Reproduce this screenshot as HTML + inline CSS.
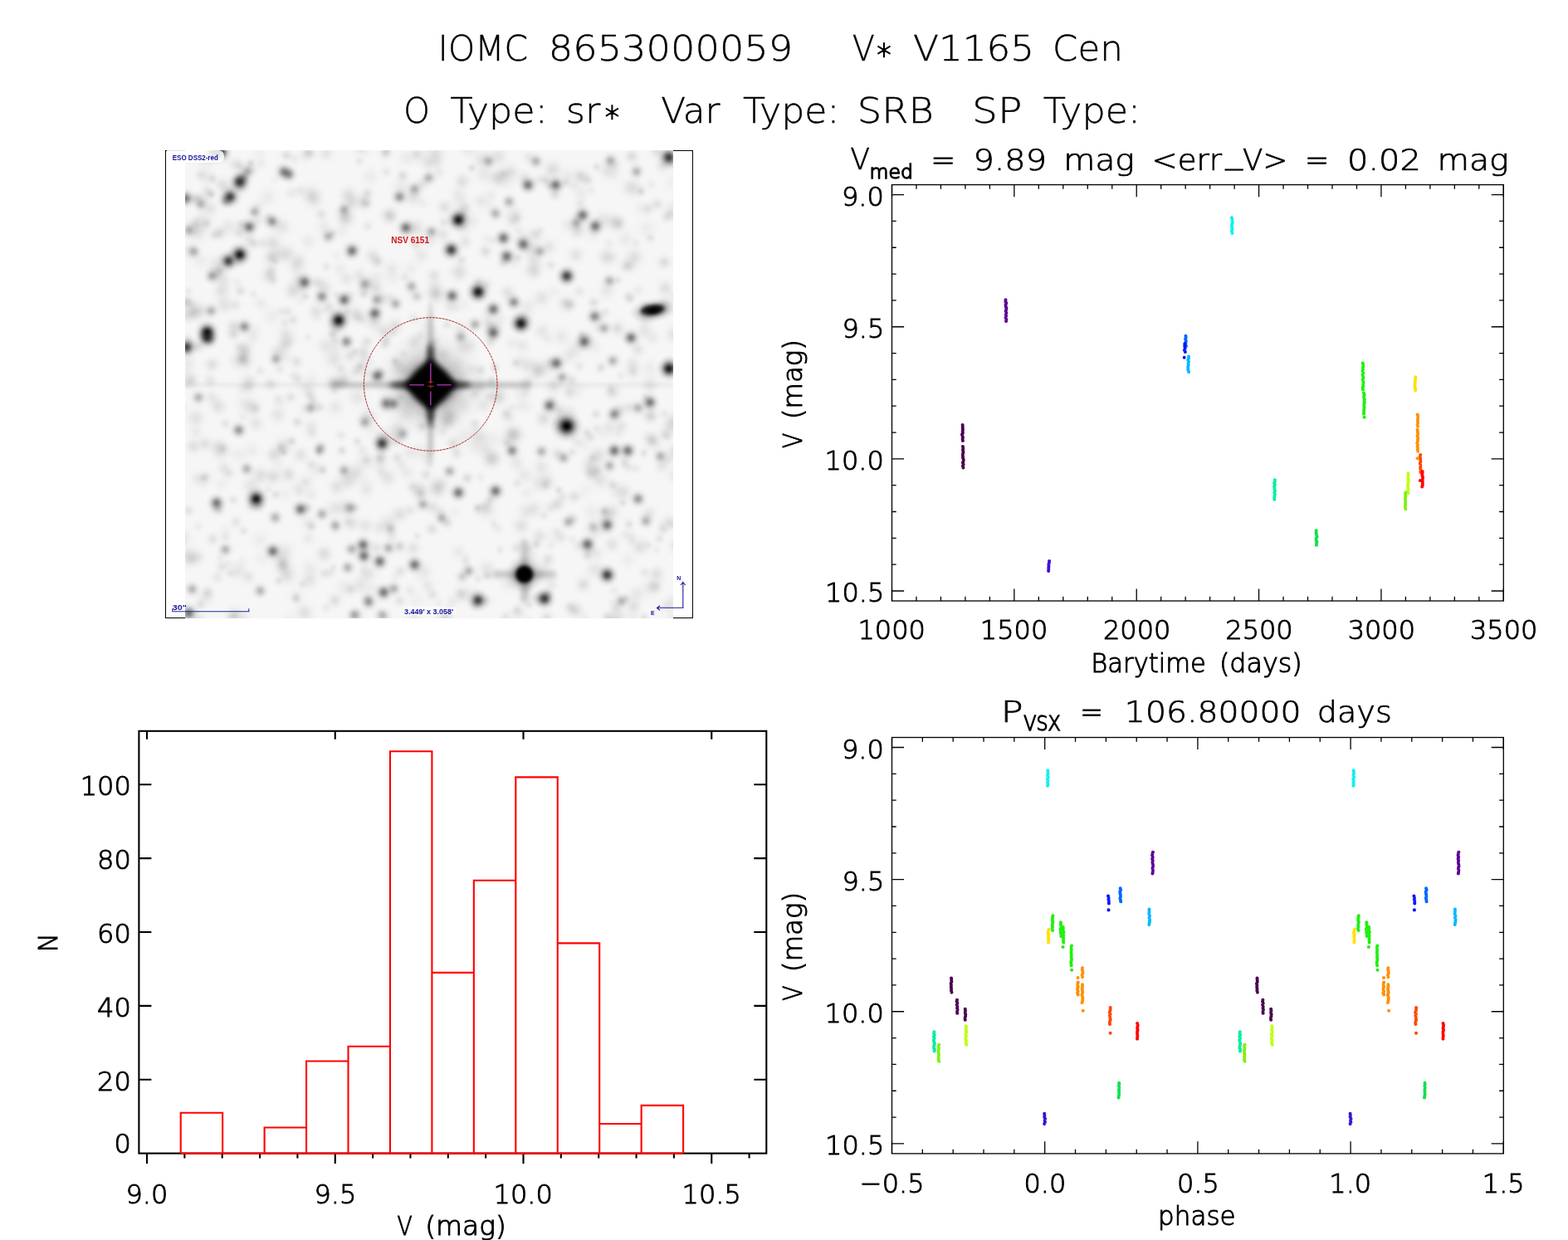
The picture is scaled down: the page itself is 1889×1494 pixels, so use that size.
<!DOCTYPE html><html><head><meta charset="utf-8"><title>IOMC 8653000059 V* V1165 Cen</title><style>html,body{margin:0;padding:0;background:#fff;width:1889px;height:1494px;overflow:hidden}svg{display:block}</style></head><body>
<svg width="1889" height="1494" viewBox="0 0 1889 1494">
<rect width="1889" height="1494" fill="#fff"/>
<rect x="199.5" y="181.5" width="635" height="563" fill="none" stroke="#000" stroke-width="1"/>
<defs><radialGradient id="sg"><stop offset="0.0" stop-opacity="1.000"/><stop offset="0.1" stop-opacity="0.956"/><stop offset="0.2" stop-opacity="0.835"/><stop offset="0.3" stop-opacity="0.667"/><stop offset="0.4" stop-opacity="0.487"/><stop offset="0.5" stop-opacity="0.325"/><stop offset="0.6" stop-opacity="0.198"/><stop offset="0.7" stop-opacity="0.110"/><stop offset="0.8" stop-opacity="0.056"/><stop offset="0.9" stop-opacity="0.026"/><stop offset="1.0" stop-opacity="0.000"/></radialGradient><radialGradient id="halo"><stop offset="0" stop-color="#000" stop-opacity="0.75"/><stop offset="0.4" stop-color="#000" stop-opacity="0.4"/><stop offset="0.7" stop-color="#000" stop-opacity="0.12"/><stop offset="1" stop-color="#000" stop-opacity="0"/></radialGradient><clipPath id="ic"><rect x="223.0" y="181.0" width="588.0" height="564.0"/></clipPath><filter id="b5" x="-50%" y="-50%" width="200%" height="200%"><feGaussianBlur stdDeviation="5"/></filter><filter id="b3" x="-50%" y="-50%" width="200%" height="200%"><feGaussianBlur stdDeviation="3"/></filter><filter id="b2" x="-50%" y="-200%" width="200%" height="500%"><feGaussianBlur stdDeviation="2"/></filter></defs>
<g clip-path="url(#ic)">
<rect x="223.0" y="181.0" width="588.0" height="564.0" fill="#f6f6f6"/>
<circle cx="488.52" cy="497.31" r="18.7" fill="url(#sg)" opacity="0.06"/><circle cx="521.69" cy="513.16" r="10.94" fill="url(#sg)" opacity="0.07"/><circle cx="594.67" cy="631.17" r="9.99" fill="url(#sg)" opacity="0.05"/><circle cx="272.22" cy="640.74" r="16.28" fill="url(#sg)" opacity="0.03"/><circle cx="805.35" cy="729.77" r="15.87" fill="url(#sg)" opacity="0.07"/><circle cx="312.18" cy="184.61" r="14.55" fill="url(#sg)" opacity="0.03"/><circle cx="331.74" cy="314.88" r="9.32" fill="url(#sg)" opacity="0.06"/><circle cx="481.44" cy="659.55" r="14.45" fill="url(#sg)" opacity="0.07"/><circle cx="516.86" cy="556.25" r="13.8" fill="url(#sg)" opacity="0.05"/><circle cx="814.6" cy="747.53" r="17.82" fill="url(#sg)" opacity="0.08"/><circle cx="406.54" cy="307.83" r="12.03" fill="url(#sg)" opacity="0.03"/><circle cx="676.24" cy="405.83" r="17.89" fill="url(#sg)" opacity="0.06"/><circle cx="790.91" cy="662.36" r="9.01" fill="url(#sg)" opacity="0.04"/><circle cx="762.34" cy="445.77" r="19.29" fill="url(#sg)" opacity="0.06"/><circle cx="261.68" cy="537.31" r="17.17" fill="url(#sg)" opacity="0.05"/><circle cx="270.11" cy="366.9" r="19.12" fill="url(#sg)" opacity="0.08"/><circle cx="288.56" cy="317.43" r="10.06" fill="url(#sg)" opacity="0.03"/><circle cx="694.62" cy="277.99" r="14.87" fill="url(#sg)" opacity="0.06"/><circle cx="332.03" cy="596.11" r="10.38" fill="url(#sg)" opacity="0.08"/><circle cx="287.67" cy="417.51" r="11.24" fill="url(#sg)" opacity="0.05"/><circle cx="798.62" cy="637.16" r="12.19" fill="url(#sg)" opacity="0.09"/><circle cx="344" cy="402.31" r="17.97" fill="url(#sg)" opacity="0.07"/><circle cx="278" cy="743.86" r="11.24" fill="url(#sg)" opacity="0.05"/><circle cx="680.07" cy="364.82" r="12.11" fill="url(#sg)" opacity="0.04"/><circle cx="271.89" cy="510.49" r="11.55" fill="url(#sg)" opacity="0.07"/><circle cx="440.28" cy="436.14" r="19.07" fill="url(#sg)" opacity="0.06"/><circle cx="561.59" cy="673.39" r="10.92" fill="url(#sg)" opacity="0.04"/><circle cx="761.24" cy="645.42" r="11.62" fill="url(#sg)" opacity="0.04"/><circle cx="660.18" cy="715.79" r="11.06" fill="url(#sg)" opacity="0.10"/><circle cx="745.55" cy="522.43" r="13.43" fill="url(#sg)" opacity="0.04"/><circle cx="241.14" cy="728.58" r="11.5" fill="url(#sg)" opacity="0.08"/><circle cx="371.67" cy="648.81" r="15.26" fill="url(#sg)" opacity="0.05"/><circle cx="322.91" cy="589.48" r="9.72" fill="url(#sg)" opacity="0.05"/><circle cx="552.5" cy="665.28" r="15.45" fill="url(#sg)" opacity="0.05"/><circle cx="766.58" cy="293.08" r="9.17" fill="url(#sg)" opacity="0.05"/><circle cx="484.53" cy="210.7" r="10.85" fill="url(#sg)" opacity="0.06"/><circle cx="560.16" cy="251.53" r="12.8" fill="url(#sg)" opacity="0.09"/><circle cx="804.34" cy="553.08" r="16.26" fill="url(#sg)" opacity="0.07"/><circle cx="301.93" cy="196.14" r="9.19" fill="url(#sg)" opacity="0.09"/><circle cx="637.18" cy="728.63" r="9.22" fill="url(#sg)" opacity="0.07"/><circle cx="506.38" cy="595.31" r="12.35" fill="url(#sg)" opacity="0.10"/><circle cx="263.01" cy="489.46" r="16.74" fill="url(#sg)" opacity="0.09"/><circle cx="658.78" cy="579.92" r="17.33" fill="url(#sg)" opacity="0.09"/><circle cx="428.4" cy="569.27" r="18.46" fill="url(#sg)" opacity="0.09"/><circle cx="467.46" cy="629.77" r="18.07" fill="url(#sg)" opacity="0.07"/><circle cx="591.73" cy="395.46" r="15.12" fill="url(#sg)" opacity="0.07"/><circle cx="265.96" cy="543.02" r="19.43" fill="url(#sg)" opacity="0.09"/><circle cx="653.47" cy="398.96" r="16.72" fill="url(#sg)" opacity="0.07"/><circle cx="481.43" cy="657.22" r="9.88" fill="url(#sg)" opacity="0.08"/><circle cx="235.81" cy="521.14" r="14.05" fill="url(#sg)" opacity="0.05"/><circle cx="635.6" cy="461.42" r="15.45" fill="url(#sg)" opacity="0.09"/><circle cx="370.99" cy="182.49" r="12.16" fill="url(#sg)" opacity="0.08"/><circle cx="339.14" cy="273.35" r="18.51" fill="url(#sg)" opacity="0.08"/><circle cx="482.28" cy="687.85" r="12.43" fill="url(#sg)" opacity="0.08"/><circle cx="336.71" cy="423.33" r="17.46" fill="url(#sg)" opacity="0.09"/><circle cx="744.4" cy="396.66" r="15.12" fill="url(#sg)" opacity="0.05"/><circle cx="299.43" cy="460.97" r="17.79" fill="url(#sg)" opacity="0.09"/><circle cx="643.31" cy="721.3" r="11.91" fill="url(#sg)" opacity="0.04"/><circle cx="487.49" cy="333.94" r="11.25" fill="url(#sg)" opacity="0.06"/><circle cx="592.19" cy="459.48" r="12.31" fill="url(#sg)" opacity="0.09"/><circle cx="805.26" cy="435.72" r="9.78" fill="url(#sg)" opacity="0.03"/><circle cx="739.95" cy="199.81" r="16.44" fill="url(#sg)" opacity="0.07"/><circle cx="402.8" cy="630.33" r="9.2" fill="url(#sg)" opacity="0.04"/><circle cx="489.99" cy="190.19" r="17.71" fill="url(#sg)" opacity="0.05"/><circle cx="302.24" cy="202.95" r="15.61" fill="url(#sg)" opacity="0.06"/><circle cx="594.72" cy="551.99" r="17.48" fill="url(#sg)" opacity="0.10"/><circle cx="627.33" cy="290.42" r="13.99" fill="url(#sg)" opacity="0.04"/><circle cx="224.44" cy="447.04" r="16.5" fill="url(#sg)" opacity="0.04"/><circle cx="380.87" cy="374.45" r="16.32" fill="url(#sg)" opacity="0.07"/><circle cx="585.44" cy="610.06" r="13.13" fill="url(#sg)" opacity="0.09"/><circle cx="759.93" cy="226.06" r="18.79" fill="url(#sg)" opacity="0.08"/><circle cx="295.69" cy="436.33" r="15.57" fill="url(#sg)" opacity="0.09"/><circle cx="443.33" cy="502.5" r="18.23" fill="url(#sg)" opacity="0.09"/><circle cx="782.67" cy="442.17" r="15.84" fill="url(#sg)" opacity="0.04"/><circle cx="649.72" cy="645.73" r="15.74" fill="url(#sg)" opacity="0.08"/><circle cx="345.55" cy="692.59" r="19.3" fill="url(#sg)" opacity="0.10"/><circle cx="539.1" cy="629.91" r="12.36" fill="url(#sg)" opacity="0.09"/><circle cx="729.76" cy="376.04" r="9.87" fill="url(#sg)" opacity="0.06"/><circle cx="547.08" cy="616.97" r="14.12" fill="url(#sg)" opacity="0.03"/><circle cx="701.87" cy="212.77" r="17.4" fill="url(#sg)" opacity="0.04"/><circle cx="418.33" cy="628.26" r="10.48" fill="url(#sg)" opacity="0.04"/><circle cx="526.88" cy="591.33" r="17.82" fill="url(#sg)" opacity="0.08"/><circle cx="783.56" cy="458.74" r="18.97" fill="url(#sg)" opacity="0.04"/><circle cx="350.41" cy="478.3" r="12.05" fill="url(#sg)" opacity="0.08"/><circle cx="600.04" cy="476.08" r="17.86" fill="url(#sg)" opacity="0.07"/><circle cx="404.4" cy="394.82" r="17.88" fill="url(#sg)" opacity="0.09"/><circle cx="342.53" cy="664.34" r="19.17" fill="url(#sg)" opacity="0.07"/><circle cx="560.65" cy="291.36" r="14.63" fill="url(#sg)" opacity="0.07"/><circle cx="579.93" cy="191.93" r="19.18" fill="url(#sg)" opacity="0.07"/><circle cx="457.55" cy="635.81" r="14.91" fill="url(#sg)" opacity="0.06"/><circle cx="631.21" cy="213.83" r="14.66" fill="url(#sg)" opacity="0.06"/><circle cx="790.21" cy="706.04" r="11.83" fill="url(#sg)" opacity="0.06"/><circle cx="293.93" cy="424.93" r="17.57" fill="url(#sg)" opacity="0.09"/><circle cx="502.97" cy="358.08" r="11.01" fill="url(#sg)" opacity="0.07"/><circle cx="771.31" cy="250.31" r="17.18" fill="url(#sg)" opacity="0.03"/><circle cx="334.08" cy="306.45" r="16.21" fill="url(#sg)" opacity="0.05"/><circle cx="430.5" cy="531.75" r="10.1" fill="url(#sg)" opacity="0.08"/><circle cx="291.42" cy="469.01" r="11.63" fill="url(#sg)" opacity="0.04"/><circle cx="535.15" cy="426.71" r="12.95" fill="url(#sg)" opacity="0.06"/><circle cx="534.55" cy="267.68" r="11.14" fill="url(#sg)" opacity="0.07"/><circle cx="599.8" cy="480" r="17.94" fill="url(#sg)" opacity="0.07"/><circle cx="730.34" cy="309.55" r="16.78" fill="url(#sg)" opacity="0.09"/><circle cx="757.8" cy="357.31" r="12.31" fill="url(#sg)" opacity="0.09"/><circle cx="348.45" cy="749.06" r="18.32" fill="url(#sg)" opacity="0.04"/><circle cx="361.13" cy="593.05" r="11.72" fill="url(#sg)" opacity="0.04"/><circle cx="715.64" cy="418.02" r="17.29" fill="url(#sg)" opacity="0.04"/><circle cx="458.86" cy="569.31" r="9.19" fill="url(#sg)" opacity="0.04"/><circle cx="626.07" cy="699.13" r="19.17" fill="url(#sg)" opacity="0.04"/><circle cx="520.4" cy="611.18" r="14.28" fill="url(#sg)" opacity="0.08"/><circle cx="331.03" cy="216.5" r="10.11" fill="url(#sg)" opacity="0.03"/><circle cx="547.9" cy="471.51" r="14.97" fill="url(#sg)" opacity="0.04"/><circle cx="328.35" cy="293.05" r="17.82" fill="url(#sg)" opacity="0.10"/><circle cx="772.28" cy="230.67" r="9.65" fill="url(#sg)" opacity="0.10"/><circle cx="494.32" cy="614.95" r="12.43" fill="url(#sg)" opacity="0.06"/><circle cx="526.14" cy="422.87" r="15.31" fill="url(#sg)" opacity="0.03"/><circle cx="637.22" cy="660.61" r="10.9" fill="url(#sg)" opacity="0.06"/><circle cx="660.12" cy="408.64" r="11.05" fill="url(#sg)" opacity="0.04"/><circle cx="524.51" cy="184.85" r="18.38" fill="url(#sg)" opacity="0.09"/><circle cx="639.39" cy="670.06" r="15.61" fill="url(#sg)" opacity="0.06"/><circle cx="576.56" cy="465.46" r="19.32" fill="url(#sg)" opacity="0.09"/><circle cx="372.44" cy="699.09" r="16.82" fill="url(#sg)" opacity="0.08"/><circle cx="705.16" cy="408.84" r="18.41" fill="url(#sg)" opacity="0.09"/><circle cx="633.49" cy="616.41" r="17.03" fill="url(#sg)" opacity="0.06"/><circle cx="650.14" cy="216.5" r="12.59" fill="url(#sg)" opacity="0.06"/><circle cx="224.34" cy="380.14" r="15.71" fill="url(#sg)" opacity="0.07"/><circle cx="356.8" cy="718.24" r="15.99" fill="url(#sg)" opacity="0.05"/><circle cx="612.54" cy="502.94" r="14.6" fill="url(#sg)" opacity="0.06"/><circle cx="815.93" cy="544.66" r="16.36" fill="url(#sg)" opacity="0.08"/><circle cx="804.09" cy="189.1" r="15.46" fill="url(#sg)" opacity="0.08"/><circle cx="371.47" cy="406.49" r="9.53" fill="url(#sg)" opacity="0.04"/><circle cx="442.65" cy="232.51" r="11.63" fill="url(#sg)" opacity="0.09"/><circle cx="546.93" cy="467.49" r="19.15" fill="url(#sg)" opacity="0.07"/><circle cx="813.07" cy="542.22" r="17.5" fill="url(#sg)" opacity="0.04"/><circle cx="575.33" cy="611.81" r="9.47" fill="url(#sg)" opacity="0.10"/><circle cx="313.64" cy="446.79" r="10.78" fill="url(#sg)" opacity="0.06"/><circle cx="583.48" cy="209.61" r="18.93" fill="url(#sg)" opacity="0.06"/><circle cx="533" cy="519.16" r="12.84" fill="url(#sg)" opacity="0.05"/><circle cx="609.76" cy="497.81" r="11.98" fill="url(#sg)" opacity="0.08"/><circle cx="395.03" cy="184.04" r="11.57" fill="url(#sg)" opacity="0.03"/><circle cx="311.64" cy="609.17" r="13.09" fill="url(#sg)" opacity="0.09"/><circle cx="665.52" cy="204.79" r="19.38" fill="url(#sg)" opacity="0.10"/><circle cx="261.96" cy="695.79" r="13.51" fill="url(#sg)" opacity="0.06"/><circle cx="799.95" cy="315.89" r="14.5" fill="url(#sg)" opacity="0.10"/><circle cx="650.2" cy="444.83" r="19.28" fill="url(#sg)" opacity="0.09"/><circle cx="578.97" cy="242.06" r="15.55" fill="url(#sg)" opacity="0.06"/><circle cx="339.79" cy="205.88" r="14.55" fill="url(#sg)" opacity="0.04"/><circle cx="482.83" cy="559.37" r="13.78" fill="url(#sg)" opacity="0.05"/><circle cx="566.18" cy="416.81" r="17.17" fill="url(#sg)" opacity="0.07"/><circle cx="814.59" cy="722.81" r="16.71" fill="url(#sg)" opacity="0.05"/><circle cx="286.09" cy="688.41" r="17.24" fill="url(#sg)" opacity="0.07"/><circle cx="432.79" cy="331.85" r="16.19" fill="url(#sg)" opacity="0.07"/><circle cx="571.82" cy="539.4" r="16.91" fill="url(#sg)" opacity="0.04"/><circle cx="366.88" cy="738.36" r="18.62" fill="url(#sg)" opacity="0.09"/><circle cx="241.63" cy="210.89" r="11.84" fill="url(#sg)" opacity="0.06"/><circle cx="590.76" cy="234.82" r="14.69" fill="url(#sg)" opacity="0.04"/><circle cx="269.69" cy="564.18" r="14.78" fill="url(#sg)" opacity="0.07"/><circle cx="441.16" cy="450.69" r="11.21" fill="url(#sg)" opacity="0.05"/><circle cx="663.41" cy="657.33" r="9.78" fill="url(#sg)" opacity="0.04"/><circle cx="701.89" cy="534.02" r="17.07" fill="url(#sg)" opacity="0.04"/><circle cx="471.77" cy="324.13" r="17.5" fill="url(#sg)" opacity="0.06"/><circle cx="608.89" cy="743.79" r="12.42" fill="url(#sg)" opacity="0.07"/><circle cx="664.17" cy="704.55" r="13.49" fill="url(#sg)" opacity="0.06"/><circle cx="276.02" cy="678.35" r="9.82" fill="url(#sg)" opacity="0.04"/><circle cx="555.4" cy="454.31" r="16.2" fill="url(#sg)" opacity="0.05"/><circle cx="681.75" cy="219.67" r="11.24" fill="url(#sg)" opacity="0.08"/><circle cx="266.86" cy="350.38" r="16.61" fill="url(#sg)" opacity="0.08"/><circle cx="387.18" cy="258.04" r="12.76" fill="url(#sg)" opacity="0.08"/><circle cx="437.1" cy="243.38" r="16.45" fill="url(#sg)" opacity="0.07"/><circle cx="767.3" cy="715.52" r="18.59" fill="url(#sg)" opacity="0.06"/><circle cx="698.22" cy="350.93" r="12.34" fill="url(#sg)" opacity="0.06"/><circle cx="776.93" cy="689.57" r="11.61" fill="url(#sg)" opacity="0.06"/><circle cx="436.61" cy="384.54" r="13.15" fill="url(#sg)" opacity="0.06"/><circle cx="334.59" cy="499.62" r="17.37" fill="url(#sg)" opacity="0.07"/><circle cx="718.15" cy="499.04" r="10.85" fill="url(#sg)" opacity="0.08"/><circle cx="744.78" cy="337.56" r="9.23" fill="url(#sg)" opacity="0.07"/><circle cx="543.4" cy="501.72" r="19.15" fill="url(#sg)" opacity="0.08"/><circle cx="698.98" cy="212.77" r="14.74" fill="url(#sg)" opacity="0.09"/><circle cx="268.26" cy="222.88" r="16.74" fill="url(#sg)" opacity="0.09"/><circle cx="268.65" cy="539.99" r="10.51" fill="url(#sg)" opacity="0.08"/><circle cx="606.1" cy="316.89" r="11.31" fill="url(#sg)" opacity="0.08"/><circle cx="529.89" cy="614.94" r="13.14" fill="url(#sg)" opacity="0.05"/><circle cx="797.03" cy="561.95" r="14.18" fill="url(#sg)" opacity="0.07"/><circle cx="649.12" cy="582.47" r="18.61" fill="url(#sg)" opacity="0.06"/><circle cx="712.09" cy="558.71" r="17.96" fill="url(#sg)" opacity="0.09"/><circle cx="716.63" cy="686.08" r="19.06" fill="url(#sg)" opacity="0.07"/><circle cx="531.27" cy="583.59" r="17.42" fill="url(#sg)" opacity="0.06"/><circle cx="469.43" cy="259.91" r="16.78" fill="url(#sg)" opacity="0.10"/><circle cx="442.56" cy="272.23" r="11.15" fill="url(#sg)" opacity="0.06"/><circle cx="392.63" cy="732.64" r="9.62" fill="url(#sg)" opacity="0.05"/><circle cx="286.66" cy="547.94" r="17.15" fill="url(#sg)" opacity="0.04"/><circle cx="255.28" cy="439.33" r="15.13" fill="url(#sg)" opacity="0.09"/><circle cx="239.75" cy="238.38" r="10.94" fill="url(#sg)" opacity="0.05"/><circle cx="358.77" cy="587.7" r="15.25" fill="url(#sg)" opacity="0.05"/><circle cx="328.62" cy="337.33" r="10.81" fill="url(#sg)" opacity="0.08"/><circle cx="404.41" cy="490.69" r="17.58" fill="url(#sg)" opacity="0.06"/><circle cx="373.76" cy="685.38" r="18.6" fill="url(#sg)" opacity="0.05"/><circle cx="545.31" cy="725.33" r="14.07" fill="url(#sg)" opacity="0.05"/><circle cx="247.72" cy="719.88" r="17.41" fill="url(#sg)" opacity="0.06"/><circle cx="533.5" cy="472.08" r="11.88" fill="url(#sg)" opacity="0.10"/><circle cx="611.22" cy="312.39" r="9.11" fill="url(#sg)" opacity="0.06"/><circle cx="440.19" cy="633.35" r="16.49" fill="url(#sg)" opacity="0.07"/><circle cx="312.06" cy="266.07" r="12.38" fill="url(#sg)" opacity="0.05"/><circle cx="737.81" cy="472.26" r="15.69" fill="url(#sg)" opacity="0.10"/><circle cx="377.37" cy="482.85" r="10.58" fill="url(#sg)" opacity="0.08"/><circle cx="218.82" cy="647.49" r="17.88" fill="url(#sg)" opacity="0.09"/><circle cx="267.29" cy="330.93" r="16.52" fill="url(#sg)" opacity="0.04"/><circle cx="505.1" cy="445.01" r="19.03" fill="url(#sg)" opacity="0.07"/><circle cx="730.69" cy="350.26" r="17.29" fill="url(#sg)" opacity="0.06"/><circle cx="766.22" cy="228.2" r="17.68" fill="url(#sg)" opacity="0.04"/><circle cx="542.94" cy="477.74" r="10.65" fill="url(#sg)" opacity="0.09"/><circle cx="404.22" cy="354.37" r="9.8" fill="url(#sg)" opacity="0.05"/><circle cx="497.4" cy="586.49" r="12.78" fill="url(#sg)" opacity="0.08"/><circle cx="281.24" cy="402.29" r="13.85" fill="url(#sg)" opacity="0.10"/><circle cx="714.19" cy="551.36" r="9.13" fill="url(#sg)" opacity="0.06"/><circle cx="642.58" cy="312.31" r="14.92" fill="url(#sg)" opacity="0.06"/><circle cx="224.26" cy="745.19" r="17.39" fill="url(#sg)" opacity="0.04"/><circle cx="586.41" cy="342.69" r="12.95" fill="url(#sg)" opacity="0.07"/><circle cx="396.33" cy="369.66" r="13.12" fill="url(#sg)" opacity="0.08"/><circle cx="371.36" cy="290.77" r="16.68" fill="url(#sg)" opacity="0.05"/><circle cx="783.13" cy="499.05" r="16.6" fill="url(#sg)" opacity="0.05"/><circle cx="712.48" cy="228.97" r="10.48" fill="url(#sg)" opacity="0.04"/><circle cx="623.26" cy="582.56" r="10.89" fill="url(#sg)" opacity="0.06"/><circle cx="718.48" cy="516.23" r="9.95" fill="url(#sg)" opacity="0.05"/><circle cx="311.94" cy="247.24" r="13.27" fill="url(#sg)" opacity="0.04"/><circle cx="768.53" cy="421.11" r="14.37" fill="url(#sg)" opacity="0.08"/><circle cx="676.58" cy="647.32" r="13.05" fill="url(#sg)" opacity="0.05"/><circle cx="464.46" cy="184.85" r="13.21" fill="url(#sg)" opacity="0.08"/><circle cx="805.21" cy="629.27" r="15.93" fill="url(#sg)" opacity="0.07"/><circle cx="229.09" cy="366" r="12.59" fill="url(#sg)" opacity="0.08"/><circle cx="281.55" cy="392.75" r="14.35" fill="url(#sg)" opacity="0.09"/><circle cx="711.46" cy="526.96" r="10.66" fill="url(#sg)" opacity="0.08"/><circle cx="757.99" cy="490.7" r="12.7" fill="url(#sg)" opacity="0.07"/><circle cx="302.77" cy="585.5" r="19.36" fill="url(#sg)" opacity="0.07"/><circle cx="645.8" cy="655.59" r="11.07" fill="url(#sg)" opacity="0.10"/><circle cx="593.01" cy="289.59" r="9.87" fill="url(#sg)" opacity="0.05"/><circle cx="562.74" cy="576.14" r="12.46" fill="url(#sg)" opacity="0.10"/><circle cx="434" cy="441.78" r="10.3" fill="url(#sg)" opacity="0.10"/><circle cx="299.09" cy="694.93" r="14.71" fill="url(#sg)" opacity="0.07"/><circle cx="553.09" cy="327.75" r="18.55" fill="url(#sg)" opacity="0.10"/><circle cx="706.87" cy="521.26" r="10.29" fill="url(#sg)" opacity="0.09"/><circle cx="390.57" cy="690.88" r="11.53" fill="url(#sg)" opacity="0.07"/><circle cx="714.79" cy="282.52" r="14.75" fill="url(#sg)" opacity="0.04"/><circle cx="237.15" cy="279.36" r="19.36" fill="url(#sg)" opacity="0.10"/><circle cx="611.71" cy="352.59" r="16.05" fill="url(#sg)" opacity="0.08"/><circle cx="446.22" cy="515.75" r="17.44" fill="url(#sg)" opacity="0.03"/><circle cx="337.32" cy="444.65" r="10.5" fill="url(#sg)" opacity="0.06"/><circle cx="558.57" cy="275.7" r="14.46" fill="url(#sg)" opacity="0.05"/><circle cx="557.68" cy="366.62" r="15.74" fill="url(#sg)" opacity="0.03"/><circle cx="619.25" cy="259.08" r="19.07" fill="url(#sg)" opacity="0.07"/><circle cx="499.01" cy="412.16" r="15.55" fill="url(#sg)" opacity="0.08"/><circle cx="671.3" cy="607.48" r="14.1" fill="url(#sg)" opacity="0.10"/><circle cx="719.27" cy="666.8" r="13.29" fill="url(#sg)" opacity="0.06"/><circle cx="556.45" cy="695.61" r="14.52" fill="url(#sg)" opacity="0.07"/><circle cx="476.47" cy="695.06" r="12.37" fill="url(#sg)" opacity="0.03"/><circle cx="651.9" cy="692.68" r="16.69" fill="url(#sg)" opacity="0.07"/><circle cx="667.63" cy="350.93" r="15.23" fill="url(#sg)" opacity="0.03"/><circle cx="292.42" cy="432.55" r="14.28" fill="url(#sg)" opacity="0.06"/><circle cx="249.08" cy="574.88" r="14.53" fill="url(#sg)" opacity="0.05"/><circle cx="401.17" cy="403.03" r="11.48" fill="url(#sg)" opacity="0.03"/><circle cx="762.95" cy="730.76" r="15.99" fill="url(#sg)" opacity="0.09"/><circle cx="470" cy="638.22" r="11.33" fill="url(#sg)" opacity="0.08"/><circle cx="556.95" cy="694.56" r="10.03" fill="url(#sg)" opacity="0.09"/><circle cx="292.03" cy="484.58" r="18.99" fill="url(#sg)" opacity="0.03"/><circle cx="363.87" cy="347.78" r="12.41" fill="url(#sg)" opacity="0.03"/><circle cx="753.28" cy="644.07" r="13.17" fill="url(#sg)" opacity="0.05"/><circle cx="568.13" cy="202.34" r="9.33" fill="url(#sg)" opacity="0.09"/><circle cx="402.09" cy="462.09" r="18.81" fill="url(#sg)" opacity="0.10"/><circle cx="500.64" cy="294.54" r="12.1" fill="url(#sg)" opacity="0.09"/><circle cx="754.28" cy="288.22" r="17.8" fill="url(#sg)" opacity="0.05"/><circle cx="500.55" cy="274.66" r="18.24" fill="url(#sg)" opacity="0.10"/><circle cx="338.8" cy="538.99" r="11.01" fill="url(#sg)" opacity="0.09"/><circle cx="247.9" cy="236.9" r="16.62" fill="url(#sg)" opacity="0.05"/><circle cx="756.38" cy="675.14" r="16.49" fill="url(#sg)" opacity="0.04"/><circle cx="634.18" cy="714.3" r="13.67" fill="url(#sg)" opacity="0.04"/><circle cx="351.5" cy="352.31" r="16.46" fill="url(#sg)" opacity="0.04"/><circle cx="326.25" cy="311.15" r="15.98" fill="url(#sg)" opacity="0.09"/><circle cx="440.76" cy="555.99" r="18.29" fill="url(#sg)" opacity="0.07"/><circle cx="354.94" cy="348.74" r="18.73" fill="url(#sg)" opacity="0.08"/><circle cx="383.55" cy="543.32" r="9.94" fill="url(#sg)" opacity="0.10"/><circle cx="481.33" cy="479.24" r="14.57" fill="url(#sg)" opacity="0.03"/><circle cx="576.62" cy="339.33" r="11.63" fill="url(#sg)" opacity="0.09"/><circle cx="270.12" cy="339.68" r="16.93" fill="url(#sg)" opacity="0.05"/><circle cx="384.9" cy="490.61" r="10.96" fill="url(#sg)" opacity="0.09"/><circle cx="808.67" cy="195.29" r="13.85" fill="url(#sg)" opacity="0.08"/><circle cx="448.06" cy="709.4" r="14.25" fill="url(#sg)" opacity="0.04"/><circle cx="550.49" cy="546.21" r="12.78" fill="url(#sg)" opacity="0.08"/><circle cx="686.23" cy="472.61" r="14.31" fill="url(#sg)" opacity="0.09"/><circle cx="627.19" cy="474.78" r="18.99" fill="url(#sg)" opacity="0.04"/><circle cx="684.23" cy="270.81" r="15.38" fill="url(#sg)" opacity="0.05"/><circle cx="481.38" cy="619.72" r="17.26" fill="url(#sg)" opacity="0.09"/><circle cx="359.09" cy="456.75" r="11.32" fill="url(#sg)" opacity="0.07"/><circle cx="516.38" cy="196.28" r="15.27" fill="url(#sg)" opacity="0.08"/><circle cx="560.44" cy="677.03" r="10.89" fill="url(#sg)" opacity="0.04"/><circle cx="228.64" cy="460.76" r="13.56" fill="url(#sg)" opacity="0.06"/><circle cx="375.24" cy="634.35" r="9.76" fill="url(#sg)" opacity="0.09"/><circle cx="558.2" cy="487.82" r="17.31" fill="url(#sg)" opacity="0.05"/><circle cx="305.45" cy="354.52" r="9.44" fill="url(#sg)" opacity="0.05"/><circle cx="589.48" cy="477.61" r="11.78" fill="url(#sg)" opacity="0.07"/><circle cx="270.91" cy="647" r="10.8" fill="url(#sg)" opacity="0.05"/><circle cx="313.57" cy="572.44" r="17.72" fill="url(#sg)" opacity="0.09"/><circle cx="254.56" cy="411.7" r="12.83" fill="url(#sg)" opacity="0.05"/><circle cx="798.38" cy="200.18" r="14.14" fill="url(#sg)" opacity="0.08"/><circle cx="807.74" cy="258.99" r="13.78" fill="url(#sg)" opacity="0.08"/><circle cx="241.46" cy="314.12" r="18.35" fill="url(#sg)" opacity="0.04"/><circle cx="452.97" cy="347.09" r="13.46" fill="url(#sg)" opacity="0.04"/><circle cx="238.49" cy="747.77" r="17.01" fill="url(#sg)" opacity="0.08"/><circle cx="355.46" cy="321.34" r="14.79" fill="url(#sg)" opacity="0.05"/><circle cx="494.01" cy="711.23" r="12.82" fill="url(#sg)" opacity="0.05"/><circle cx="804.79" cy="526.65" r="9.42" fill="url(#sg)" opacity="0.06"/><circle cx="606.58" cy="209.59" r="12.6" fill="url(#sg)" opacity="0.08"/><circle cx="734.93" cy="515.04" r="18.31" fill="url(#sg)" opacity="0.06"/><circle cx="452.97" cy="659.91" r="13" fill="url(#sg)" opacity="0.08"/><circle cx="346.8" cy="375.41" r="10.93" fill="url(#sg)" opacity="0.07"/><circle cx="315.99" cy="292.89" r="11.25" fill="url(#sg)" opacity="0.06"/><circle cx="402.51" cy="432.64" r="19.43" fill="url(#sg)" opacity="0.08"/><circle cx="733.91" cy="293.43" r="13.02" fill="url(#sg)" opacity="0.04"/><circle cx="631.43" cy="384.26" r="11.88" fill="url(#sg)" opacity="0.03"/><circle cx="326.87" cy="326.58" r="13.13" fill="url(#sg)" opacity="0.09"/><circle cx="645.69" cy="330.19" r="12.79" fill="url(#sg)" opacity="0.04"/><circle cx="778.11" cy="382.49" r="17.04" fill="url(#sg)" opacity="0.08"/><circle cx="760.43" cy="187.71" r="12.38" fill="url(#sg)" opacity="0.06"/><circle cx="267.73" cy="682.49" r="12.42" fill="url(#sg)" opacity="0.08"/><circle cx="528.54" cy="207.52" r="13.14" fill="url(#sg)" opacity="0.05"/><circle cx="242.41" cy="262.6" r="15.25" fill="url(#sg)" opacity="0.03"/><circle cx="404.74" cy="419.41" r="14.71" fill="url(#sg)" opacity="0.04"/><circle cx="640.55" cy="325.46" r="16.62" fill="url(#sg)" opacity="0.08"/><circle cx="306.02" cy="293.56" r="11.94" fill="url(#sg)" opacity="0.08"/><circle cx="460.38" cy="397.85" r="18.09" fill="url(#sg)" opacity="0.05"/><circle cx="392.66" cy="374.01" r="11.27" fill="url(#sg)" opacity="0.03"/><circle cx="232.67" cy="537.85" r="14.94" fill="url(#sg)" opacity="0.09"/><circle cx="801.41" cy="347.11" r="16.04" fill="url(#sg)" opacity="0.09"/><circle cx="347.29" cy="571.61" r="16" fill="url(#sg)" opacity="0.10"/><circle cx="737.29" cy="310.66" r="15.64" fill="url(#sg)" opacity="0.04"/><circle cx="473.77" cy="401.26" r="9.63" fill="url(#sg)" opacity="0.06"/><circle cx="414.25" cy="461.34" r="11.94" fill="url(#sg)" opacity="0.04"/><circle cx="458.66" cy="448.78" r="10.75" fill="url(#sg)" opacity="0.08"/><circle cx="361.41" cy="229.41" r="12.59" fill="url(#sg)" opacity="0.06"/><circle cx="308.17" cy="510.43" r="16.36" fill="url(#sg)" opacity="0.07"/><circle cx="636.71" cy="189.23" r="13.11" fill="url(#sg)" opacity="0.06"/><circle cx="255.64" cy="408.1" r="9.57" fill="url(#sg)" opacity="0.06"/><circle cx="568.36" cy="445.17" r="12.42" fill="url(#sg)" opacity="0.05"/><circle cx="232.07" cy="375.23" r="18.36" fill="url(#sg)" opacity="0.07"/><circle cx="374.62" cy="559.47" r="10.95" fill="url(#sg)" opacity="0.06"/><circle cx="585.92" cy="723.97" r="12.81" fill="url(#sg)" opacity="0.07"/><circle cx="781.54" cy="618.83" r="15.59" fill="url(#sg)" opacity="0.07"/><circle cx="463.75" cy="414.54" r="11.9" fill="url(#sg)" opacity="0.09"/><circle cx="744.08" cy="395.2" r="18.55" fill="url(#sg)" opacity="0.03"/><circle cx="299.24" cy="467.06" r="12.24" fill="url(#sg)" opacity="0.06"/><circle cx="802.23" cy="262.02" r="11.02" fill="url(#sg)" opacity="0.05"/><circle cx="624.74" cy="310.63" r="9.01" fill="url(#sg)" opacity="0.07"/><circle cx="453.56" cy="313.38" r="14.18" fill="url(#sg)" opacity="0.08"/><circle cx="545.78" cy="534.4" r="14.89" fill="url(#sg)" opacity="0.09"/><circle cx="797.36" cy="367.44" r="12.64" fill="url(#sg)" opacity="0.09"/><circle cx="405.39" cy="586.95" r="16.3" fill="url(#sg)" opacity="0.08"/><circle cx="794.42" cy="649.2" r="10.67" fill="url(#sg)" opacity="0.07"/><circle cx="511.41" cy="499.63" r="12.88" fill="url(#sg)" opacity="0.05"/><circle cx="665.88" cy="482.51" r="11.49" fill="url(#sg)" opacity="0.05"/><circle cx="412.34" cy="278.05" r="14.39" fill="url(#sg)" opacity="0.04"/><circle cx="255.82" cy="215.42" r="10.07" fill="url(#sg)" opacity="0.08"/><circle cx="285.44" cy="435.21" r="17.11" fill="url(#sg)" opacity="0.06"/><circle cx="315.22" cy="673.25" r="18.13" fill="url(#sg)" opacity="0.03"/><circle cx="369.83" cy="467.28" r="17.36" fill="url(#sg)" opacity="0.06"/><circle cx="646.14" cy="320.54" r="16.52" fill="url(#sg)" opacity="0.05"/><circle cx="417.64" cy="611.82" r="17.85" fill="url(#sg)" opacity="0.09"/><circle cx="557.35" cy="417.42" r="16.42" fill="url(#sg)" opacity="0.07"/><circle cx="714.94" cy="635.91" r="10.31" fill="url(#sg)" opacity="0.06"/><circle cx="618.28" cy="308.62" r="10.94" fill="url(#sg)" opacity="0.03"/><circle cx="568.14" cy="716.14" r="19.19" fill="url(#sg)" opacity="0.04"/><circle cx="629.18" cy="416.68" r="15.63" fill="url(#sg)" opacity="0.06"/><circle cx="776.16" cy="743.58" r="9.51" fill="url(#sg)" opacity="0.08"/><circle cx="288.8" cy="200.33" r="12" fill="url(#sg)" opacity="0.08"/><circle cx="812.19" cy="244.96" r="12.47" fill="url(#sg)" opacity="0.03"/><circle cx="542.45" cy="453.27" r="12.92" fill="url(#sg)" opacity="0.05"/><circle cx="696.69" cy="657.41" r="11.98" fill="url(#sg)" opacity="0.06"/><circle cx="587.42" cy="615.32" r="19.3" fill="url(#sg)" opacity="0.06"/><circle cx="633.04" cy="489.37" r="17.4" fill="url(#sg)" opacity="0.04"/><circle cx="322.7" cy="237.49" r="18.8" fill="url(#sg)" opacity="0.05"/><circle cx="509.98" cy="245.09" r="12.4" fill="url(#sg)" opacity="0.03"/><circle cx="556.42" cy="258.45" r="15.57" fill="url(#sg)" opacity="0.05"/><circle cx="354.08" cy="452.78" r="12.84" fill="url(#sg)" opacity="0.05"/><circle cx="248.64" cy="212.95" r="18.37" fill="url(#sg)" opacity="0.05"/><circle cx="264.89" cy="280.75" r="14.08" fill="url(#sg)" opacity="0.10"/><circle cx="338.92" cy="673.8" r="14.08" fill="url(#sg)" opacity="0.06"/><circle cx="700.59" cy="403.27" r="9.61" fill="url(#sg)" opacity="0.07"/><circle cx="610.82" cy="533.62" r="11.91" fill="url(#sg)" opacity="0.10"/><circle cx="735.03" cy="746.72" r="13.65" fill="url(#sg)" opacity="0.09"/><circle cx="651.53" cy="276.94" r="9.28" fill="url(#sg)" opacity="0.04"/><circle cx="289.03" cy="218.85" r="12.77" fill="url(#sg)" opacity="0.08"/><circle cx="403.38" cy="471.18" r="9.11" fill="url(#sg)" opacity="0.04"/><circle cx="791.64" cy="182.33" r="14.54" fill="url(#sg)" opacity="0.09"/><circle cx="691.79" cy="598.12" r="13.19" fill="url(#sg)" opacity="0.09"/><circle cx="712.94" cy="616.66" r="19.35" fill="url(#sg)" opacity="0.04"/><circle cx="786.33" cy="406.9" r="16.41" fill="url(#sg)" opacity="0.05"/><circle cx="761.96" cy="189.49" r="15.06" fill="url(#sg)" opacity="0.05"/><circle cx="450.26" cy="387.99" r="15.9" fill="url(#sg)" opacity="0.09"/><circle cx="436.08" cy="542.23" r="12.72" fill="url(#sg)" opacity="0.05"/><circle cx="759.28" cy="360.61" r="9.99" fill="url(#sg)" opacity="0.05"/><circle cx="661.5" cy="297.31" r="16.8" fill="url(#sg)" opacity="0.07"/><circle cx="624.77" cy="277.77" r="10.11" fill="url(#sg)" opacity="0.04"/><circle cx="427.5" cy="423.25" r="9.1" fill="url(#sg)" opacity="0.07"/><circle cx="459.2" cy="360.54" r="14.64" fill="url(#sg)" opacity="0.10"/><circle cx="340.4" cy="681.4" r="12.37" fill="url(#sg)" opacity="0.08"/><circle cx="282.8" cy="742.83" r="13.52" fill="url(#sg)" opacity="0.10"/><circle cx="349.34" cy="410.32" r="16.41" fill="url(#sg)" opacity="0.04"/><circle cx="381.47" cy="564.72" r="18.95" fill="url(#sg)" opacity="0.05"/><circle cx="327.7" cy="381.02" r="19.39" fill="url(#sg)" opacity="0.04"/><circle cx="597.57" cy="393.04" r="15.76" fill="url(#sg)" opacity="0.04"/><circle cx="586.53" cy="685.5" r="17.99" fill="url(#sg)" opacity="0.07"/><circle cx="519.9" cy="501.88" r="10.2" fill="url(#sg)" opacity="0.09"/><circle cx="630.52" cy="436.15" r="15.99" fill="url(#sg)" opacity="0.06"/><circle cx="448.02" cy="308.04" r="15.31" fill="url(#sg)" opacity="0.07"/><circle cx="526.11" cy="194.49" r="15.59" fill="url(#sg)" opacity="0.06"/><circle cx="572.83" cy="517.28" r="18.78" fill="url(#sg)" opacity="0.04"/><circle cx="498.27" cy="745.91" r="16.75" fill="url(#sg)" opacity="0.05"/><circle cx="658.58" cy="743.93" r="13.22" fill="url(#sg)" opacity="0.09"/><circle cx="293.76" cy="744.3" r="14.16" fill="url(#sg)" opacity="0.05"/><circle cx="720.45" cy="548.66" r="18.85" fill="url(#sg)" opacity="0.09"/><circle cx="695.01" cy="469.66" r="19.43" fill="url(#sg)" opacity="0.03"/><circle cx="738.32" cy="584.48" r="11.63" fill="url(#sg)" opacity="0.09"/><circle cx="489.53" cy="483.85" r="18.09" fill="url(#sg)" opacity="0.04"/><circle cx="385.21" cy="545.49" r="9.77" fill="url(#sg)" opacity="0.07"/><circle cx="688.7" cy="457.69" r="11.54" fill="url(#sg)" opacity="0.09"/><circle cx="729.32" cy="618.44" r="14.77" fill="url(#sg)" opacity="0.09"/><circle cx="694.46" cy="263.12" r="12.84" fill="url(#sg)" opacity="0.04"/><circle cx="240.01" cy="374.48" r="18.08" fill="url(#sg)" opacity="0.09"/><circle cx="288.21" cy="280.3" r="13.08" fill="url(#sg)" opacity="0.09"/><circle cx="587" cy="693.63" r="9.75" fill="url(#sg)" opacity="0.10"/><circle cx="341.63" cy="537.17" r="18.2" fill="url(#sg)" opacity="0.08"/><circle cx="335.84" cy="559.66" r="13.52" fill="url(#sg)" opacity="0.03"/><circle cx="421.07" cy="357" r="15.61" fill="url(#sg)" opacity="0.05"/><circle cx="578.64" cy="574.85" r="10.9" fill="url(#sg)" opacity="0.04"/><circle cx="632.87" cy="443.75" r="10.36" fill="url(#sg)" opacity="0.04"/><circle cx="780.74" cy="526.15" r="12.75" fill="url(#sg)" opacity="0.04"/><circle cx="812.91" cy="573.01" r="16.73" fill="url(#sg)" opacity="0.06"/><circle cx="403.54" cy="410.34" r="10.54" fill="url(#sg)" opacity="0.07"/><circle cx="471.98" cy="646.77" r="13.29" fill="url(#sg)" opacity="0.06"/><circle cx="520.88" cy="716.51" r="12.64" fill="url(#sg)" opacity="0.08"/><circle cx="358.57" cy="508.5" r="11.99" fill="url(#sg)" opacity="0.09"/><circle cx="389.32" cy="666.47" r="16.11" fill="url(#sg)" opacity="0.06"/><circle cx="776.34" cy="398.5" r="16.8" fill="url(#sg)" opacity="0.07"/><circle cx="486.15" cy="212.85" r="13.4" fill="url(#sg)" opacity="0.05"/><circle cx="481.66" cy="723.89" r="12.08" fill="url(#sg)" opacity="0.08"/><circle cx="619.89" cy="316.47" r="13.32" fill="url(#sg)" opacity="0.04"/><circle cx="753.43" cy="320.45" r="13.42" fill="url(#sg)" opacity="0.05"/><circle cx="708.67" cy="664.06" r="15.2" fill="url(#sg)" opacity="0.07"/><circle cx="277.46" cy="690.6" r="9.93" fill="url(#sg)" opacity="0.06"/><circle cx="441.94" cy="591.04" r="16.03" fill="url(#sg)" opacity="0.05"/><circle cx="754.95" cy="721.11" r="9.24" fill="url(#sg)" opacity="0.07"/><circle cx="498.58" cy="383.64" r="13.88" fill="url(#sg)" opacity="0.05"/><circle cx="619.18" cy="523.58" r="19.19" fill="url(#sg)" opacity="0.10"/><circle cx="811.58" cy="402.81" r="17.7" fill="url(#sg)" opacity="0.08"/><circle cx="637.22" cy="748.64" r="9.7" fill="url(#sg)" opacity="0.06"/><circle cx="457.97" cy="552.58" r="11.29" fill="url(#sg)" opacity="0.10"/><circle cx="343.24" cy="388.33" r="10.5" fill="url(#sg)" opacity="0.06"/><circle cx="661.6" cy="223.95" r="10.75" fill="url(#sg)" opacity="0.08"/><circle cx="590.55" cy="601.93" r="11.66" fill="url(#sg)" opacity="0.09"/><circle cx="655.06" cy="621.43" r="10.26" fill="url(#sg)" opacity="0.06"/><circle cx="227.45" cy="669.46" r="18.92" fill="url(#sg)" opacity="0.09"/><circle cx="232.46" cy="377.53" r="14.63" fill="url(#sg)" opacity="0.07"/><circle cx="284.51" cy="629.01" r="12.17" fill="url(#sg)" opacity="0.07"/><circle cx="292.51" cy="501.96" r="10.36" fill="url(#sg)" opacity="0.04"/><circle cx="524.3" cy="344.74" r="17.16" fill="url(#sg)" opacity="0.05"/><circle cx="465.53" cy="207.17" r="11.29" fill="url(#sg)" opacity="0.06"/><circle cx="551.76" cy="439.68" r="17.93" fill="url(#sg)" opacity="0.04"/><circle cx="726.36" cy="264.88" r="19.19" fill="url(#sg)" opacity="0.07"/><circle cx="461.05" cy="527.41" r="18.07" fill="url(#sg)" opacity="0.10"/><circle cx="465.2" cy="182.15" r="10.61" fill="url(#sg)" opacity="0.09"/><circle cx="657.19" cy="585.04" r="10.64" fill="url(#sg)" opacity="0.07"/><circle cx="235.07" cy="239.29" r="12.16" fill="url(#sg)" opacity="0.10"/><circle cx="602.54" cy="662.56" r="9.48" fill="url(#sg)" opacity="0.06"/><circle cx="264.85" cy="325.71" r="10.17" fill="url(#sg)" opacity="0.09"/><circle cx="414.61" cy="456.68" r="15.87" fill="url(#sg)" opacity="0.09"/><circle cx="783.98" cy="501.98" r="14.26" fill="url(#sg)" opacity="0.09"/><circle cx="453.88" cy="347.83" r="16.76" fill="url(#sg)" opacity="0.05"/><circle cx="437.98" cy="422.39" r="14.01" fill="url(#sg)" opacity="0.06"/><circle cx="475.44" cy="434.77" r="9.52" fill="url(#sg)" opacity="0.09"/><circle cx="254.92" cy="479" r="14.75" fill="url(#sg)" opacity="0.06"/><circle cx="351.16" cy="232.93" r="12.91" fill="url(#sg)" opacity="0.05"/><circle cx="507.44" cy="308.2" r="16.87" fill="url(#sg)" opacity="0.06"/><circle cx="223.36" cy="409.39" r="19.15" fill="url(#sg)" opacity="0.03"/><circle cx="572.83" cy="727.5" r="12.84" fill="url(#sg)" opacity="0.07"/><circle cx="438.6" cy="348.87" r="15.4" fill="url(#sg)" opacity="0.07"/><circle cx="406.45" cy="461.64" r="14.42" fill="url(#sg)" opacity="0.08"/><circle cx="249.72" cy="229.29" r="11.65" fill="url(#sg)" opacity="0.05"/><circle cx="693.8" cy="420.25" r="18.03" fill="url(#sg)" opacity="0.06"/><circle cx="388.89" cy="566.26" r="9.9" fill="url(#sg)" opacity="0.10"/><circle cx="715.26" cy="364.38" r="12.33" fill="url(#sg)" opacity="0.09"/><circle cx="689.4" cy="544.66" r="9.6" fill="url(#sg)" opacity="0.08"/><circle cx="246.67" cy="534.58" r="14.8" fill="url(#sg)" opacity="0.09"/><circle cx="599.94" cy="188.83" r="18.81" fill="url(#sg)" opacity="0.08"/><circle cx="564.74" cy="179.2" r="16.74" fill="url(#sg)" opacity="0.06"/><circle cx="624.43" cy="740.64" r="18.63" fill="url(#sg)" opacity="0.04"/><circle cx="685.27" cy="428.86" r="16.89" fill="url(#sg)" opacity="0.06"/><circle cx="485.71" cy="426.77" r="10.24" fill="url(#sg)" opacity="0.05"/><circle cx="657.34" cy="217.01" r="10.22" fill="url(#sg)" opacity="0.09"/><circle cx="616.42" cy="490.62" r="10.19" fill="url(#sg)" opacity="0.04"/><circle cx="403.41" cy="723.52" r="14.88" fill="url(#sg)" opacity="0.09"/><circle cx="344.27" cy="414.11" r="14.63" fill="url(#sg)" opacity="0.09"/><circle cx="291.77" cy="677.51" r="13.96" fill="url(#sg)" opacity="0.03"/><circle cx="476.3" cy="392.7" r="16.08" fill="url(#sg)" opacity="0.09"/><circle cx="513.19" cy="571.81" r="13.07" fill="url(#sg)" opacity="0.08"/><circle cx="280.92" cy="602.1" r="10.75" fill="url(#sg)" opacity="0.07"/><circle cx="338.87" cy="374.76" r="10.72" fill="url(#sg)" opacity="0.05"/><circle cx="571.66" cy="474.46" r="13.08" fill="url(#sg)" opacity="0.07"/><circle cx="721.69" cy="381.64" r="15.13" fill="url(#sg)" opacity="0.06"/><circle cx="804.4" cy="364.28" r="16.32" fill="url(#sg)" opacity="0.05"/><circle cx="374.24" cy="595.25" r="15.04" fill="url(#sg)" opacity="0.05"/><circle cx="256.38" cy="649.46" r="12.96" fill="url(#sg)" opacity="0.08"/><circle cx="476.77" cy="530.52" r="14.88" fill="url(#sg)" opacity="0.10"/><circle cx="761.96" cy="437.62" r="14.11" fill="url(#sg)" opacity="0.05"/><circle cx="668.37" cy="234.72" r="12.22" fill="url(#sg)" opacity="0.09"/><circle cx="238.97" cy="576.92" r="14.96" fill="url(#sg)" opacity="0.07"/><circle cx="417.16" cy="262.99" r="18.98" fill="url(#sg)" opacity="0.08"/><circle cx="699.84" cy="232.07" r="17.23" fill="url(#sg)" opacity="0.05"/><circle cx="337.16" cy="483.07" r="15.4" fill="url(#sg)" opacity="0.04"/><circle cx="675.4" cy="510.32" r="18.44" fill="url(#sg)" opacity="0.09"/><circle cx="630.19" cy="384.95" r="18.99" fill="url(#sg)" opacity="0.08"/><circle cx="391.95" cy="668.27" r="16.63" fill="url(#sg)" opacity="0.05"/><circle cx="367.02" cy="187.67" r="14.64" fill="url(#sg)" opacity="0.05"/><circle cx="393.24" cy="321.15" r="10.38" fill="url(#sg)" opacity="0.06"/><circle cx="381.03" cy="339.62" r="11.91" fill="url(#sg)" opacity="0.07"/><circle cx="740.54" cy="267.9" r="18.03" fill="url(#sg)" opacity="0.09"/><circle cx="582.42" cy="488.13" r="16.71" fill="url(#sg)" opacity="0.07"/><circle cx="612.65" cy="703.66" r="17.14" fill="url(#sg)" opacity="0.05"/><circle cx="250.49" cy="713.64" r="12.81" fill="url(#sg)" opacity="0.09"/><circle cx="357.59" cy="435.93" r="12.89" fill="url(#sg)" opacity="0.08"/><circle cx="782.29" cy="466.24" r="14.94" fill="url(#sg)" opacity="0.05"/><circle cx="356.85" cy="721.23" r="10.16" fill="url(#sg)" opacity="0.10"/><circle cx="610.97" cy="217.21" r="18.47" fill="url(#sg)" opacity="0.04"/><circle cx="556.13" cy="244.72" r="19.38" fill="url(#sg)" opacity="0.05"/><circle cx="739.53" cy="211.26" r="16" fill="url(#sg)" opacity="0.03"/><circle cx="235.74" cy="503.71" r="19.32" fill="url(#sg)" opacity="0.08"/><circle cx="729.48" cy="626.49" r="14.47" fill="url(#sg)" opacity="0.04"/><circle cx="533.14" cy="281.94" r="14.53" fill="url(#sg)" opacity="0.05"/><circle cx="516.4" cy="289.37" r="16.4" fill="url(#sg)" opacity="0.06"/><circle cx="508.57" cy="221.17" r="14.11" fill="url(#sg)" opacity="0.07"/><circle cx="799.58" cy="498.27" r="10.42" fill="url(#sg)" opacity="0.05"/><circle cx="418.71" cy="579" r="18.86" fill="url(#sg)" opacity="0.10"/><circle cx="786.07" cy="707.15" r="18.02" fill="url(#sg)" opacity="0.10"/><circle cx="230.07" cy="457.08" r="15.2" fill="url(#sg)" opacity="0.08"/><circle cx="584.42" cy="527.94" r="18.8" fill="url(#sg)" opacity="0.04"/><circle cx="528.51" cy="726.74" r="9.33" fill="url(#sg)" opacity="0.04"/><circle cx="737.69" cy="725.41" r="9.25" fill="url(#sg)" opacity="0.03"/><circle cx="714.19" cy="571.18" r="14.46" fill="url(#sg)" opacity="0.07"/><circle cx="670.91" cy="639.68" r="9.01" fill="url(#sg)" opacity="0.03"/><circle cx="692.91" cy="735.88" r="17.75" fill="url(#sg)" opacity="0.06"/><circle cx="418.65" cy="375.03" r="9.16" fill="url(#sg)" opacity="0.08"/><circle cx="374.83" cy="512.16" r="14.52" fill="url(#sg)" opacity="0.05"/><circle cx="621.59" cy="437.11" r="11.46" fill="url(#sg)" opacity="0.09"/><circle cx="323.07" cy="262.08" r="11.66" fill="url(#sg)" opacity="0.06"/><circle cx="686.63" cy="367.07" r="11.5" fill="url(#sg)" opacity="0.08"/><circle cx="373.63" cy="476.06" r="11.68" fill="url(#sg)" opacity="0.09"/><circle cx="328.34" cy="309.29" r="12.17" fill="url(#sg)" opacity="0.05"/><circle cx="652.41" cy="562.95" r="17.3" fill="url(#sg)" opacity="0.07"/><circle cx="264.99" cy="614.23" r="11.57" fill="url(#sg)" opacity="0.05"/><circle cx="465.79" cy="744.15" r="12.89" fill="url(#sg)" opacity="0.05"/><circle cx="762.78" cy="744.52" r="13.07" fill="url(#sg)" opacity="0.04"/><circle cx="690.19" cy="625.04" r="12.55" fill="url(#sg)" opacity="0.09"/><circle cx="444.93" cy="340.78" r="15.23" fill="url(#sg)" opacity="0.08"/><circle cx="502.56" cy="645.73" r="9.15" fill="url(#sg)" opacity="0.06"/><circle cx="445.48" cy="213.37" r="18.6" fill="url(#sg)" opacity="0.04"/><circle cx="340.94" cy="680.05" r="19.09" fill="url(#sg)" opacity="0.10"/><circle cx="422.46" cy="710.24" r="10.49" fill="url(#sg)" opacity="0.08"/><circle cx="783.47" cy="286.59" r="10.42" fill="url(#sg)" opacity="0.08"/><circle cx="745.75" cy="592.99" r="18.97" fill="url(#sg)" opacity="0.06"/><circle cx="440.64" cy="244.96" r="11.87" fill="url(#sg)" opacity="0.10"/><circle cx="260.85" cy="282.1" r="12.65" fill="url(#sg)" opacity="0.03"/><circle cx="401.56" cy="280.95" r="10.29" fill="url(#sg)" opacity="0.07"/><circle cx="541.11" cy="501.86" r="17" fill="url(#sg)" opacity="0.07"/><circle cx="784.38" cy="222.77" r="11.34" fill="url(#sg)" opacity="0.04"/><circle cx="403.03" cy="612.63" r="18.7" fill="url(#sg)" opacity="0.07"/><circle cx="313.88" cy="365.66" r="14.97" fill="url(#sg)" opacity="0.05"/><circle cx="692.09" cy="734.26" r="13.83" fill="url(#sg)" opacity="0.07"/><circle cx="723.91" cy="442.94" r="11" fill="url(#sg)" opacity="0.10"/><circle cx="802.79" cy="190.02" r="17.01" fill="url(#sg)" opacity="0.06"/><circle cx="249.03" cy="269.47" r="10.82" fill="url(#sg)" opacity="0.08"/><circle cx="344.53" cy="187.26" r="11.31" fill="url(#sg)" opacity="0.09"/><circle cx="516.51" cy="550.71" r="13.88" fill="url(#sg)" opacity="0.04"/><circle cx="227.08" cy="350.67" r="9.44" fill="url(#sg)" opacity="0.05"/><circle cx="588.02" cy="388.02" r="13.97" fill="url(#sg)" opacity="0.07"/><circle cx="407.63" cy="380.67" r="18.28" fill="url(#sg)" opacity="0.07"/><circle cx="467.34" cy="486.03" r="13.83" fill="url(#sg)" opacity="0.05"/><circle cx="764.4" cy="309.94" r="18.83" fill="url(#sg)" opacity="0.09"/><circle cx="745.43" cy="269.34" r="14.34" fill="url(#sg)" opacity="0.10"/><circle cx="390.61" cy="274.13" r="16.6" fill="url(#sg)" opacity="0.05"/><circle cx="567.01" cy="266.47" r="18.95" fill="url(#sg)" opacity="0.05"/><circle cx="275.97" cy="570.51" r="12.64" fill="url(#sg)" opacity="0.07"/><circle cx="515.34" cy="705.55" r="14.4" fill="url(#sg)" opacity="0.06"/><circle cx="218.98" cy="460.99" r="11.83" fill="url(#sg)" opacity="0.07"/><circle cx="595.87" cy="441.33" r="9.94" fill="url(#sg)" opacity="0.06"/><circle cx="506.11" cy="544.1" r="19.19" fill="url(#sg)" opacity="0.05"/><circle cx="482.76" cy="224.57" r="17.4" fill="url(#sg)" opacity="0.05"/><circle cx="713.78" cy="634.02" r="11.67" fill="url(#sg)" opacity="0.09"/><circle cx="519.36" cy="420.64" r="14.83" fill="url(#sg)" opacity="0.10"/><circle cx="510.95" cy="452.79" r="12.05" fill="url(#sg)" opacity="0.09"/><circle cx="518.81" cy="372.59" r="11.06" fill="url(#sg)" opacity="0.05"/><circle cx="716.82" cy="637.2" r="19.28" fill="url(#sg)" opacity="0.09"/><circle cx="627.7" cy="633.72" r="16.47" fill="url(#sg)" opacity="0.09"/><circle cx="697.16" cy="277.15" r="17.55" fill="url(#sg)" opacity="0.05"/><circle cx="363.96" cy="703.82" r="9.24" fill="url(#sg)" opacity="0.07"/><circle cx="423.2" cy="630.47" r="15.41" fill="url(#sg)" opacity="0.09"/><circle cx="775.64" cy="545.82" r="9.68" fill="url(#sg)" opacity="0.08"/><circle cx="283.41" cy="739.77" r="18.15" fill="url(#sg)" opacity="0.05"/><circle cx="329.18" cy="574.49" r="16.96" fill="url(#sg)" opacity="0.10"/><circle cx="590.49" cy="247.91" r="16.63" fill="url(#sg)" opacity="0.03"/><circle cx="736.9" cy="617.2" r="17.25" fill="url(#sg)" opacity="0.09"/><circle cx="558.35" cy="717.53" r="15.71" fill="url(#sg)" opacity="0.06"/><circle cx="447.92" cy="378.84" r="9.24" fill="url(#sg)" opacity="0.04"/><circle cx="693.8" cy="307.28" r="15.86" fill="url(#sg)" opacity="0.08"/><circle cx="633.28" cy="472.08" r="12.32" fill="url(#sg)" opacity="0.05"/><circle cx="330.03" cy="547.86" r="16.21" fill="url(#sg)" opacity="0.10"/><circle cx="415.69" cy="708.16" r="18.57" fill="url(#sg)" opacity="0.05"/><circle cx="787.32" cy="531.52" r="19.11" fill="url(#sg)" opacity="0.08"/><circle cx="417.3" cy="336.32" r="14.49" fill="url(#sg)" opacity="0.06"/><circle cx="239.17" cy="671.08" r="14.62" fill="url(#sg)" opacity="0.06"/><circle cx="663.27" cy="319.37" r="11.09" fill="url(#sg)" opacity="0.07"/><circle cx="362.31" cy="363.99" r="9.73" fill="url(#sg)" opacity="0.03"/><circle cx="430.48" cy="478.45" r="18.96" fill="url(#sg)" opacity="0.07"/><circle cx="465.81" cy="409.49" r="11.47" fill="url(#sg)" opacity="0.06"/><circle cx="791.52" cy="246" r="13.55" fill="url(#sg)" opacity="0.08"/><circle cx="673.93" cy="494.62" r="15.73" fill="url(#sg)" opacity="0.10"/><circle cx="757.73" cy="320.17" r="14.68" fill="url(#sg)" opacity="0.10"/><circle cx="533.58" cy="284.7" r="17.04" fill="url(#sg)" opacity="0.03"/><circle cx="307.89" cy="492.44" r="11.86" fill="url(#sg)" opacity="0.08"/><circle cx="652.62" cy="359.27" r="17.05" fill="url(#sg)" opacity="0.08"/><circle cx="640.17" cy="438.11" r="13.54" fill="url(#sg)" opacity="0.04"/><circle cx="501.96" cy="723.99" r="18.33" fill="url(#sg)" opacity="0.03"/><circle cx="260.48" cy="330.65" r="16.29" fill="url(#sg)" opacity="0.06"/><circle cx="294.45" cy="420.3" r="15.02" fill="url(#sg)" opacity="0.08"/><circle cx="459.01" cy="548.9" r="16.15" fill="url(#sg)" opacity="0.07"/><circle cx="245.75" cy="583.83" r="10.35" fill="url(#sg)" opacity="0.03"/><circle cx="501.25" cy="185.66" r="9.77" fill="url(#sg)" opacity="0.06"/><circle cx="498.2" cy="236.62" r="19.01" fill="url(#sg)" opacity="0.09"/><circle cx="509.02" cy="513.39" r="12.31" fill="url(#sg)" opacity="0.10"/><circle cx="289.71" cy="350.59" r="11.32" fill="url(#sg)" opacity="0.09"/><circle cx="522.27" cy="411.59" r="13.19" fill="url(#sg)" opacity="0.09"/><circle cx="371.94" cy="630.2" r="16.43" fill="url(#sg)" opacity="0.06"/><circle cx="436.74" cy="426.75" r="13.76" fill="url(#sg)" opacity="0.05"/><circle cx="591.06" cy="412" r="12.19" fill="url(#sg)" opacity="0.08"/><circle cx="490.17" cy="447.82" r="18.24" fill="url(#sg)" opacity="0.06"/><circle cx="442.85" cy="691.45" r="19.25" fill="url(#sg)" opacity="0.08"/><circle cx="458.06" cy="561.25" r="16.78" fill="url(#sg)" opacity="0.05"/><circle cx="650.95" cy="721.17" r="15.89" fill="url(#sg)" opacity="0.08"/><circle cx="478.19" cy="551.06" r="11.37" fill="url(#sg)" opacity="0.08"/><circle cx="540.41" cy="738.5" r="12.59" fill="url(#sg)" opacity="0.08"/><circle cx="228.01" cy="414.86" r="17.05" fill="url(#sg)" opacity="0.05"/><circle cx="584.89" cy="302.8" r="13.18" fill="url(#sg)" opacity="0.10"/><circle cx="335.59" cy="699.92" r="9.63" fill="url(#sg)" opacity="0.07"/><circle cx="709.13" cy="656.63" r="13.11" fill="url(#sg)" opacity="0.07"/><circle cx="643.85" cy="613.22" r="16.84" fill="url(#sg)" opacity="0.07"/><circle cx="368.44" cy="580.79" r="14.89" fill="url(#sg)" opacity="0.07"/><circle cx="808.27" cy="254.34" r="17.2" fill="url(#sg)" opacity="0.05"/><circle cx="652.49" cy="721.5" r="11.88" fill="url(#sg)" opacity="0.07"/><circle cx="533.92" cy="460.24" r="10.75" fill="url(#sg)" opacity="0.07"/><circle cx="752.29" cy="556.72" r="12.04" fill="url(#sg)" opacity="0.09"/><circle cx="469.17" cy="259.35" r="15.36" fill="url(#sg)" opacity="0.06"/><circle cx="534.83" cy="744.93" r="14.98" fill="url(#sg)" opacity="0.10"/><circle cx="428.87" cy="611.62" r="9.79" fill="url(#sg)" opacity="0.05"/><circle cx="631.77" cy="572.18" r="17.7" fill="url(#sg)" opacity="0.06"/><circle cx="381.63" cy="381.73" r="14.64" fill="url(#sg)" opacity="0.03"/><circle cx="441.97" cy="553.26" r="10.56" fill="url(#sg)" opacity="0.05"/><circle cx="739.83" cy="711.86" r="11.62" fill="url(#sg)" opacity="0.04"/><circle cx="288.39" cy="225.2" r="17.34" fill="url(#sg)" opacity="0.08"/><circle cx="376.11" cy="456.75" r="16.3" fill="url(#sg)" opacity="0.03"/><circle cx="707.7" cy="669.37" r="11.22" fill="url(#sg)" opacity="0.08"/><circle cx="636.18" cy="369.47" r="18.22" fill="url(#sg)" opacity="0.05"/><circle cx="501.4" cy="356.07" r="13.64" fill="url(#sg)" opacity="0.09"/><circle cx="558.84" cy="525.73" r="19.36" fill="url(#sg)" opacity="0.05"/><circle cx="351.19" cy="531.7" r="10.58" fill="url(#sg)" opacity="0.10"/><circle cx="422.06" cy="428.59" r="13.53" fill="url(#sg)" opacity="0.09"/><circle cx="765.37" cy="564.6" r="10.8" fill="url(#sg)" opacity="0.05"/><circle cx="640.42" cy="300.03" r="18.27" fill="url(#sg)" opacity="0.09"/><circle cx="353.45" cy="385.09" r="11.4" fill="url(#sg)" opacity="0.08"/><circle cx="246.17" cy="575.33" r="9.66" fill="url(#sg)" opacity="0.09"/><circle cx="542.86" cy="510.74" r="10" fill="url(#sg)" opacity="0.03"/><circle cx="429.14" cy="741.23" r="15.3" fill="url(#sg)" opacity="0.09"/><circle cx="255.46" cy="234.46" r="9.22" fill="url(#sg)" opacity="0.08"/><circle cx="323.48" cy="332.51" r="16" fill="url(#sg)" opacity="0.08"/><circle cx="410.8" cy="444.32" r="12.03" fill="url(#sg)" opacity="0.07"/><circle cx="430.81" cy="382.64" r="11.61" fill="url(#sg)" opacity="0.05"/><circle cx="374.04" cy="185.32" r="12.26" fill="url(#sg)" opacity="0.07"/><circle cx="378.66" cy="240.85" r="17.88" fill="url(#sg)" opacity="0.06"/><circle cx="524.04" cy="355.02" r="18.31" fill="url(#sg)" opacity="0.08"/><circle cx="590.34" cy="554.51" r="16.27" fill="url(#sg)" opacity="0.07"/><circle cx="465.07" cy="399.86" r="14.29" fill="url(#sg)" opacity="0.06"/><circle cx="534.29" cy="481.97" r="17.28" fill="url(#sg)" opacity="0.09"/><circle cx="351.93" cy="188.75" r="12.16" fill="url(#sg)" opacity="0.03"/><circle cx="694.23" cy="532.09" r="12" fill="url(#sg)" opacity="0.04"/><circle cx="737.43" cy="655.93" r="16.18" fill="url(#sg)" opacity="0.08"/><circle cx="663.24" cy="436.96" r="13.17" fill="url(#sg)" opacity="0.07"/><circle cx="744.5" cy="745.05" r="18.63" fill="url(#sg)" opacity="0.09"/><circle cx="262.48" cy="317.74" r="19.2" fill="url(#sg)" opacity="0.07"/><circle cx="525.86" cy="353.84" r="18.05" fill="url(#sg)" opacity="0.07"/><circle cx="810.23" cy="219.37" r="19.43" fill="url(#sg)" opacity="0.03"/><circle cx="306.66" cy="399.58" r="15.71" fill="url(#sg)" opacity="0.04"/><circle cx="554.32" cy="715.19" r="13.57" fill="url(#sg)" opacity="0.08"/><circle cx="571.95" cy="510.29" r="10.82" fill="url(#sg)" opacity="0.06"/><circle cx="756.41" cy="562.98" r="11.28" fill="url(#sg)" opacity="0.06"/><circle cx="543.06" cy="369.3" r="15.07" fill="url(#sg)" opacity="0.07"/><circle cx="228.67" cy="302.29" r="15.9" fill="url(#sg)" opacity="0.05"/><circle cx="261.52" cy="613.32" r="12.51" fill="url(#sg)" opacity="0.10"/><circle cx="552.14" cy="234.15" r="15.69" fill="url(#sg)" opacity="0.05"/><circle cx="705.03" cy="591.66" r="16.96" fill="url(#sg)" opacity="0.03"/><circle cx="238.46" cy="633.98" r="10.48" fill="url(#sg)" opacity="0.04"/><circle cx="235.89" cy="269.86" r="13.97" fill="url(#sg)" opacity="0.10"/><circle cx="410.14" cy="324.85" r="17.69" fill="url(#sg)" opacity="0.04"/><circle cx="597.8" cy="529.11" r="18.82" fill="url(#sg)" opacity="0.03"/><circle cx="554.78" cy="395.76" r="17.65" fill="url(#sg)" opacity="0.05"/><circle cx="645.56" cy="282.34" r="14.2" fill="url(#sg)" opacity="0.10"/><circle cx="361.48" cy="336.08" r="18.63" fill="url(#sg)" opacity="0.08"/><circle cx="257.41" cy="283.04" r="11.49" fill="url(#sg)" opacity="0.05"/><circle cx="723.07" cy="578.1" r="19.29" fill="url(#sg)" opacity="0.08"/><circle cx="593.46" cy="395.91" r="16.53" fill="url(#sg)" opacity="0.06"/><circle cx="253.21" cy="458.42" r="13.03" fill="url(#sg)" opacity="0.07"/><circle cx="247.15" cy="192.03" r="19.32" fill="url(#sg)" opacity="0.06"/><circle cx="415.35" cy="261.14" r="15.22" fill="url(#sg)" opacity="0.09"/><circle cx="325.86" cy="463.13" r="14.25" fill="url(#sg)" opacity="0.08"/><circle cx="555.92" cy="313.11" r="10.99" fill="url(#sg)" opacity="0.08"/><circle cx="264.72" cy="672.34" r="9.35" fill="url(#sg)" opacity="0.04"/><circle cx="497.74" cy="660.46" r="15.51" fill="url(#sg)" opacity="0.08"/><circle cx="673.09" cy="590.65" r="9.54" fill="url(#sg)" opacity="0.09"/><circle cx="306.34" cy="269.17" r="9.39" fill="url(#sg)" opacity="0.03"/><circle cx="742.41" cy="394.68" r="9.91" fill="url(#sg)" opacity="0.03"/><circle cx="724.14" cy="521.31" r="18.62" fill="url(#sg)" opacity="0.03"/><circle cx="285.31" cy="340.55" r="11.01" fill="url(#sg)" opacity="0.04"/><circle cx="337.93" cy="543.57" r="10.77" fill="url(#sg)" opacity="0.04"/><circle cx="538.25" cy="391.54" r="10.57" fill="url(#sg)" opacity="0.07"/><circle cx="521.76" cy="398.72" r="13.98" fill="url(#sg)" opacity="0.03"/><circle cx="585.81" cy="287" r="12.53" fill="url(#sg)" opacity="0.03"/><circle cx="748.85" cy="513.3" r="13.12" fill="url(#sg)" opacity="0.07"/><circle cx="780.04" cy="251.81" r="13.03" fill="url(#sg)" opacity="0.08"/><circle cx="440.52" cy="581.69" r="18.54" fill="url(#sg)" opacity="0.03"/><circle cx="388.13" cy="344.08" r="16.88" fill="url(#sg)" opacity="0.08"/><circle cx="636.28" cy="706.81" r="10.95" fill="url(#sg)" opacity="0.06"/><circle cx="728.04" cy="615.41" r="10.18" fill="url(#sg)" opacity="0.10"/><circle cx="660.81" cy="673.04" r="12.8" fill="url(#sg)" opacity="0.07"/><circle cx="791.33" cy="691.41" r="15.06" fill="url(#sg)" opacity="0.09"/><circle cx="815.39" cy="657.72" r="15.89" fill="url(#sg)" opacity="0.10"/><circle cx="303.95" cy="407.72" r="14.92" fill="url(#sg)" opacity="0.04"/><circle cx="684.89" cy="211.67" r="15.6" fill="url(#sg)" opacity="0.05"/><circle cx="411.05" cy="524.32" r="11.01" fill="url(#sg)" opacity="0.06"/><circle cx="730.61" cy="742.46" r="11.76" fill="url(#sg)" opacity="0.06"/><circle cx="632.87" cy="284.92" r="17.92" fill="url(#sg)" opacity="0.04"/><circle cx="550.92" cy="370.83" r="9.01" fill="url(#sg)" opacity="0.03"/><circle cx="219.17" cy="364.4" r="11.89" fill="url(#sg)" opacity="0.10"/><circle cx="599.32" cy="213.45" r="16.52" fill="url(#sg)" opacity="0.05"/><circle cx="505.96" cy="590.78" r="18" fill="url(#sg)" opacity="0.10"/><circle cx="469.72" cy="358.37" r="13.17" fill="url(#sg)" opacity="0.05"/><circle cx="661.51" cy="441.75" r="16.2" fill="url(#sg)" opacity="0.04"/><circle cx="686.12" cy="730.92" r="11.13" fill="url(#sg)" opacity="0.07"/><circle cx="314.93" cy="196.28" r="13.35" fill="url(#sg)" opacity="0.04"/><circle cx="654.96" cy="504.52" r="16.08" fill="url(#sg)" opacity="0.10"/><circle cx="252.84" cy="232.46" r="9.38" fill="url(#sg)" opacity="0.06"/><circle cx="711.04" cy="568.49" r="14.75" fill="url(#sg)" opacity="0.09"/><circle cx="440.55" cy="240.84" r="15.74" fill="url(#sg)" opacity="0.03"/><circle cx="355.16" cy="193.1" r="10.7" fill="url(#sg)" opacity="0.03"/><circle cx="535.86" cy="249.53" r="15.34" fill="url(#sg)" opacity="0.09"/><circle cx="423.95" cy="245.07" r="16.05" fill="url(#sg)" opacity="0.08"/><circle cx="746.63" cy="494.06" r="15.11" fill="url(#sg)" opacity="0.09"/><circle cx="622.97" cy="735.58" r="12.01" fill="url(#sg)" opacity="0.08"/><circle cx="596.44" cy="444.87" r="9.11" fill="url(#sg)" opacity="0.06"/><circle cx="375.5" cy="521.27" r="14.35" fill="url(#sg)" opacity="0.07"/><circle cx="253.14" cy="251.51" r="15.37" fill="url(#sg)" opacity="0.08"/><circle cx="810.34" cy="631.03" r="12.05" fill="url(#sg)" opacity="0.06"/><circle cx="520.43" cy="637.49" r="13.14" fill="url(#sg)" opacity="0.09"/><circle cx="507.41" cy="404.44" r="14.04" fill="url(#sg)" opacity="0.06"/><circle cx="815.78" cy="202.61" r="13.2" fill="url(#sg)" opacity="0.04"/><circle cx="623.39" cy="262.48" r="10.57" fill="url(#sg)" opacity="0.06"/><circle cx="578.04" cy="614.31" r="13.67" fill="url(#sg)" opacity="0.05"/><circle cx="437.98" cy="685.91" r="11.24" fill="url(#sg)" opacity="0.03"/><circle cx="747.71" cy="453.21" r="10.39" fill="url(#sg)" opacity="0.04"/><circle cx="750.46" cy="606" r="9.68" fill="url(#sg)" opacity="0.08"/><circle cx="345.88" cy="431.95" r="15.35" fill="url(#sg)" opacity="0.03"/><circle cx="777.43" cy="368.4" r="10.51" fill="url(#sg)" opacity="0.08"/><circle cx="283.26" cy="197.34" r="15.85" fill="url(#sg)" opacity="0.06"/><circle cx="756.55" cy="629.85" r="11.17" fill="url(#sg)" opacity="0.03"/><circle cx="578.83" cy="446.01" r="12.16" fill="url(#sg)" opacity="0.09"/><circle cx="342.66" cy="545.23" r="9.77" fill="url(#sg)" opacity="0.09"/><circle cx="785.35" cy="530.76" r="12.36" fill="url(#sg)" opacity="0.08"/><circle cx="758.28" cy="632.28" r="9.43" fill="url(#sg)" opacity="0.07"/><circle cx="301.68" cy="489.61" r="18.98" fill="url(#sg)" opacity="0.09"/><circle cx="366.79" cy="492.8" r="12.33" fill="url(#sg)" opacity="0.04"/><circle cx="662.75" cy="611.86" r="12.54" fill="url(#sg)" opacity="0.06"/><circle cx="634.49" cy="593.63" r="13.87" fill="url(#sg)" opacity="0.04"/><circle cx="275.19" cy="273.33" r="17.68" fill="url(#sg)" opacity="0.06"/><circle cx="603.39" cy="385.25" r="12.87" fill="url(#sg)" opacity="0.04"/><circle cx="800.82" cy="523.57" r="10.35" fill="url(#sg)" opacity="0.08"/><circle cx="575.55" cy="528.02" r="17.08" fill="url(#sg)" opacity="0.07"/><circle cx="742.13" cy="732.6" r="13.27" fill="url(#sg)" opacity="0.08"/><circle cx="441.87" cy="411.67" r="12.84" fill="url(#sg)" opacity="0.08"/><circle cx="428.8" cy="378.04" r="17.89" fill="url(#sg)" opacity="0.09"/><circle cx="622.38" cy="660.24" r="13.05" fill="url(#sg)" opacity="0.07"/><circle cx="368.24" cy="357.02" r="10.06" fill="url(#sg)" opacity="0.09"/><circle cx="768.93" cy="349.76" r="12.97" fill="url(#sg)" opacity="0.04"/><circle cx="303.04" cy="542.32" r="18.37" fill="url(#sg)" opacity="0.04"/><circle cx="370.26" cy="611.72" r="11.37" fill="url(#sg)" opacity="0.09"/><circle cx="428.98" cy="447.74" r="11.12" fill="url(#sg)" opacity="0.05"/><circle cx="471.87" cy="335.69" r="16.66" fill="url(#sg)" opacity="0.03"/><circle cx="600" cy="636.67" r="12.42" fill="url(#sg)" opacity="0.04"/><circle cx="289.7" cy="220.44" r="17.32" fill="url(#sg)" opacity="0.07"/><circle cx="227.05" cy="436.19" r="15.29" fill="url(#sg)" opacity="0.05"/><circle cx="238.83" cy="417.65" r="12.71" fill="url(#sg)" opacity="0.10"/><circle cx="433.12" cy="705.53" r="18.11" fill="url(#sg)" opacity="0.07"/><circle cx="293.33" cy="639.68" r="9.95" fill="url(#sg)" opacity="0.07"/><circle cx="276.17" cy="229.15" r="13.31" fill="url(#sg)" opacity="0.04"/><circle cx="811.19" cy="507.74" r="18.42" fill="url(#sg)" opacity="0.10"/><circle cx="671.24" cy="546.66" r="13.97" fill="url(#sg)" opacity="0.08"/><circle cx="618.28" cy="266.69" r="14.57" fill="url(#sg)" opacity="0.06"/><circle cx="526.25" cy="585.34" r="16.23" fill="url(#sg)" opacity="0.07"/><circle cx="689.71" cy="649.67" r="9.97" fill="url(#sg)" opacity="0.04"/><circle cx="246.21" cy="268.09" r="19.07" fill="url(#sg)" opacity="0.05"/><circle cx="480.52" cy="443.11" r="14.93" fill="url(#sg)" opacity="0.05"/><circle cx="683.65" cy="366.38" r="17.88" fill="url(#sg)" opacity="0.09"/><circle cx="218.68" cy="490.38" r="9.98" fill="url(#sg)" opacity="0.09"/><circle cx="259.48" cy="329.39" r="17.07" fill="url(#sg)" opacity="0.07"/><circle cx="616.84" cy="413.09" r="14.47" fill="url(#sg)" opacity="0.04"/><circle cx="494.5" cy="323.67" r="16.09" fill="url(#sg)" opacity="0.04"/><circle cx="300.25" cy="289.39" r="14.6" fill="url(#sg)" opacity="0.07"/><circle cx="219.78" cy="742.62" r="17.77" fill="url(#sg)" opacity="0.06"/><circle cx="312.98" cy="650.05" r="19.26" fill="url(#sg)" opacity="0.04"/><circle cx="670.1" cy="645.52" r="18.84" fill="url(#sg)" opacity="0.04"/><circle cx="290.05" cy="270.44" r="11.43" fill="url(#sg)" opacity="0.09"/><circle cx="762.13" cy="447.95" r="10.34" fill="url(#sg)" opacity="0.05"/><circle cx="362.21" cy="548.16" r="16.56" fill="url(#sg)" opacity="0.08"/><circle cx="479.35" cy="438.24" r="13.91" fill="url(#sg)" opacity="0.06"/><circle cx="490.15" cy="569.34" r="16.47" fill="url(#sg)" opacity="0.05"/><circle cx="556.98" cy="259.25" r="9.47" fill="url(#sg)" opacity="0.06"/><circle cx="432.84" cy="194.66" r="9.83" fill="url(#sg)" opacity="0.06"/><circle cx="781.49" cy="656.73" r="9.32" fill="url(#sg)" opacity="0.05"/><circle cx="438.48" cy="354.59" r="10.44" fill="url(#sg)" opacity="0.07"/><circle cx="719.77" cy="395.09" r="10.85" fill="url(#sg)" opacity="0.04"/><circle cx="227.07" cy="615.3" r="11.42" fill="url(#sg)" opacity="0.08"/><circle cx="690.88" cy="223.88" r="10.98" fill="url(#sg)" opacity="0.05"/><circle cx="677.8" cy="598.94" r="12.18" fill="url(#sg)" opacity="0.06"/><circle cx="430.35" cy="446.76" r="17.33" fill="url(#sg)" opacity="0.05"/><circle cx="702.67" cy="704.08" r="15.31" fill="url(#sg)" opacity="0.10"/><circle cx="778.93" cy="274.23" r="19.41" fill="url(#sg)" opacity="0.04"/><circle cx="699.18" cy="245.59" r="12.18" fill="url(#sg)" opacity="0.06"/><circle cx="719.84" cy="566.74" r="11.14" fill="url(#sg)" opacity="0.09"/><circle cx="735.52" cy="468.67" r="9.53" fill="url(#sg)" opacity="0.05"/><circle cx="392.88" cy="416.39" r="18.9" fill="url(#sg)" opacity="0.07"/><circle cx="708.13" cy="216.92" r="11.58" fill="url(#sg)" opacity="0.08"/><circle cx="421.59" cy="306.56" r="9.66" fill="url(#sg)" opacity="0.03"/><circle cx="464.58" cy="489.57" r="13.2" fill="url(#sg)" opacity="0.07"/><circle cx="391.97" cy="185.66" r="16.08" fill="url(#sg)" opacity="0.05"/><circle cx="511.88" cy="392.8" r="11.83" fill="url(#sg)" opacity="0.03"/><circle cx="395.35" cy="347.05" r="10.21" fill="url(#sg)" opacity="0.03"/><circle cx="505.44" cy="187.22" r="18.23" fill="url(#sg)" opacity="0.06"/><circle cx="483.36" cy="477.73" r="9.25" fill="url(#sg)" opacity="0.04"/><circle cx="687.63" cy="495.41" r="14.18" fill="url(#sg)" opacity="0.05"/><circle cx="667.23" cy="464.8" r="17.32" fill="url(#sg)" opacity="0.09"/><circle cx="752.54" cy="592.65" r="16.08" fill="url(#sg)" opacity="0.06"/><circle cx="536.97" cy="508.37" r="14.52" fill="url(#sg)" opacity="0.09"/><circle cx="731.14" cy="205.9" r="16.9" fill="url(#sg)" opacity="0.07"/><circle cx="575.82" cy="697.33" r="9.52" fill="url(#sg)" opacity="0.06"/><circle cx="442.47" cy="720.38" r="10.73" fill="url(#sg)" opacity="0.07"/><circle cx="304.31" cy="608.73" r="14.14" fill="url(#sg)" opacity="0.08"/><circle cx="401.61" cy="683.05" r="9.07" fill="url(#sg)" opacity="0.05"/><circle cx="656.57" cy="680.48" r="17.16" fill="url(#sg)" opacity="0.05"/><circle cx="266.41" cy="583.16" r="16.68" fill="url(#sg)" opacity="0.03"/><circle cx="777.02" cy="478.98" r="9.35" fill="url(#sg)" opacity="0.06"/><circle cx="420.23" cy="235.89" r="18.3" fill="url(#sg)" opacity="0.10"/><circle cx="292.21" cy="431.79" r="11.87" fill="url(#sg)" opacity="0.08"/><circle cx="283.66" cy="367.44" r="13.31" fill="url(#sg)" opacity="0.06"/><circle cx="478.24" cy="518.12" r="18.87" fill="url(#sg)" opacity="0.10"/><circle cx="760.61" cy="651.81" r="11.4" fill="url(#sg)" opacity="0.05"/><circle cx="492.93" cy="545.26" r="15.37" fill="url(#sg)" opacity="0.05"/><circle cx="811.08" cy="355.29" r="9.2" fill="url(#sg)" opacity="0.04"/><circle cx="343.24" cy="595.51" r="17.83" fill="url(#sg)" opacity="0.03"/><circle cx="359.72" cy="315.12" r="17.26" fill="url(#sg)" opacity="0.09"/><circle cx="375.47" cy="234.77" r="19.15" fill="url(#sg)" opacity="0.10"/><circle cx="646.54" cy="447.3" r="16.84" fill="url(#sg)" opacity="0.08"/><circle cx="522.58" cy="331.72" r="14.51" fill="url(#sg)" opacity="0.08"/><circle cx="411.93" cy="542.96" r="10.54" fill="url(#sg)" opacity="0.10"/><circle cx="344.42" cy="305.9" r="19.08" fill="url(#sg)" opacity="0.10"/><circle cx="771.3" cy="658.83" r="17.91" fill="url(#sg)" opacity="0.09"/><circle cx="556.88" cy="218.64" r="16.68" fill="url(#sg)" opacity="0.09"/><circle cx="719.01" cy="200.97" r="9.64" fill="url(#sg)" opacity="0.08"/><circle cx="509.78" cy="688.96" r="19.4" fill="url(#sg)" opacity="0.06"/><circle cx="621.96" cy="557.76" r="16.28" fill="url(#sg)" opacity="0.06"/><circle cx="600.43" cy="214.93" r="18.45" fill="url(#sg)" opacity="0.08"/><circle cx="697.95" cy="441.33" r="11.15" fill="url(#sg)" opacity="0.06"/><circle cx="624.99" cy="490.65" r="10.14" fill="url(#sg)" opacity="0.03"/><circle cx="455.87" cy="316.55" r="11.38" fill="url(#sg)" opacity="0.05"/><circle cx="466.6" cy="575.04" r="18.59" fill="url(#sg)" opacity="0.08"/><circle cx="230.38" cy="674" r="15.39" fill="url(#sg)" opacity="0.08"/><circle cx="584.97" cy="379.35" r="12.56" fill="url(#sg)" opacity="0.03"/><circle cx="615.09" cy="207.01" r="16.15" fill="url(#sg)" opacity="0.09"/><circle cx="617.4" cy="523.97" r="17.48" fill="url(#sg)" opacity="0.10"/><circle cx="703.93" cy="744.28" r="13.83" fill="url(#sg)" opacity="0.03"/><circle cx="585.37" cy="542.48" r="18.06" fill="url(#sg)" opacity="0.07"/><circle cx="435.28" cy="178.7" r="17.72" fill="url(#sg)" opacity="0.07"/><circle cx="807.22" cy="516.62" r="17.95" fill="url(#sg)" opacity="0.08"/><circle cx="810.53" cy="441.36" r="18.42" fill="url(#sg)" opacity="0.06"/><circle cx="224.72" cy="363.02" r="12.69" fill="url(#sg)" opacity="0.10"/><circle cx="454.14" cy="333.69" r="16.25" fill="url(#sg)" opacity="0.04"/><circle cx="400.69" cy="402.74" r="10.31" fill="url(#sg)" opacity="0.07"/><circle cx="470.93" cy="636.38" r="12.56" fill="url(#sg)" opacity="0.10"/><circle cx="334.99" cy="480.69" r="11.38" fill="url(#sg)" opacity="0.03"/><circle cx="398.36" cy="690.03" r="12.06" fill="url(#sg)" opacity="0.06"/>
<circle cx="288.7" cy="219.1" r="15" fill="url(#sg)" opacity="0.7"/><circle cx="277.2" cy="237.2" r="15" fill="url(#sg)" opacity="0.7"/><circle cx="293" cy="214" r="12.6" fill="url(#sg)" opacity="0.25"/><circle cx="272" cy="242" r="12.6" fill="url(#sg)" opacity="0.25"/><circle cx="342" cy="207" r="13.2" fill="url(#sg)" opacity="0.38"/><circle cx="348" cy="210" r="13.2" fill="url(#sg)" opacity="0.38"/><circle cx="298.2" cy="206.7" r="12.6" fill="url(#sg)" opacity="0.25"/><circle cx="300.1" cy="273.5" r="13.8" fill="url(#sg)" opacity="0.48"/><circle cx="327.8" cy="266.8" r="13.2" fill="url(#sg)" opacity="0.36"/><circle cx="306.8" cy="255.3" r="12.6" fill="url(#sg)" opacity="0.25"/><circle cx="241.9" cy="245.8" r="12.6" fill="url(#sg)" opacity="0.25"/><circle cx="227.6" cy="277.3" r="12.6" fill="url(#sg)" opacity="0.25"/><circle cx="288.7" cy="306.8" r="16.2" fill="url(#sg)" opacity="0.88"/><circle cx="275.3" cy="314.5" r="15" fill="url(#sg)" opacity="0.7"/><circle cx="233.4" cy="303" r="12.6" fill="url(#sg)" opacity="0.25"/><circle cx="255.3" cy="332.6" r="12.6" fill="url(#sg)" opacity="0.25"/><circle cx="366.9" cy="340.2" r="13.8" fill="url(#sg)" opacity="0.48"/><circle cx="424.1" cy="302.1" r="13.8" fill="url(#sg)" opacity="0.48"/><circle cx="414.5" cy="252.5" r="12.6" fill="url(#sg)" opacity="0.25"/><circle cx="481.3" cy="237.2" r="13.2" fill="url(#sg)" opacity="0.36"/><circle cx="499.4" cy="227.7" r="12.6" fill="url(#sg)" opacity="0.25"/><circle cx="488.9" cy="274.4" r="13.8" fill="url(#sg)" opacity="0.48"/><circle cx="516.6" cy="214.3" r="12.6" fill="url(#sg)" opacity="0.25"/><circle cx="407.9" cy="386" r="16.2" fill="url(#sg)" opacity="0.88"/><circle cx="414.5" cy="361.2" r="13.8" fill="url(#sg)" opacity="0.48"/><circle cx="387.8" cy="357.4" r="13.2" fill="url(#sg)" opacity="0.36"/><circle cx="451.7" cy="377.4" r="13.8" fill="url(#sg)" opacity="0.48"/><circle cx="453.6" cy="361.2" r="12.6" fill="url(#sg)" opacity="0.25"/><circle cx="476.5" cy="366" r="12.6" fill="url(#sg)" opacity="0.25"/><circle cx="249.6" cy="400.2" r="16.2" fill="url(#sg)" opacity="0.88"/><circle cx="249.6" cy="407.2" r="15" fill="url(#sg)" opacity="0.7"/><circle cx="254.3" cy="374.5" r="12.6" fill="url(#sg)" opacity="0.25"/><circle cx="294.4" cy="393.6" r="13.2" fill="url(#sg)" opacity="0.36"/><circle cx="417.4" cy="411.7" r="13.2" fill="url(#sg)" opacity="0.36"/><circle cx="332.5" cy="432.7" r="12.6" fill="url(#sg)" opacity="0.25"/><circle cx="454.6" cy="452.7" r="13.8" fill="url(#sg)" opacity="0.48"/><circle cx="439.3" cy="342.1" r="12.6" fill="url(#sg)" opacity="0.25"/><circle cx="495.6" cy="345" r="12.6" fill="url(#sg)" opacity="0.25"/><circle cx="395.5" cy="284.9" r="12.6" fill="url(#sg)" opacity="0.25"/><circle cx="224.8" cy="418.4" r="15" fill="url(#sg)" opacity="0.7"/><circle cx="223.8" cy="239.1" r="13.8" fill="url(#sg)" opacity="0.48"/><circle cx="258" cy="183" r="16.2" fill="url(#sg)" opacity="0.88"/><circle cx="266" cy="183" r="15" fill="url(#sg)" opacity="0.7"/><circle cx="552.2" cy="264.9" r="16.2" fill="url(#sg)" opacity="0.88"/><circle cx="543.6" cy="301.1" r="15" fill="url(#sg)" opacity="0.7"/><circle cx="606.5" cy="286.8" r="13.8" fill="url(#sg)" opacity="0.48"/><circle cx="630.4" cy="294.4" r="13.8" fill="url(#sg)" opacity="0.48"/><circle cx="610.4" cy="308.7" r="13.8" fill="url(#sg)" opacity="0.48"/><circle cx="650.4" cy="303" r="12.6" fill="url(#sg)" opacity="0.25"/><circle cx="636.1" cy="222.9" r="13.8" fill="url(#sg)" opacity="0.48"/><circle cx="669.5" cy="222.9" r="13.8" fill="url(#sg)" opacity="0.48"/><circle cx="806" cy="189.5" r="15" fill="url(#sg)" opacity="0.7"/><circle cx="766.8" cy="206.7" r="12.6" fill="url(#sg)" opacity="0.25"/><circle cx="735.3" cy="193.4" r="12.6" fill="url(#sg)" opacity="0.25"/><circle cx="645.7" cy="194.3" r="12.6" fill="url(#sg)" opacity="0.25"/><circle cx="588.4" cy="194.3" r="12.6" fill="url(#sg)" opacity="0.25"/><circle cx="701.9" cy="259.2" r="13.8" fill="url(#sg)" opacity="0.48"/><circle cx="717.2" cy="272.5" r="13.8" fill="url(#sg)" opacity="0.48"/><circle cx="694.3" cy="268.7" r="12.6" fill="url(#sg)" opacity="0.25"/><circle cx="597" cy="257.2" r="12.6" fill="url(#sg)" opacity="0.25"/><circle cx="613.2" cy="242.9" r="12.6" fill="url(#sg)" opacity="0.25"/><circle cx="682.8" cy="332.6" r="15" fill="url(#sg)" opacity="0.7"/><circle cx="734.3" cy="338.3" r="12.6" fill="url(#sg)" opacity="0.25"/><circle cx="576" cy="351.7" r="16.2" fill="url(#sg)" opacity="0.88"/><circle cx="544.6" cy="356.4" r="13.8" fill="url(#sg)" opacity="0.48"/><circle cx="594.2" cy="372.6" r="13.8" fill="url(#sg)" opacity="0.48"/><circle cx="619" cy="364.1" r="13.2" fill="url(#sg)" opacity="0.38"/><circle cx="627.5" cy="389.8" r="16.2" fill="url(#sg)" opacity="0.88"/><circle cx="594.2" cy="401.2" r="13.8" fill="url(#sg)" opacity="0.48"/><circle cx="572.2" cy="390.8" r="12.6" fill="url(#sg)" opacity="0.25"/><circle cx="716.2" cy="381.2" r="13.2" fill="url(#sg)" opacity="0.38"/><circle cx="727.7" cy="395.5" r="12.6" fill="url(#sg)" opacity="0.25"/><circle cx="703.8" cy="411.7" r="13.8" fill="url(#sg)" opacity="0.48"/><circle cx="760.1" cy="407" r="13.8" fill="url(#sg)" opacity="0.48"/><circle cx="806" cy="444.2" r="16.2" fill="url(#sg)" opacity="0.88"/><circle cx="670.4" cy="437.5" r="13.8" fill="url(#sg)" opacity="0.48"/><circle cx="677.1" cy="454.6" r="12.6" fill="url(#sg)" opacity="0.25"/><circle cx="738.2" cy="434.6" r="12.6" fill="url(#sg)" opacity="0.25"/><circle cx="555" cy="406" r="12.6" fill="url(#sg)" opacity="0.25"/><circle cx="519.8" cy="279.2" r="12.6" fill="url(#sg)" opacity="0.25"/><circle cx="308.7" cy="601.1" r="16.2" fill="url(#sg)" opacity="0.88"/><circle cx="261" cy="605.9" r="13.8" fill="url(#sg)" opacity="0.48"/><circle cx="362.1" cy="613.5" r="13.8" fill="url(#sg)" opacity="0.48"/><circle cx="387.8" cy="619.3" r="12.6" fill="url(#sg)" opacity="0.25"/><circle cx="460.3" cy="534.4" r="15" fill="url(#sg)" opacity="0.7"/><circle cx="465" cy="485.7" r="13.2" fill="url(#sg)" opacity="0.36"/><circle cx="474" cy="486.5" r="13.2" fill="url(#sg)" opacity="0.36"/><circle cx="485.1" cy="522.9" r="12.6" fill="url(#sg)" opacity="0.25"/><circle cx="439.3" cy="508.6" r="12.6" fill="url(#sg)" opacity="0.25"/><circle cx="287.7" cy="518.2" r="13.2" fill="url(#sg)" opacity="0.36"/><circle cx="297.2" cy="564.9" r="12.6" fill="url(#sg)" opacity="0.25"/><circle cx="414.5" cy="566.8" r="12.6" fill="url(#sg)" opacity="0.25"/><circle cx="328.7" cy="664.1" r="13.8" fill="url(#sg)" opacity="0.48"/><circle cx="437.4" cy="656.5" r="13.8" fill="url(#sg)" opacity="0.48"/><circle cx="438.4" cy="669.8" r="13.8" fill="url(#sg)" opacity="0.48"/><circle cx="457.5" cy="676.5" r="13.8" fill="url(#sg)" opacity="0.48"/><circle cx="468" cy="660.3" r="12.6" fill="url(#sg)" opacity="0.25"/><circle cx="499.4" cy="680.3" r="13.8" fill="url(#sg)" opacity="0.48"/><circle cx="462.2" cy="713.7" r="13.8" fill="url(#sg)" opacity="0.48"/><circle cx="444.1" cy="725.1" r="13.2" fill="url(#sg)" opacity="0.36"/><circle cx="313.5" cy="711.8" r="12.6" fill="url(#sg)" opacity="0.25"/><circle cx="271.5" cy="662.2" r="12.6" fill="url(#sg)" opacity="0.25"/><circle cx="231.4" cy="709.9" r="12.6" fill="url(#sg)" opacity="0.25"/><circle cx="227.6" cy="738.5" r="13.8" fill="url(#sg)" opacity="0.48"/><circle cx="385.9" cy="540.1" r="12.6" fill="url(#sg)" opacity="0.25"/><circle cx="374.5" cy="491.5" r="12.6" fill="url(#sg)" opacity="0.25"/><circle cx="239" cy="479" r="12.6" fill="url(#sg)" opacity="0.25"/><circle cx="404.1" cy="633.6" r="12.6" fill="url(#sg)" opacity="0.25"/><circle cx="682.8" cy="513.4" r="20.4" fill="url(#sg)" opacity="1.0"/><circle cx="576" cy="723.2" r="15" fill="url(#sg)" opacity="0.7"/><circle cx="656.1" cy="721.3" r="15" fill="url(#sg)" opacity="0.7"/><circle cx="731.5" cy="692.7" r="15" fill="url(#sg)" opacity="0.7"/><circle cx="731.5" cy="632.6" r="13.8" fill="url(#sg)" opacity="0.48"/><circle cx="707.6" cy="655.5" r="13.8" fill="url(#sg)" opacity="0.48"/><circle cx="684.7" cy="628.8" r="12.6" fill="url(#sg)" opacity="0.25"/><circle cx="552.2" cy="593.5" r="13.8" fill="url(#sg)" opacity="0.48"/><circle cx="597" cy="591.6" r="13.8" fill="url(#sg)" opacity="0.48"/><circle cx="532.2" cy="624" r="12.6" fill="url(#sg)" opacity="0.25"/><circle cx="661.9" cy="488.6" r="13.8" fill="url(#sg)" opacity="0.48"/><circle cx="740.1" cy="499.1" r="13.2" fill="url(#sg)" opacity="0.38"/><circle cx="783" cy="484.8" r="13.8" fill="url(#sg)" opacity="0.48"/><circle cx="768.7" cy="491.5" r="12.6" fill="url(#sg)" opacity="0.25"/><circle cx="617" cy="543" r="13.2" fill="url(#sg)" opacity="0.38"/><circle cx="652.3" cy="543.9" r="12.6" fill="url(#sg)" opacity="0.25"/><circle cx="679" cy="551.5" r="12.6" fill="url(#sg)" opacity="0.25"/><circle cx="740.1" cy="543" r="13.8" fill="url(#sg)" opacity="0.48"/><circle cx="756.3" cy="543" r="13.8" fill="url(#sg)" opacity="0.48"/><circle cx="734.3" cy="561.1" r="12.6" fill="url(#sg)" opacity="0.25"/><circle cx="795.4" cy="549.6" r="12.6" fill="url(#sg)" opacity="0.25"/><circle cx="768.7" cy="601.1" r="13.2" fill="url(#sg)" opacity="0.36"/><circle cx="422" cy="612" r="12.6" fill="url(#sg)" opacity="0.25"/><circle cx="331.6" cy="623.5" r="12.6" fill="url(#sg)" opacity="0.25"/><circle cx="509.4" cy="607.6" r="12.6" fill="url(#sg)" opacity="0.25"/><circle cx="418.9" cy="683.8" r="12.6" fill="url(#sg)" opacity="0.25"/><circle cx="423.7" cy="661.6" r="12.6" fill="url(#sg)" opacity="0.25"/><circle cx="474.5" cy="709.2" r="12.6" fill="url(#sg)" opacity="0.25"/><circle cx="426.9" cy="741" r="12.6" fill="url(#sg)" opacity="0.25"/><circle cx="460.3" cy="741" r="12.6" fill="url(#sg)" opacity="0.25"/><circle cx="564.6" cy="687.9" r="12.6" fill="url(#sg)" opacity="0.25"/><circle cx="748.6" cy="724.2" r="12.6" fill="url(#sg)" opacity="0.25"/><circle cx="541.7" cy="567.8" r="12.6" fill="url(#sg)" opacity="0.25"/><circle cx="778.2" cy="627.8" r="12.6" fill="url(#sg)" opacity="0.25"/>
<ellipse cx="787" cy="374" rx="30" ry="15" fill="url(#sg)" opacity="0.95" transform="rotate(-8 787 374)"/>
<ellipse cx="786" cy="373" rx="14" ry="5" fill="#000" opacity="0.75" filter="url(#b2)" transform="rotate(-8 786 373)"/>
<g filter="url(#b2)" opacity="0.05"><rect x="223.0" y="461.3" width="588.0" height="5" fill="#000"/><rect x="516.1" y="363.8" width="5" height="200" fill="#000"/></g>
<g filter="url(#b3)" opacity="0.2"><rect x="398.6" y="460.8" width="240" height="6" fill="#000"/><rect x="515.6" y="378.8" width="6" height="170" fill="#000"/></g>
<circle cx="518.6" cy="463.8" r="68" fill="url(#sg)" opacity="0.5"/>
<g filter="url(#b3)" opacity="0.7"><ellipse cx="518.6" cy="463.8" rx="50" ry="5.5" fill="#000"/><ellipse cx="518.6" cy="463.8" rx="5.5" ry="50" fill="#000"/></g>
<path d="M487.6 463.8Q499.6 444.8 518.6 432.8Q537.6 444.8 549.6 463.8Q537.6 482.8 518.6 494.8Q499.6 482.8 487.6 463.8Z" fill="#000" filter="url(#b3)"/>
<g filter="url(#b3)" opacity="0.2"><rect x="593.7" y="688.0" width="76" height="8" fill="#000"/><rect x="627.7" y="650.0" width="8" height="76" fill="#000"/></g>
<circle cx="631.7" cy="692.0" r="24" fill="url(#sg)" opacity="0.95"/>
<circle cx="631.7" cy="692.0" r="10" fill="#000" filter="url(#b2)"/>
</g>
<circle cx="518.7" cy="462.9" r="80.3" fill="none" stroke="#a81c1c" stroke-width="1" stroke-dasharray="3 1"/>
<path d="M493.3 463.7h17.7M526.3 463.7h17.2M518.8 437.7v22.5M518.8 471.5v16.8" stroke="#9a2a9a" stroke-width="1.6"/>
<path d="M516 460.3h5.5M518.8 457.5v5M515.5 465.2h7M518.8 465v3" stroke="#c83020" stroke-width="1"/>
<text x="471.2" y="293.2" font-family="Liberation Sans, Arial, sans-serif" font-weight="bold" font-size="10" fill="#d01818" textLength="45.8" lengthAdjust="spacingAndGlyphs">NSV 6151</text>
<path d="M201 181H263q7 0 7 7.5t-7 7.5H201Z" fill="#fff" opacity="0.88"/>
<text x="207.8" y="193" font-family="Liberation Sans, Arial, sans-serif" font-weight="bold" font-size="8.5" fill="#12129a" textLength="55" lengthAdjust="spacingAndGlyphs">ESO DSS2-red</text>
<path d="M207.8 733.3v3.4H299.8v-3.4" fill="none" stroke="#1c2a9a" stroke-width="1.1"/>
<text x="207.8" y="734.5" font-family="Liberation Sans, Arial, sans-serif" font-weight="bold" font-size="8.5" fill="#12129a" textLength="17" lengthAdjust="spacingAndGlyphs">30"</text>
<rect x="484" y="731" width="66" height="10" rx="4" fill="#fff" opacity="0.55"/>
<text x="487" y="739.5" font-family="Liberation Sans, Arial, sans-serif" font-weight="bold" font-size="8.5" fill="#12129a" textLength="59.2" lengthAdjust="spacingAndGlyphs">3.449' x 3.058'</text>
<path d="M822.8 732.5V702M820 705l2.8-3.5 2.8 3.5M823.6 732.3H791.5M795 729.8l-3.5 2.7 3.5 2.7" fill="none" stroke="#1c1c9a" stroke-width="1.1"/>
<text x="815.2" y="699" font-family="Liberation Sans, Arial, sans-serif" font-weight="bold" font-size="7" fill="#12129a">N</text>
<text x="784.1" y="741" font-family="Liberation Sans, Arial, sans-serif" font-weight="bold" font-size="7" fill="#12129a">E</text>
<rect x="1074.5" y="222.6" width="736.8" height="501.4" fill="none" stroke="#000" stroke-width="1.3"/>
<path d="M1074.5 724v-14.6M1074.5 222.6v14.6M1221.86 724v-14.6M1221.86 222.6v14.6M1369.22 724v-14.6M1369.22 222.6v14.6M1516.58 724v-14.6M1516.58 222.6v14.6M1663.94 724v-14.6M1663.94 222.6v14.6M1811.3 724v-14.6M1811.3 222.6v14.6M1103.97 724v-5.2M1103.97 222.6v5.2M1133.44 724v-5.2M1133.44 222.6v5.2M1162.92 724v-5.2M1162.92 222.6v5.2M1192.39 724v-5.2M1192.39 222.6v5.2M1251.33 724v-5.2M1251.33 222.6v5.2M1280.8 724v-5.2M1280.8 222.6v5.2M1310.28 724v-5.2M1310.28 222.6v5.2M1339.75 724v-5.2M1339.75 222.6v5.2M1398.69 724v-5.2M1398.69 222.6v5.2M1428.16 724v-5.2M1428.16 222.6v5.2M1457.64 724v-5.2M1457.64 222.6v5.2M1487.11 724v-5.2M1487.11 222.6v5.2M1546.05 724v-5.2M1546.05 222.6v5.2M1575.52 724v-5.2M1575.52 222.6v5.2M1605 724v-5.2M1605 222.6v5.2M1634.47 724v-5.2M1634.47 222.6v5.2M1693.41 724v-5.2M1693.41 222.6v5.2M1722.88 724v-5.2M1722.88 222.6v5.2M1752.36 724v-5.2M1752.36 222.6v5.2M1781.83 724v-5.2M1781.83 222.6v5.2M1074.5 234.6h14.6M1811.3 234.6h-14.6M1074.5 393.74h14.6M1811.3 393.74h-14.6M1074.5 552.87h14.6M1811.3 552.87h-14.6M1074.5 712h14.6M1811.3 712h-14.6M1074.5 266.43h5.2M1811.3 266.43h-5.2M1074.5 298.25h5.2M1811.3 298.25h-5.2M1074.5 330.08h5.2M1811.3 330.08h-5.2M1074.5 361.91h5.2M1811.3 361.91h-5.2M1074.5 425.56h5.2M1811.3 425.56h-5.2M1074.5 457.39h5.2M1811.3 457.39h-5.2M1074.5 489.22h5.2M1811.3 489.22h-5.2M1074.5 521.04h5.2M1811.3 521.04h-5.2M1074.5 584.7h5.2M1811.3 584.7h-5.2M1074.5 616.52h5.2M1811.3 616.52h-5.2M1074.5 648.35h5.2M1811.3 648.35h-5.2M1074.5 680.18h5.2M1811.3 680.18h-5.2" stroke="#000" stroke-width="1.3" fill="none"/>
<rect x="1074.5" y="888.5" width="736.8" height="501.4" fill="none" stroke="#000" stroke-width="1.3"/>
<path d="M1074.5 1389.9v-14.6M1074.5 888.5v14.6M1258.7 1389.9v-14.6M1258.7 888.5v14.6M1442.9 1389.9v-14.6M1442.9 888.5v14.6M1627.1 1389.9v-14.6M1627.1 888.5v14.6M1811.3 1389.9v-14.6M1811.3 888.5v14.6M1111.34 1389.9v-5.2M1111.34 888.5v5.2M1148.18 1389.9v-5.2M1148.18 888.5v5.2M1185.02 1389.9v-5.2M1185.02 888.5v5.2M1221.86 1389.9v-5.2M1221.86 888.5v5.2M1295.54 1389.9v-5.2M1295.54 888.5v5.2M1332.38 1389.9v-5.2M1332.38 888.5v5.2M1369.22 1389.9v-5.2M1369.22 888.5v5.2M1406.06 1389.9v-5.2M1406.06 888.5v5.2M1479.74 1389.9v-5.2M1479.74 888.5v5.2M1516.58 1389.9v-5.2M1516.58 888.5v5.2M1553.42 1389.9v-5.2M1553.42 888.5v5.2M1590.26 1389.9v-5.2M1590.26 888.5v5.2M1663.94 1389.9v-5.2M1663.94 888.5v5.2M1700.78 1389.9v-5.2M1700.78 888.5v5.2M1737.62 1389.9v-5.2M1737.62 888.5v5.2M1774.46 1389.9v-5.2M1774.46 888.5v5.2M1074.5 900.5h14.6M1811.3 900.5h-14.6M1074.5 1059.63h14.6M1811.3 1059.63h-14.6M1074.5 1218.77h14.6M1811.3 1218.77h-14.6M1074.5 1377.9h14.6M1811.3 1377.9h-14.6M1074.5 932.33h5.2M1811.3 932.33h-5.2M1074.5 964.15h5.2M1811.3 964.15h-5.2M1074.5 995.98h5.2M1811.3 995.98h-5.2M1074.5 1027.81h5.2M1811.3 1027.81h-5.2M1074.5 1091.46h5.2M1811.3 1091.46h-5.2M1074.5 1123.29h5.2M1811.3 1123.29h-5.2M1074.5 1155.12h5.2M1811.3 1155.12h-5.2M1074.5 1186.94h5.2M1811.3 1186.94h-5.2M1074.5 1250.6h5.2M1811.3 1250.6h-5.2M1074.5 1282.42h5.2M1811.3 1282.42h-5.2M1074.5 1314.25h5.2M1811.3 1314.25h-5.2M1074.5 1346.08h5.2M1811.3 1346.08h-5.2" stroke="#000" stroke-width="1.3" fill="none"/>
<rect x="167.4" y="880.8" width="755.9" height="508.8" fill="none" stroke="#000" stroke-width="2.1"/>
<path d="M177 1389.6v12.5M177 880.8v10M403.75 1389.6v12.5M403.75 880.8v10M630.5 1389.6v12.5M630.5 880.8v10M857.25 1389.6v12.5M857.25 880.8v10M222.35 1389.6v6M267.7 1389.6v6M313.05 1389.6v6M358.4 1389.6v6M449.1 1389.6v6M494.45 1389.6v6M539.8 1389.6v6M585.15 1389.6v6M675.85 1389.6v6M721.2 1389.6v6M766.55 1389.6v6M811.9 1389.6v6M902.6 1389.6v6M167.4 1300.74h15M923.3 1300.74h-15M167.4 1211.88h15M923.3 1211.88h-15M167.4 1123.02h15M923.3 1123.02h-15M167.4 1034.16h15M923.3 1034.16h-15M167.4 945.3h15M923.3 945.3h-15" stroke="#000" stroke-width="2.1" fill="none"/>
<path d="M217.7 1389.6H823.1M217.7 1389.6V1340.73H268.15V1389.6M318.6 1389.6V1358.5H369.05V1389.6M369.05 1389.6V1278.52H419.5V1389.6M419.5 1389.6V1260.75H469.95V1389.6M469.95 1389.6V905.31H520.4V1389.6M520.4 1389.6V1171.89H570.85V1389.6M570.85 1389.6V1060.82H621.3V1389.6M621.3 1389.6V936.41H671.75V1389.6M671.75 1389.6V1136.35H722.2V1389.6M722.2 1389.6V1354.06H772.65V1389.6M772.65 1389.6V1331.84H823.1V1389.6" stroke="#ff0000" stroke-width="2.1" fill="none" stroke-linejoin="miter"/>
<path d="M1157.57 512a2.05 2.05 0 1 0 4.1 0a2.05 2.05 0 1 0 -4.1 0M1157.69 513.9a2.05 2.05 0 1 0 4.1 0a2.05 2.05 0 1 0 -4.1 0M1157.75 515.8a2.05 2.05 0 1 0 4.1 0a2.05 2.05 0 1 0 -4.1 0M1157.89 517.7a2.05 2.05 0 1 0 4.1 0a2.05 2.05 0 1 0 -4.1 0M1157.69 519.6a2.05 2.05 0 1 0 4.1 0a2.05 2.05 0 1 0 -4.1 0M1157.87 521.5a2.05 2.05 0 1 0 4.1 0a2.05 2.05 0 1 0 -4.1 0M1156.98 523.4a2.05 2.05 0 1 0 4.1 0a2.05 2.05 0 1 0 -4.1 0M1157.42 525.3a2.05 2.05 0 1 0 4.1 0a2.05 2.05 0 1 0 -4.1 0M1157.89 527.2a2.05 2.05 0 1 0 4.1 0a2.05 2.05 0 1 0 -4.1 0M1157.6 529.1a2.05 2.05 0 1 0 4.1 0a2.05 2.05 0 1 0 -4.1 0M1157.85 531a2.05 2.05 0 1 0 4.1 0a2.05 2.05 0 1 0 -4.1 0" fill="#4a0050"/>
<path d="M1157.86 538a2.05 2.05 0 1 0 4.1 0a2.05 2.05 0 1 0 -4.1 0M1158.22 539.96a2.05 2.05 0 1 0 4.1 0a2.05 2.05 0 1 0 -4.1 0M1158 541.92a2.05 2.05 0 1 0 4.1 0a2.05 2.05 0 1 0 -4.1 0M1158.29 543.88a2.05 2.05 0 1 0 4.1 0a2.05 2.05 0 1 0 -4.1 0M1158.32 545.85a2.05 2.05 0 1 0 4.1 0a2.05 2.05 0 1 0 -4.1 0M1157.76 547.81a2.05 2.05 0 1 0 4.1 0a2.05 2.05 0 1 0 -4.1 0M1157.97 549.77a2.05 2.05 0 1 0 4.1 0a2.05 2.05 0 1 0 -4.1 0M1158.03 551.73a2.05 2.05 0 1 0 4.1 0a2.05 2.05 0 1 0 -4.1 0M1158.67 553.69a2.05 2.05 0 1 0 4.1 0a2.05 2.05 0 1 0 -4.1 0M1158.52 555.65a2.05 2.05 0 1 0 4.1 0a2.05 2.05 0 1 0 -4.1 0M1157.91 557.62a2.05 2.05 0 1 0 4.1 0a2.05 2.05 0 1 0 -4.1 0M1158.55 559.58a2.05 2.05 0 1 0 4.1 0a2.05 2.05 0 1 0 -4.1 0M1157.89 561.54a2.05 2.05 0 1 0 4.1 0a2.05 2.05 0 1 0 -4.1 0M1158.37 563.5a2.05 2.05 0 1 0 4.1 0a2.05 2.05 0 1 0 -4.1 0" fill="#4a0050"/>
<path d="M1209.48 361.2a2.05 2.05 0 1 0 4.1 0a2.05 2.05 0 1 0 -4.1 0M1209.35 363.18a2.05 2.05 0 1 0 4.1 0a2.05 2.05 0 1 0 -4.1 0M1210.22 365.17a2.05 2.05 0 1 0 4.1 0a2.05 2.05 0 1 0 -4.1 0M1209.56 367.15a2.05 2.05 0 1 0 4.1 0a2.05 2.05 0 1 0 -4.1 0M1209.57 369.14a2.05 2.05 0 1 0 4.1 0a2.05 2.05 0 1 0 -4.1 0M1210.33 371.12a2.05 2.05 0 1 0 4.1 0a2.05 2.05 0 1 0 -4.1 0M1210.22 373.11a2.05 2.05 0 1 0 4.1 0a2.05 2.05 0 1 0 -4.1 0M1209.64 375.09a2.05 2.05 0 1 0 4.1 0a2.05 2.05 0 1 0 -4.1 0M1210.31 377.08a2.05 2.05 0 1 0 4.1 0a2.05 2.05 0 1 0 -4.1 0M1209.89 379.06a2.05 2.05 0 1 0 4.1 0a2.05 2.05 0 1 0 -4.1 0M1210.03 381.05a2.05 2.05 0 1 0 4.1 0a2.05 2.05 0 1 0 -4.1 0M1209.55 383.03a2.05 2.05 0 1 0 4.1 0a2.05 2.05 0 1 0 -4.1 0M1210.29 385.02a2.05 2.05 0 1 0 4.1 0a2.05 2.05 0 1 0 -4.1 0M1210.04 387a2.05 2.05 0 1 0 4.1 0a2.05 2.05 0 1 0 -4.1 0" fill="#5c0096"/>
<path d="M1262.02 676a2.05 2.05 0 1 0 4.1 0a2.05 2.05 0 1 0 -4.1 0M1261.94 678a2.05 2.05 0 1 0 4.1 0a2.05 2.05 0 1 0 -4.1 0M1261.35 680a2.05 2.05 0 1 0 4.1 0a2.05 2.05 0 1 0 -4.1 0M1261.41 682a2.05 2.05 0 1 0 4.1 0a2.05 2.05 0 1 0 -4.1 0M1261.22 684a2.05 2.05 0 1 0 4.1 0a2.05 2.05 0 1 0 -4.1 0M1261.2 686a2.05 2.05 0 1 0 4.1 0a2.05 2.05 0 1 0 -4.1 0M1261.12 688a2.05 2.05 0 1 0 4.1 0a2.05 2.05 0 1 0 -4.1 0" fill="#3c10d8"/>
<path d="M1426.35 404.8a2.05 2.05 0 1 0 4.1 0a2.05 2.05 0 1 0 -4.1 0M1426.65 406.83a2.05 2.05 0 1 0 4.1 0a2.05 2.05 0 1 0 -4.1 0M1426.05 408.87a2.05 2.05 0 1 0 4.1 0a2.05 2.05 0 1 0 -4.1 0M1426.73 410.9a2.05 2.05 0 1 0 4.1 0a2.05 2.05 0 1 0 -4.1 0M1426.39 412.93a2.05 2.05 0 1 0 4.1 0a2.05 2.05 0 1 0 -4.1 0M1426.36 414.97a2.05 2.05 0 1 0 4.1 0a2.05 2.05 0 1 0 -4.1 0M1426.87 417a2.05 2.05 0 1 0 4.1 0a2.05 2.05 0 1 0 -4.1 0" fill="#0066ff"/>
<path d="M1425.33 414a2.05 2.05 0 1 0 4.1 0a2.05 2.05 0 1 0 -4.1 0M1425.17 416a2.05 2.05 0 1 0 4.1 0a2.05 2.05 0 1 0 -4.1 0M1425.33 418a2.05 2.05 0 1 0 4.1 0a2.05 2.05 0 1 0 -4.1 0M1425.55 420a2.05 2.05 0 1 0 4.1 0a2.05 2.05 0 1 0 -4.1 0M1424.91 422a2.05 2.05 0 1 0 4.1 0a2.05 2.05 0 1 0 -4.1 0M1425.83 424a2.05 2.05 0 1 0 4.1 0a2.05 2.05 0 1 0 -4.1 0" fill="#0818ff"/>
<path d="M1424.67 430.8a2.05 2.05 0 1 0 4.1 0a2.05 2.05 0 1 0 -4.1 0" fill="#0818ff"/>
<path d="M1429.9 429.6a2.05 2.05 0 1 0 4.1 0a2.05 2.05 0 1 0 -4.1 0M1429.99 431.66a2.05 2.05 0 1 0 4.1 0a2.05 2.05 0 1 0 -4.1 0M1429.17 433.71a2.05 2.05 0 1 0 4.1 0a2.05 2.05 0 1 0 -4.1 0M1429.94 435.77a2.05 2.05 0 1 0 4.1 0a2.05 2.05 0 1 0 -4.1 0M1429.52 437.82a2.05 2.05 0 1 0 4.1 0a2.05 2.05 0 1 0 -4.1 0M1429.73 439.88a2.05 2.05 0 1 0 4.1 0a2.05 2.05 0 1 0 -4.1 0M1429.16 441.93a2.05 2.05 0 1 0 4.1 0a2.05 2.05 0 1 0 -4.1 0M1429.2 443.99a2.05 2.05 0 1 0 4.1 0a2.05 2.05 0 1 0 -4.1 0M1429.33 446.04a2.05 2.05 0 1 0 4.1 0a2.05 2.05 0 1 0 -4.1 0M1430.11 448.1a2.05 2.05 0 1 0 4.1 0a2.05 2.05 0 1 0 -4.1 0" fill="#00b8ff"/>
<path d="M1481.85 262.4a2.05 2.05 0 1 0 4.1 0a2.05 2.05 0 1 0 -4.1 0M1482.41 264.47a2.05 2.05 0 1 0 4.1 0a2.05 2.05 0 1 0 -4.1 0M1482.58 266.53a2.05 2.05 0 1 0 4.1 0a2.05 2.05 0 1 0 -4.1 0M1482.59 268.6a2.05 2.05 0 1 0 4.1 0a2.05 2.05 0 1 0 -4.1 0M1481.99 270.67a2.05 2.05 0 1 0 4.1 0a2.05 2.05 0 1 0 -4.1 0M1482 272.73a2.05 2.05 0 1 0 4.1 0a2.05 2.05 0 1 0 -4.1 0M1482.17 274.8a2.05 2.05 0 1 0 4.1 0a2.05 2.05 0 1 0 -4.1 0M1482.43 276.87a2.05 2.05 0 1 0 4.1 0a2.05 2.05 0 1 0 -4.1 0M1481.76 278.93a2.05 2.05 0 1 0 4.1 0a2.05 2.05 0 1 0 -4.1 0M1482.4 281a2.05 2.05 0 1 0 4.1 0a2.05 2.05 0 1 0 -4.1 0" fill="#10f0f0"/>
<path d="M1533.75 578.2a2.05 2.05 0 1 0 4.1 0a2.05 2.05 0 1 0 -4.1 0M1533.81 580.16a2.05 2.05 0 1 0 4.1 0a2.05 2.05 0 1 0 -4.1 0M1532.99 582.12a2.05 2.05 0 1 0 4.1 0a2.05 2.05 0 1 0 -4.1 0M1533.9 584.08a2.05 2.05 0 1 0 4.1 0a2.05 2.05 0 1 0 -4.1 0M1533.04 586.03a2.05 2.05 0 1 0 4.1 0a2.05 2.05 0 1 0 -4.1 0M1533.29 587.99a2.05 2.05 0 1 0 4.1 0a2.05 2.05 0 1 0 -4.1 0M1533.56 589.95a2.05 2.05 0 1 0 4.1 0a2.05 2.05 0 1 0 -4.1 0M1533.87 591.91a2.05 2.05 0 1 0 4.1 0a2.05 2.05 0 1 0 -4.1 0M1533.29 593.87a2.05 2.05 0 1 0 4.1 0a2.05 2.05 0 1 0 -4.1 0M1533.87 595.83a2.05 2.05 0 1 0 4.1 0a2.05 2.05 0 1 0 -4.1 0M1533.5 597.78a2.05 2.05 0 1 0 4.1 0a2.05 2.05 0 1 0 -4.1 0M1533.26 599.74a2.05 2.05 0 1 0 4.1 0a2.05 2.05 0 1 0 -4.1 0M1533.27 601.7a2.05 2.05 0 1 0 4.1 0a2.05 2.05 0 1 0 -4.1 0" fill="#00f0a0"/>
<path d="M1583.63 639.2a2.05 2.05 0 1 0 4.1 0a2.05 2.05 0 1 0 -4.1 0M1583.53 641.16a2.05 2.05 0 1 0 4.1 0a2.05 2.05 0 1 0 -4.1 0M1583.6 643.11a2.05 2.05 0 1 0 4.1 0a2.05 2.05 0 1 0 -4.1 0M1584.14 645.07a2.05 2.05 0 1 0 4.1 0a2.05 2.05 0 1 0 -4.1 0M1584.45 647.02a2.05 2.05 0 1 0 4.1 0a2.05 2.05 0 1 0 -4.1 0M1583.61 648.98a2.05 2.05 0 1 0 4.1 0a2.05 2.05 0 1 0 -4.1 0M1583.5 650.93a2.05 2.05 0 1 0 4.1 0a2.05 2.05 0 1 0 -4.1 0M1584.44 652.89a2.05 2.05 0 1 0 4.1 0a2.05 2.05 0 1 0 -4.1 0M1583.98 654.84a2.05 2.05 0 1 0 4.1 0a2.05 2.05 0 1 0 -4.1 0M1583.86 656.8a2.05 2.05 0 1 0 4.1 0a2.05 2.05 0 1 0 -4.1 0" fill="#10e050"/>
<path d="M1639.69 437.6a2.05 2.05 0 1 0 4.1 0a2.05 2.05 0 1 0 -4.1 0M1640.04 439.59a2.05 2.05 0 1 0 4.1 0a2.05 2.05 0 1 0 -4.1 0M1640.28 441.58a2.05 2.05 0 1 0 4.1 0a2.05 2.05 0 1 0 -4.1 0M1639.91 443.56a2.05 2.05 0 1 0 4.1 0a2.05 2.05 0 1 0 -4.1 0M1639.87 445.55a2.05 2.05 0 1 0 4.1 0a2.05 2.05 0 1 0 -4.1 0M1639.51 447.54a2.05 2.05 0 1 0 4.1 0a2.05 2.05 0 1 0 -4.1 0M1640.37 449.52a2.05 2.05 0 1 0 4.1 0a2.05 2.05 0 1 0 -4.1 0M1639.48 451.51a2.05 2.05 0 1 0 4.1 0a2.05 2.05 0 1 0 -4.1 0M1639.94 453.5a2.05 2.05 0 1 0 4.1 0a2.05 2.05 0 1 0 -4.1 0M1640.29 455.49a2.05 2.05 0 1 0 4.1 0a2.05 2.05 0 1 0 -4.1 0M1639.58 457.48a2.05 2.05 0 1 0 4.1 0a2.05 2.05 0 1 0 -4.1 0M1640.18 459.46a2.05 2.05 0 1 0 4.1 0a2.05 2.05 0 1 0 -4.1 0M1640.4 461.45a2.05 2.05 0 1 0 4.1 0a2.05 2.05 0 1 0 -4.1 0M1640.08 463.44a2.05 2.05 0 1 0 4.1 0a2.05 2.05 0 1 0 -4.1 0M1640.24 465.42a2.05 2.05 0 1 0 4.1 0a2.05 2.05 0 1 0 -4.1 0M1639.56 467.41a2.05 2.05 0 1 0 4.1 0a2.05 2.05 0 1 0 -4.1 0M1639.88 469.4a2.05 2.05 0 1 0 4.1 0a2.05 2.05 0 1 0 -4.1 0" fill="#20f010"/>
<path d="M1640.9 473.6a2.05 2.05 0 1 0 4.1 0a2.05 2.05 0 1 0 -4.1 0M1641.59 475.53a2.05 2.05 0 1 0 4.1 0a2.05 2.05 0 1 0 -4.1 0M1641.04 477.46a2.05 2.05 0 1 0 4.1 0a2.05 2.05 0 1 0 -4.1 0M1641.2 479.39a2.05 2.05 0 1 0 4.1 0a2.05 2.05 0 1 0 -4.1 0M1641.75 481.32a2.05 2.05 0 1 0 4.1 0a2.05 2.05 0 1 0 -4.1 0M1641.6 483.25a2.05 2.05 0 1 0 4.1 0a2.05 2.05 0 1 0 -4.1 0M1641.73 485.18a2.05 2.05 0 1 0 4.1 0a2.05 2.05 0 1 0 -4.1 0M1641.2 487.12a2.05 2.05 0 1 0 4.1 0a2.05 2.05 0 1 0 -4.1 0M1641.24 489.05a2.05 2.05 0 1 0 4.1 0a2.05 2.05 0 1 0 -4.1 0M1641.48 490.98a2.05 2.05 0 1 0 4.1 0a2.05 2.05 0 1 0 -4.1 0M1641.23 492.91a2.05 2.05 0 1 0 4.1 0a2.05 2.05 0 1 0 -4.1 0M1641.04 494.84a2.05 2.05 0 1 0 4.1 0a2.05 2.05 0 1 0 -4.1 0M1641.15 496.77a2.05 2.05 0 1 0 4.1 0a2.05 2.05 0 1 0 -4.1 0M1640.9 498.7a2.05 2.05 0 1 0 4.1 0a2.05 2.05 0 1 0 -4.1 0" fill="#20f010"/>
<path d="M1641.53 502.8a2.05 2.05 0 1 0 4.1 0a2.05 2.05 0 1 0 -4.1 0" fill="#20f010"/>
<path d="M1703.24 454.3a2.05 2.05 0 1 0 4.1 0a2.05 2.05 0 1 0 -4.1 0M1703.21 456.29a2.05 2.05 0 1 0 4.1 0a2.05 2.05 0 1 0 -4.1 0M1702.88 458.27a2.05 2.05 0 1 0 4.1 0a2.05 2.05 0 1 0 -4.1 0M1702.75 460.26a2.05 2.05 0 1 0 4.1 0a2.05 2.05 0 1 0 -4.1 0M1702.59 462.25a2.05 2.05 0 1 0 4.1 0a2.05 2.05 0 1 0 -4.1 0M1702.34 464.24a2.05 2.05 0 1 0 4.1 0a2.05 2.05 0 1 0 -4.1 0M1702.52 466.23a2.05 2.05 0 1 0 4.1 0a2.05 2.05 0 1 0 -4.1 0M1703.03 468.21a2.05 2.05 0 1 0 4.1 0a2.05 2.05 0 1 0 -4.1 0M1703.12 470.2a2.05 2.05 0 1 0 4.1 0a2.05 2.05 0 1 0 -4.1 0" fill="#ffe000"/>
<path d="M1705.61 499.5a2.05 2.05 0 1 0 4.1 0a2.05 2.05 0 1 0 -4.1 0M1706.04 501.53a2.05 2.05 0 1 0 4.1 0a2.05 2.05 0 1 0 -4.1 0M1706.02 503.56a2.05 2.05 0 1 0 4.1 0a2.05 2.05 0 1 0 -4.1 0M1705.94 505.59a2.05 2.05 0 1 0 4.1 0a2.05 2.05 0 1 0 -4.1 0M1705.91 507.61a2.05 2.05 0 1 0 4.1 0a2.05 2.05 0 1 0 -4.1 0M1706.01 509.64a2.05 2.05 0 1 0 4.1 0a2.05 2.05 0 1 0 -4.1 0M1705.61 511.67a2.05 2.05 0 1 0 4.1 0a2.05 2.05 0 1 0 -4.1 0M1705.95 513.7a2.05 2.05 0 1 0 4.1 0a2.05 2.05 0 1 0 -4.1 0" fill="#ff9000"/>
<path d="M1705.53 517.9a2.05 2.05 0 1 0 4.1 0a2.05 2.05 0 1 0 -4.1 0M1705.74 519.89a2.05 2.05 0 1 0 4.1 0a2.05 2.05 0 1 0 -4.1 0M1706.02 521.88a2.05 2.05 0 1 0 4.1 0a2.05 2.05 0 1 0 -4.1 0M1705.94 523.88a2.05 2.05 0 1 0 4.1 0a2.05 2.05 0 1 0 -4.1 0M1705.54 525.87a2.05 2.05 0 1 0 4.1 0a2.05 2.05 0 1 0 -4.1 0M1706.2 527.86a2.05 2.05 0 1 0 4.1 0a2.05 2.05 0 1 0 -4.1 0M1705.9 529.85a2.05 2.05 0 1 0 4.1 0a2.05 2.05 0 1 0 -4.1 0M1705.83 531.85a2.05 2.05 0 1 0 4.1 0a2.05 2.05 0 1 0 -4.1 0M1705.26 533.84a2.05 2.05 0 1 0 4.1 0a2.05 2.05 0 1 0 -4.1 0M1705.8 535.83a2.05 2.05 0 1 0 4.1 0a2.05 2.05 0 1 0 -4.1 0M1705.5 537.82a2.05 2.05 0 1 0 4.1 0a2.05 2.05 0 1 0 -4.1 0M1705.92 539.82a2.05 2.05 0 1 0 4.1 0a2.05 2.05 0 1 0 -4.1 0M1705.71 541.81a2.05 2.05 0 1 0 4.1 0a2.05 2.05 0 1 0 -4.1 0M1706.07 543.8a2.05 2.05 0 1 0 4.1 0a2.05 2.05 0 1 0 -4.1 0" fill="#ff9000"/>
<path d="M1705.6 552.2a2.05 2.05 0 1 0 4.1 0a2.05 2.05 0 1 0 -4.1 0" fill="#ff9000"/>
<path d="M1709.25 548a2.05 2.05 0 1 0 4.1 0a2.05 2.05 0 1 0 -4.1 0M1708.8 550.1a2.05 2.05 0 1 0 4.1 0a2.05 2.05 0 1 0 -4.1 0M1709.09 552.2a2.05 2.05 0 1 0 4.1 0a2.05 2.05 0 1 0 -4.1 0M1709.19 554.3a2.05 2.05 0 1 0 4.1 0a2.05 2.05 0 1 0 -4.1 0M1709.28 556.4a2.05 2.05 0 1 0 4.1 0a2.05 2.05 0 1 0 -4.1 0M1708.8 558.5a2.05 2.05 0 1 0 4.1 0a2.05 2.05 0 1 0 -4.1 0M1709.29 560.6a2.05 2.05 0 1 0 4.1 0a2.05 2.05 0 1 0 -4.1 0M1709.32 562.7a2.05 2.05 0 1 0 4.1 0a2.05 2.05 0 1 0 -4.1 0M1709.14 564.8a2.05 2.05 0 1 0 4.1 0a2.05 2.05 0 1 0 -4.1 0M1709.43 566.9a2.05 2.05 0 1 0 4.1 0a2.05 2.05 0 1 0 -4.1 0M1709.41 569a2.05 2.05 0 1 0 4.1 0a2.05 2.05 0 1 0 -4.1 0" fill="#ff4800"/>
<path d="M1711.57 568.1a2.05 2.05 0 1 0 4.1 0a2.05 2.05 0 1 0 -4.1 0M1711.58 570.14a2.05 2.05 0 1 0 4.1 0a2.05 2.05 0 1 0 -4.1 0M1711.22 572.19a2.05 2.05 0 1 0 4.1 0a2.05 2.05 0 1 0 -4.1 0M1711.89 574.23a2.05 2.05 0 1 0 4.1 0a2.05 2.05 0 1 0 -4.1 0M1711.99 576.28a2.05 2.05 0 1 0 4.1 0a2.05 2.05 0 1 0 -4.1 0M1711.53 578.32a2.05 2.05 0 1 0 4.1 0a2.05 2.05 0 1 0 -4.1 0M1711.74 580.37a2.05 2.05 0 1 0 4.1 0a2.05 2.05 0 1 0 -4.1 0M1711.77 582.41a2.05 2.05 0 1 0 4.1 0a2.05 2.05 0 1 0 -4.1 0M1711.78 584.46a2.05 2.05 0 1 0 4.1 0a2.05 2.05 0 1 0 -4.1 0M1711.22 586.5a2.05 2.05 0 1 0 4.1 0a2.05 2.05 0 1 0 -4.1 0" fill="#ff0000"/>
<path d="M1708.83 579a2.05 2.05 0 1 0 4.1 0a2.05 2.05 0 1 0 -4.1 0" fill="#ff0000"/>
<path d="M1694.43 570.6a2.05 2.05 0 1 0 4.1 0a2.05 2.05 0 1 0 -4.1 0M1694.52 572.55a2.05 2.05 0 1 0 4.1 0a2.05 2.05 0 1 0 -4.1 0M1694.27 574.5a2.05 2.05 0 1 0 4.1 0a2.05 2.05 0 1 0 -4.1 0M1694.47 576.45a2.05 2.05 0 1 0 4.1 0a2.05 2.05 0 1 0 -4.1 0M1694.62 578.4a2.05 2.05 0 1 0 4.1 0a2.05 2.05 0 1 0 -4.1 0M1694.49 580.35a2.05 2.05 0 1 0 4.1 0a2.05 2.05 0 1 0 -4.1 0M1694.57 582.3a2.05 2.05 0 1 0 4.1 0a2.05 2.05 0 1 0 -4.1 0M1693.88 584.25a2.05 2.05 0 1 0 4.1 0a2.05 2.05 0 1 0 -4.1 0M1694.01 586.2a2.05 2.05 0 1 0 4.1 0a2.05 2.05 0 1 0 -4.1 0M1694.29 588.15a2.05 2.05 0 1 0 4.1 0a2.05 2.05 0 1 0 -4.1 0M1694.5 590.1a2.05 2.05 0 1 0 4.1 0a2.05 2.05 0 1 0 -4.1 0M1694.07 592.05a2.05 2.05 0 1 0 4.1 0a2.05 2.05 0 1 0 -4.1 0M1694.54 594a2.05 2.05 0 1 0 4.1 0a2.05 2.05 0 1 0 -4.1 0" fill="#c0ff10"/>
<path d="M1691.48 593.2a2.05 2.05 0 1 0 4.1 0a2.05 2.05 0 1 0 -4.1 0M1690.89 595.21a2.05 2.05 0 1 0 4.1 0a2.05 2.05 0 1 0 -4.1 0M1691.32 597.22a2.05 2.05 0 1 0 4.1 0a2.05 2.05 0 1 0 -4.1 0M1691.08 599.23a2.05 2.05 0 1 0 4.1 0a2.05 2.05 0 1 0 -4.1 0M1690.9 601.24a2.05 2.05 0 1 0 4.1 0a2.05 2.05 0 1 0 -4.1 0M1690.98 603.25a2.05 2.05 0 1 0 4.1 0a2.05 2.05 0 1 0 -4.1 0M1691.17 605.26a2.05 2.05 0 1 0 4.1 0a2.05 2.05 0 1 0 -4.1 0M1691.03 607.27a2.05 2.05 0 1 0 4.1 0a2.05 2.05 0 1 0 -4.1 0M1691.04 609.28a2.05 2.05 0 1 0 4.1 0a2.05 2.05 0 1 0 -4.1 0M1690.89 611.29a2.05 2.05 0 1 0 4.1 0a2.05 2.05 0 1 0 -4.1 0M1691.32 613.3a2.05 2.05 0 1 0 4.1 0a2.05 2.05 0 1 0 -4.1 0" fill="#80f010"/>
<path d="M1260.23 928.3a2.05 2.05 0 1 0 4.1 0a2.05 2.05 0 1 0 -4.1 0M1260.46 930.36a2.05 2.05 0 1 0 4.1 0a2.05 2.05 0 1 0 -4.1 0M1260.44 932.41a2.05 2.05 0 1 0 4.1 0a2.05 2.05 0 1 0 -4.1 0M1260.09 934.47a2.05 2.05 0 1 0 4.1 0a2.05 2.05 0 1 0 -4.1 0M1260.75 936.52a2.05 2.05 0 1 0 4.1 0a2.05 2.05 0 1 0 -4.1 0M1259.85 938.58a2.05 2.05 0 1 0 4.1 0a2.05 2.05 0 1 0 -4.1 0M1260.26 940.63a2.05 2.05 0 1 0 4.1 0a2.05 2.05 0 1 0 -4.1 0M1260.13 942.69a2.05 2.05 0 1 0 4.1 0a2.05 2.05 0 1 0 -4.1 0M1260.26 944.74a2.05 2.05 0 1 0 4.1 0a2.05 2.05 0 1 0 -4.1 0M1259.97 946.8a2.05 2.05 0 1 0 4.1 0a2.05 2.05 0 1 0 -4.1 0" fill="#10f0f0"/>
<path d="M1386.88 1026.8a2.05 2.05 0 1 0 4.1 0a2.05 2.05 0 1 0 -4.1 0M1386.42 1028.77a2.05 2.05 0 1 0 4.1 0a2.05 2.05 0 1 0 -4.1 0M1386.09 1030.74a2.05 2.05 0 1 0 4.1 0a2.05 2.05 0 1 0 -4.1 0M1386.66 1032.71a2.05 2.05 0 1 0 4.1 0a2.05 2.05 0 1 0 -4.1 0M1386.14 1034.68a2.05 2.05 0 1 0 4.1 0a2.05 2.05 0 1 0 -4.1 0M1386.6 1036.65a2.05 2.05 0 1 0 4.1 0a2.05 2.05 0 1 0 -4.1 0M1386.39 1038.62a2.05 2.05 0 1 0 4.1 0a2.05 2.05 0 1 0 -4.1 0M1386.63 1040.58a2.05 2.05 0 1 0 4.1 0a2.05 2.05 0 1 0 -4.1 0M1387.01 1042.55a2.05 2.05 0 1 0 4.1 0a2.05 2.05 0 1 0 -4.1 0M1386.87 1044.52a2.05 2.05 0 1 0 4.1 0a2.05 2.05 0 1 0 -4.1 0M1386.47 1046.49a2.05 2.05 0 1 0 4.1 0a2.05 2.05 0 1 0 -4.1 0M1386.86 1048.46a2.05 2.05 0 1 0 4.1 0a2.05 2.05 0 1 0 -4.1 0M1386.69 1050.43a2.05 2.05 0 1 0 4.1 0a2.05 2.05 0 1 0 -4.1 0M1386.42 1052.4a2.05 2.05 0 1 0 4.1 0a2.05 2.05 0 1 0 -4.1 0" fill="#5c0096"/>
<path d="M1332.99 1079.5a2.05 2.05 0 1 0 4.1 0a2.05 2.05 0 1 0 -4.1 0M1333.45 1081.72a2.05 2.05 0 1 0 4.1 0a2.05 2.05 0 1 0 -4.1 0M1333.41 1083.95a2.05 2.05 0 1 0 4.1 0a2.05 2.05 0 1 0 -4.1 0M1333.81 1086.18a2.05 2.05 0 1 0 4.1 0a2.05 2.05 0 1 0 -4.1 0M1333.82 1088.4a2.05 2.05 0 1 0 4.1 0a2.05 2.05 0 1 0 -4.1 0" fill="#0818ff"/>
<path d="M1333.46 1096.4a2.05 2.05 0 1 0 4.1 0a2.05 2.05 0 1 0 -4.1 0" fill="#0818ff"/>
<path d="M1347.6 1070.3a2.05 2.05 0 1 0 4.1 0a2.05 2.05 0 1 0 -4.1 0M1348.14 1072.3a2.05 2.05 0 1 0 4.1 0a2.05 2.05 0 1 0 -4.1 0M1347.25 1074.3a2.05 2.05 0 1 0 4.1 0a2.05 2.05 0 1 0 -4.1 0M1347.36 1076.3a2.05 2.05 0 1 0 4.1 0a2.05 2.05 0 1 0 -4.1 0M1347.82 1078.3a2.05 2.05 0 1 0 4.1 0a2.05 2.05 0 1 0 -4.1 0M1347.87 1080.3a2.05 2.05 0 1 0 4.1 0a2.05 2.05 0 1 0 -4.1 0M1347.39 1082.3a2.05 2.05 0 1 0 4.1 0a2.05 2.05 0 1 0 -4.1 0M1347.88 1084.3a2.05 2.05 0 1 0 4.1 0a2.05 2.05 0 1 0 -4.1 0M1348.14 1086.3a2.05 2.05 0 1 0 4.1 0a2.05 2.05 0 1 0 -4.1 0" fill="#0066ff"/>
<path d="M1382.43 1095.5a2.05 2.05 0 1 0 4.1 0a2.05 2.05 0 1 0 -4.1 0M1382.48 1097.56a2.05 2.05 0 1 0 4.1 0a2.05 2.05 0 1 0 -4.1 0M1382.28 1099.61a2.05 2.05 0 1 0 4.1 0a2.05 2.05 0 1 0 -4.1 0M1382.34 1101.67a2.05 2.05 0 1 0 4.1 0a2.05 2.05 0 1 0 -4.1 0M1383.02 1103.72a2.05 2.05 0 1 0 4.1 0a2.05 2.05 0 1 0 -4.1 0M1382.43 1105.78a2.05 2.05 0 1 0 4.1 0a2.05 2.05 0 1 0 -4.1 0M1383.01 1107.83a2.05 2.05 0 1 0 4.1 0a2.05 2.05 0 1 0 -4.1 0M1382.96 1109.89a2.05 2.05 0 1 0 4.1 0a2.05 2.05 0 1 0 -4.1 0M1382.65 1111.94a2.05 2.05 0 1 0 4.1 0a2.05 2.05 0 1 0 -4.1 0M1382.31 1114a2.05 2.05 0 1 0 4.1 0a2.05 2.05 0 1 0 -4.1 0" fill="#00b8ff"/>
<path d="M1266.43 1103.2a2.05 2.05 0 1 0 4.1 0a2.05 2.05 0 1 0 -4.1 0M1265.95 1105.18a2.05 2.05 0 1 0 4.1 0a2.05 2.05 0 1 0 -4.1 0M1265.87 1107.16a2.05 2.05 0 1 0 4.1 0a2.05 2.05 0 1 0 -4.1 0M1265.77 1109.13a2.05 2.05 0 1 0 4.1 0a2.05 2.05 0 1 0 -4.1 0M1266.43 1111.11a2.05 2.05 0 1 0 4.1 0a2.05 2.05 0 1 0 -4.1 0M1265.94 1113.09a2.05 2.05 0 1 0 4.1 0a2.05 2.05 0 1 0 -4.1 0M1265.74 1115.07a2.05 2.05 0 1 0 4.1 0a2.05 2.05 0 1 0 -4.1 0M1265.93 1117.04a2.05 2.05 0 1 0 4.1 0a2.05 2.05 0 1 0 -4.1 0M1265.57 1119.02a2.05 2.05 0 1 0 4.1 0a2.05 2.05 0 1 0 -4.1 0M1266.07 1121a2.05 2.05 0 1 0 4.1 0a2.05 2.05 0 1 0 -4.1 0" fill="#20f010"/>
<path d="M1275.89 1111.2a2.05 2.05 0 1 0 4.1 0a2.05 2.05 0 1 0 -4.1 0M1275.74 1113.3a2.05 2.05 0 1 0 4.1 0a2.05 2.05 0 1 0 -4.1 0M1276.23 1115.4a2.05 2.05 0 1 0 4.1 0a2.05 2.05 0 1 0 -4.1 0M1276.28 1117.5a2.05 2.05 0 1 0 4.1 0a2.05 2.05 0 1 0 -4.1 0M1275.46 1119.6a2.05 2.05 0 1 0 4.1 0a2.05 2.05 0 1 0 -4.1 0M1275.98 1121.7a2.05 2.05 0 1 0 4.1 0a2.05 2.05 0 1 0 -4.1 0M1275.72 1123.8a2.05 2.05 0 1 0 4.1 0a2.05 2.05 0 1 0 -4.1 0M1276.39 1125.9a2.05 2.05 0 1 0 4.1 0a2.05 2.05 0 1 0 -4.1 0M1276.23 1128a2.05 2.05 0 1 0 4.1 0a2.05 2.05 0 1 0 -4.1 0" fill="#20f010"/>
<path d="M1278.7 1117a2.05 2.05 0 1 0 4.1 0a2.05 2.05 0 1 0 -4.1 0M1278.72 1119.06a2.05 2.05 0 1 0 4.1 0a2.05 2.05 0 1 0 -4.1 0M1278.6 1121.11a2.05 2.05 0 1 0 4.1 0a2.05 2.05 0 1 0 -4.1 0M1279.44 1123.17a2.05 2.05 0 1 0 4.1 0a2.05 2.05 0 1 0 -4.1 0M1278.74 1125.22a2.05 2.05 0 1 0 4.1 0a2.05 2.05 0 1 0 -4.1 0M1279.06 1127.28a2.05 2.05 0 1 0 4.1 0a2.05 2.05 0 1 0 -4.1 0M1278.92 1129.33a2.05 2.05 0 1 0 4.1 0a2.05 2.05 0 1 0 -4.1 0M1279.09 1131.39a2.05 2.05 0 1 0 4.1 0a2.05 2.05 0 1 0 -4.1 0M1279.05 1133.44a2.05 2.05 0 1 0 4.1 0a2.05 2.05 0 1 0 -4.1 0M1279.19 1135.5a2.05 2.05 0 1 0 4.1 0a2.05 2.05 0 1 0 -4.1 0" fill="#20f010"/>
<path d="M1278.47 1141a2.05 2.05 0 1 0 4.1 0a2.05 2.05 0 1 0 -4.1 0" fill="#20f010"/>
<path d="M1288.91 1139.5a2.05 2.05 0 1 0 4.1 0a2.05 2.05 0 1 0 -4.1 0M1288.45 1141.47a2.05 2.05 0 1 0 4.1 0a2.05 2.05 0 1 0 -4.1 0M1288.68 1143.45a2.05 2.05 0 1 0 4.1 0a2.05 2.05 0 1 0 -4.1 0M1288.49 1145.42a2.05 2.05 0 1 0 4.1 0a2.05 2.05 0 1 0 -4.1 0M1288.45 1147.4a2.05 2.05 0 1 0 4.1 0a2.05 2.05 0 1 0 -4.1 0M1288.68 1149.38a2.05 2.05 0 1 0 4.1 0a2.05 2.05 0 1 0 -4.1 0M1288.61 1151.35a2.05 2.05 0 1 0 4.1 0a2.05 2.05 0 1 0 -4.1 0M1288.51 1153.33a2.05 2.05 0 1 0 4.1 0a2.05 2.05 0 1 0 -4.1 0M1288.9 1155.3a2.05 2.05 0 1 0 4.1 0a2.05 2.05 0 1 0 -4.1 0M1288.74 1157.28a2.05 2.05 0 1 0 4.1 0a2.05 2.05 0 1 0 -4.1 0M1288.19 1159.25a2.05 2.05 0 1 0 4.1 0a2.05 2.05 0 1 0 -4.1 0M1288.4 1161.23a2.05 2.05 0 1 0 4.1 0a2.05 2.05 0 1 0 -4.1 0M1288.61 1163.2a2.05 2.05 0 1 0 4.1 0a2.05 2.05 0 1 0 -4.1 0" fill="#20f010"/>
<path d="M1289.07 1168.8a2.05 2.05 0 1 0 4.1 0a2.05 2.05 0 1 0 -4.1 0" fill="#20f010"/>
<path d="M1261.34 1120.1a2.05 2.05 0 1 0 4.1 0a2.05 2.05 0 1 0 -4.1 0M1261 1122.02a2.05 2.05 0 1 0 4.1 0a2.05 2.05 0 1 0 -4.1 0M1260.46 1123.95a2.05 2.05 0 1 0 4.1 0a2.05 2.05 0 1 0 -4.1 0M1261.23 1125.88a2.05 2.05 0 1 0 4.1 0a2.05 2.05 0 1 0 -4.1 0M1260.88 1127.8a2.05 2.05 0 1 0 4.1 0a2.05 2.05 0 1 0 -4.1 0M1261.03 1129.72a2.05 2.05 0 1 0 4.1 0a2.05 2.05 0 1 0 -4.1 0M1261.16 1131.65a2.05 2.05 0 1 0 4.1 0a2.05 2.05 0 1 0 -4.1 0M1261.08 1133.58a2.05 2.05 0 1 0 4.1 0a2.05 2.05 0 1 0 -4.1 0M1260.93 1135.5a2.05 2.05 0 1 0 4.1 0a2.05 2.05 0 1 0 -4.1 0" fill="#ffe000"/>
<path d="M1296.76 1183.5a2.05 2.05 0 1 0 4.1 0a2.05 2.05 0 1 0 -4.1 0M1296.24 1185.38a2.05 2.05 0 1 0 4.1 0a2.05 2.05 0 1 0 -4.1 0M1296.24 1187.25a2.05 2.05 0 1 0 4.1 0a2.05 2.05 0 1 0 -4.1 0M1296.7 1189.12a2.05 2.05 0 1 0 4.1 0a2.05 2.05 0 1 0 -4.1 0M1296.05 1191a2.05 2.05 0 1 0 4.1 0a2.05 2.05 0 1 0 -4.1 0M1296.15 1192.88a2.05 2.05 0 1 0 4.1 0a2.05 2.05 0 1 0 -4.1 0M1296.68 1194.75a2.05 2.05 0 1 0 4.1 0a2.05 2.05 0 1 0 -4.1 0M1295.92 1196.62a2.05 2.05 0 1 0 4.1 0a2.05 2.05 0 1 0 -4.1 0M1296.69 1198.5a2.05 2.05 0 1 0 4.1 0a2.05 2.05 0 1 0 -4.1 0" fill="#ff9000"/>
<path d="M1296.54 1178a2.05 2.05 0 1 0 4.1 0a2.05 2.05 0 1 0 -4.1 0" fill="#ff9000"/>
<path d="M1301.88 1166.3a2.05 2.05 0 1 0 4.1 0a2.05 2.05 0 1 0 -4.1 0M1301.74 1168.46a2.05 2.05 0 1 0 4.1 0a2.05 2.05 0 1 0 -4.1 0M1302.23 1170.62a2.05 2.05 0 1 0 4.1 0a2.05 2.05 0 1 0 -4.1 0M1302.36 1172.78a2.05 2.05 0 1 0 4.1 0a2.05 2.05 0 1 0 -4.1 0M1301.59 1174.94a2.05 2.05 0 1 0 4.1 0a2.05 2.05 0 1 0 -4.1 0M1301.93 1177.1a2.05 2.05 0 1 0 4.1 0a2.05 2.05 0 1 0 -4.1 0" fill="#ff9000"/>
<path d="M1302 1186.3a2.05 2.05 0 1 0 4.1 0a2.05 2.05 0 1 0 -4.1 0M1301.95 1188.26a2.05 2.05 0 1 0 4.1 0a2.05 2.05 0 1 0 -4.1 0M1301.78 1190.23a2.05 2.05 0 1 0 4.1 0a2.05 2.05 0 1 0 -4.1 0M1301.6 1192.19a2.05 2.05 0 1 0 4.1 0a2.05 2.05 0 1 0 -4.1 0M1302.04 1194.15a2.05 2.05 0 1 0 4.1 0a2.05 2.05 0 1 0 -4.1 0M1302.26 1196.12a2.05 2.05 0 1 0 4.1 0a2.05 2.05 0 1 0 -4.1 0M1301.52 1198.08a2.05 2.05 0 1 0 4.1 0a2.05 2.05 0 1 0 -4.1 0M1301.68 1200.05a2.05 2.05 0 1 0 4.1 0a2.05 2.05 0 1 0 -4.1 0M1302.27 1202.01a2.05 2.05 0 1 0 4.1 0a2.05 2.05 0 1 0 -4.1 0M1302.24 1203.97a2.05 2.05 0 1 0 4.1 0a2.05 2.05 0 1 0 -4.1 0M1302.11 1205.94a2.05 2.05 0 1 0 4.1 0a2.05 2.05 0 1 0 -4.1 0M1301.48 1207.9a2.05 2.05 0 1 0 4.1 0a2.05 2.05 0 1 0 -4.1 0" fill="#ff9000"/>
<path d="M1302.67 1217.7a2.05 2.05 0 1 0 4.1 0a2.05 2.05 0 1 0 -4.1 0" fill="#ff9000"/>
<path d="M1335.63 1214a2.05 2.05 0 1 0 4.1 0a2.05 2.05 0 1 0 -4.1 0M1335.65 1216a2.05 2.05 0 1 0 4.1 0a2.05 2.05 0 1 0 -4.1 0M1335.35 1218a2.05 2.05 0 1 0 4.1 0a2.05 2.05 0 1 0 -4.1 0M1334.7 1220a2.05 2.05 0 1 0 4.1 0a2.05 2.05 0 1 0 -4.1 0M1335.49 1222a2.05 2.05 0 1 0 4.1 0a2.05 2.05 0 1 0 -4.1 0M1334.87 1224a2.05 2.05 0 1 0 4.1 0a2.05 2.05 0 1 0 -4.1 0M1335.3 1226a2.05 2.05 0 1 0 4.1 0a2.05 2.05 0 1 0 -4.1 0M1335.6 1228a2.05 2.05 0 1 0 4.1 0a2.05 2.05 0 1 0 -4.1 0M1335.36 1230a2.05 2.05 0 1 0 4.1 0a2.05 2.05 0 1 0 -4.1 0M1334.78 1232a2.05 2.05 0 1 0 4.1 0a2.05 2.05 0 1 0 -4.1 0M1334.94 1234a2.05 2.05 0 1 0 4.1 0a2.05 2.05 0 1 0 -4.1 0" fill="#ff4800"/>
<path d="M1335.57 1244.8a2.05 2.05 0 1 0 4.1 0a2.05 2.05 0 1 0 -4.1 0" fill="#ff4800"/>
<path d="M1368.1 1233.1a2.05 2.05 0 1 0 4.1 0a2.05 2.05 0 1 0 -4.1 0M1368.56 1235.16a2.05 2.05 0 1 0 4.1 0a2.05 2.05 0 1 0 -4.1 0M1368.36 1237.21a2.05 2.05 0 1 0 4.1 0a2.05 2.05 0 1 0 -4.1 0M1368.11 1239.27a2.05 2.05 0 1 0 4.1 0a2.05 2.05 0 1 0 -4.1 0M1368.57 1241.32a2.05 2.05 0 1 0 4.1 0a2.05 2.05 0 1 0 -4.1 0M1367.99 1243.38a2.05 2.05 0 1 0 4.1 0a2.05 2.05 0 1 0 -4.1 0M1368.06 1245.43a2.05 2.05 0 1 0 4.1 0a2.05 2.05 0 1 0 -4.1 0M1368.33 1247.49a2.05 2.05 0 1 0 4.1 0a2.05 2.05 0 1 0 -4.1 0M1368.02 1249.54a2.05 2.05 0 1 0 4.1 0a2.05 2.05 0 1 0 -4.1 0M1368.01 1251.6a2.05 2.05 0 1 0 4.1 0a2.05 2.05 0 1 0 -4.1 0" fill="#ff0000"/>
<path d="M1144.03 1178.6a2.05 2.05 0 1 0 4.1 0a2.05 2.05 0 1 0 -4.1 0M1144.19 1180.72a2.05 2.05 0 1 0 4.1 0a2.05 2.05 0 1 0 -4.1 0M1144.33 1182.85a2.05 2.05 0 1 0 4.1 0a2.05 2.05 0 1 0 -4.1 0M1143.58 1184.97a2.05 2.05 0 1 0 4.1 0a2.05 2.05 0 1 0 -4.1 0M1143.88 1187.1a2.05 2.05 0 1 0 4.1 0a2.05 2.05 0 1 0 -4.1 0M1143.76 1189.22a2.05 2.05 0 1 0 4.1 0a2.05 2.05 0 1 0 -4.1 0M1144.05 1191.35a2.05 2.05 0 1 0 4.1 0a2.05 2.05 0 1 0 -4.1 0M1143.94 1193.47a2.05 2.05 0 1 0 4.1 0a2.05 2.05 0 1 0 -4.1 0M1144.39 1195.6a2.05 2.05 0 1 0 4.1 0a2.05 2.05 0 1 0 -4.1 0" fill="#4a0050"/>
<path d="M1150.92 1204.8a2.05 2.05 0 1 0 4.1 0a2.05 2.05 0 1 0 -4.1 0M1150.61 1206.8a2.05 2.05 0 1 0 4.1 0a2.05 2.05 0 1 0 -4.1 0M1151.25 1208.8a2.05 2.05 0 1 0 4.1 0a2.05 2.05 0 1 0 -4.1 0M1150.7 1210.8a2.05 2.05 0 1 0 4.1 0a2.05 2.05 0 1 0 -4.1 0M1151.18 1212.8a2.05 2.05 0 1 0 4.1 0a2.05 2.05 0 1 0 -4.1 0M1151.06 1214.8a2.05 2.05 0 1 0 4.1 0a2.05 2.05 0 1 0 -4.1 0M1151.46 1216.8a2.05 2.05 0 1 0 4.1 0a2.05 2.05 0 1 0 -4.1 0M1151.1 1218.8a2.05 2.05 0 1 0 4.1 0a2.05 2.05 0 1 0 -4.1 0M1151.17 1220.8a2.05 2.05 0 1 0 4.1 0a2.05 2.05 0 1 0 -4.1 0" fill="#4a0050"/>
<path d="M1160.71 1215.9a2.05 2.05 0 1 0 4.1 0a2.05 2.05 0 1 0 -4.1 0M1161 1218.05a2.05 2.05 0 1 0 4.1 0a2.05 2.05 0 1 0 -4.1 0M1160.7 1220.2a2.05 2.05 0 1 0 4.1 0a2.05 2.05 0 1 0 -4.1 0M1161.2 1222.35a2.05 2.05 0 1 0 4.1 0a2.05 2.05 0 1 0 -4.1 0M1160.97 1224.5a2.05 2.05 0 1 0 4.1 0a2.05 2.05 0 1 0 -4.1 0M1160.58 1226.65a2.05 2.05 0 1 0 4.1 0a2.05 2.05 0 1 0 -4.1 0M1160.68 1228.8a2.05 2.05 0 1 0 4.1 0a2.05 2.05 0 1 0 -4.1 0" fill="#4a0050"/>
<path d="M1161.72 1236.2a2.05 2.05 0 1 0 4.1 0a2.05 2.05 0 1 0 -4.1 0M1162.09 1238.25a2.05 2.05 0 1 0 4.1 0a2.05 2.05 0 1 0 -4.1 0M1161.53 1240.29a2.05 2.05 0 1 0 4.1 0a2.05 2.05 0 1 0 -4.1 0M1162.06 1242.34a2.05 2.05 0 1 0 4.1 0a2.05 2.05 0 1 0 -4.1 0M1162.01 1244.38a2.05 2.05 0 1 0 4.1 0a2.05 2.05 0 1 0 -4.1 0M1161.44 1246.43a2.05 2.05 0 1 0 4.1 0a2.05 2.05 0 1 0 -4.1 0M1162.02 1248.47a2.05 2.05 0 1 0 4.1 0a2.05 2.05 0 1 0 -4.1 0M1161.44 1250.52a2.05 2.05 0 1 0 4.1 0a2.05 2.05 0 1 0 -4.1 0M1161.47 1252.56a2.05 2.05 0 1 0 4.1 0a2.05 2.05 0 1 0 -4.1 0M1161.94 1254.61a2.05 2.05 0 1 0 4.1 0a2.05 2.05 0 1 0 -4.1 0M1161.59 1256.65a2.05 2.05 0 1 0 4.1 0a2.05 2.05 0 1 0 -4.1 0M1162.23 1258.7a2.05 2.05 0 1 0 4.1 0a2.05 2.05 0 1 0 -4.1 0" fill="#c0ff10"/>
<path d="M1123.33 1243.3a2.05 2.05 0 1 0 4.1 0a2.05 2.05 0 1 0 -4.1 0M1123.17 1245.22a2.05 2.05 0 1 0 4.1 0a2.05 2.05 0 1 0 -4.1 0M1123.65 1247.15a2.05 2.05 0 1 0 4.1 0a2.05 2.05 0 1 0 -4.1 0M1122.88 1249.08a2.05 2.05 0 1 0 4.1 0a2.05 2.05 0 1 0 -4.1 0M1123.58 1251a2.05 2.05 0 1 0 4.1 0a2.05 2.05 0 1 0 -4.1 0M1122.9 1252.92a2.05 2.05 0 1 0 4.1 0a2.05 2.05 0 1 0 -4.1 0M1123 1254.85a2.05 2.05 0 1 0 4.1 0a2.05 2.05 0 1 0 -4.1 0M1123.8 1256.78a2.05 2.05 0 1 0 4.1 0a2.05 2.05 0 1 0 -4.1 0M1123.53 1258.7a2.05 2.05 0 1 0 4.1 0a2.05 2.05 0 1 0 -4.1 0M1123.07 1260.62a2.05 2.05 0 1 0 4.1 0a2.05 2.05 0 1 0 -4.1 0M1122.97 1262.55a2.05 2.05 0 1 0 4.1 0a2.05 2.05 0 1 0 -4.1 0M1123.82 1264.48a2.05 2.05 0 1 0 4.1 0a2.05 2.05 0 1 0 -4.1 0M1123.52 1266.4a2.05 2.05 0 1 0 4.1 0a2.05 2.05 0 1 0 -4.1 0" fill="#00f0a0"/>
<path d="M1129.17 1258.7a2.05 2.05 0 1 0 4.1 0a2.05 2.05 0 1 0 -4.1 0M1128.49 1260.7a2.05 2.05 0 1 0 4.1 0a2.05 2.05 0 1 0 -4.1 0M1128.97 1262.7a2.05 2.05 0 1 0 4.1 0a2.05 2.05 0 1 0 -4.1 0M1128.7 1264.7a2.05 2.05 0 1 0 4.1 0a2.05 2.05 0 1 0 -4.1 0M1128.59 1266.7a2.05 2.05 0 1 0 4.1 0a2.05 2.05 0 1 0 -4.1 0M1128.68 1268.7a2.05 2.05 0 1 0 4.1 0a2.05 2.05 0 1 0 -4.1 0M1128.96 1270.7a2.05 2.05 0 1 0 4.1 0a2.05 2.05 0 1 0 -4.1 0M1128.7 1272.7a2.05 2.05 0 1 0 4.1 0a2.05 2.05 0 1 0 -4.1 0M1128.74 1274.7a2.05 2.05 0 1 0 4.1 0a2.05 2.05 0 1 0 -4.1 0M1128.49 1276.7a2.05 2.05 0 1 0 4.1 0a2.05 2.05 0 1 0 -4.1 0M1129.18 1278.7a2.05 2.05 0 1 0 4.1 0a2.05 2.05 0 1 0 -4.1 0" fill="#80f010"/>
<path d="M1346.1 1304.9a2.05 2.05 0 1 0 4.1 0a2.05 2.05 0 1 0 -4.1 0M1346.25 1306.84a2.05 2.05 0 1 0 4.1 0a2.05 2.05 0 1 0 -4.1 0M1345.88 1308.79a2.05 2.05 0 1 0 4.1 0a2.05 2.05 0 1 0 -4.1 0M1346.3 1310.73a2.05 2.05 0 1 0 4.1 0a2.05 2.05 0 1 0 -4.1 0M1345.97 1312.68a2.05 2.05 0 1 0 4.1 0a2.05 2.05 0 1 0 -4.1 0M1346.04 1314.62a2.05 2.05 0 1 0 4.1 0a2.05 2.05 0 1 0 -4.1 0M1346.02 1316.57a2.05 2.05 0 1 0 4.1 0a2.05 2.05 0 1 0 -4.1 0M1346.19 1318.51a2.05 2.05 0 1 0 4.1 0a2.05 2.05 0 1 0 -4.1 0M1345.85 1320.46a2.05 2.05 0 1 0 4.1 0a2.05 2.05 0 1 0 -4.1 0M1345.55 1322.4a2.05 2.05 0 1 0 4.1 0a2.05 2.05 0 1 0 -4.1 0" fill="#10e050"/>
<path d="M1256.18 1341.8a2.05 2.05 0 1 0 4.1 0a2.05 2.05 0 1 0 -4.1 0M1256.35 1343.85a2.05 2.05 0 1 0 4.1 0a2.05 2.05 0 1 0 -4.1 0M1256.19 1345.9a2.05 2.05 0 1 0 4.1 0a2.05 2.05 0 1 0 -4.1 0M1257.04 1347.95a2.05 2.05 0 1 0 4.1 0a2.05 2.05 0 1 0 -4.1 0M1256.63 1350a2.05 2.05 0 1 0 4.1 0a2.05 2.05 0 1 0 -4.1 0M1256.91 1352.05a2.05 2.05 0 1 0 4.1 0a2.05 2.05 0 1 0 -4.1 0M1256.15 1354.1a2.05 2.05 0 1 0 4.1 0a2.05 2.05 0 1 0 -4.1 0" fill="#3c10d8"/>
<path d="M1628.63 928.3a2.05 2.05 0 1 0 4.1 0a2.05 2.05 0 1 0 -4.1 0M1628.86 930.36a2.05 2.05 0 1 0 4.1 0a2.05 2.05 0 1 0 -4.1 0M1628.84 932.41a2.05 2.05 0 1 0 4.1 0a2.05 2.05 0 1 0 -4.1 0M1628.49 934.47a2.05 2.05 0 1 0 4.1 0a2.05 2.05 0 1 0 -4.1 0M1629.15 936.52a2.05 2.05 0 1 0 4.1 0a2.05 2.05 0 1 0 -4.1 0M1628.25 938.58a2.05 2.05 0 1 0 4.1 0a2.05 2.05 0 1 0 -4.1 0M1628.66 940.63a2.05 2.05 0 1 0 4.1 0a2.05 2.05 0 1 0 -4.1 0M1628.53 942.69a2.05 2.05 0 1 0 4.1 0a2.05 2.05 0 1 0 -4.1 0M1628.66 944.74a2.05 2.05 0 1 0 4.1 0a2.05 2.05 0 1 0 -4.1 0M1628.37 946.8a2.05 2.05 0 1 0 4.1 0a2.05 2.05 0 1 0 -4.1 0" fill="#10f0f0"/>
<path d="M1755.28 1026.8a2.05 2.05 0 1 0 4.1 0a2.05 2.05 0 1 0 -4.1 0M1754.82 1028.77a2.05 2.05 0 1 0 4.1 0a2.05 2.05 0 1 0 -4.1 0M1754.49 1030.74a2.05 2.05 0 1 0 4.1 0a2.05 2.05 0 1 0 -4.1 0M1755.06 1032.71a2.05 2.05 0 1 0 4.1 0a2.05 2.05 0 1 0 -4.1 0M1754.54 1034.68a2.05 2.05 0 1 0 4.1 0a2.05 2.05 0 1 0 -4.1 0M1755 1036.65a2.05 2.05 0 1 0 4.1 0a2.05 2.05 0 1 0 -4.1 0M1754.79 1038.62a2.05 2.05 0 1 0 4.1 0a2.05 2.05 0 1 0 -4.1 0M1755.03 1040.58a2.05 2.05 0 1 0 4.1 0a2.05 2.05 0 1 0 -4.1 0M1755.41 1042.55a2.05 2.05 0 1 0 4.1 0a2.05 2.05 0 1 0 -4.1 0M1755.27 1044.52a2.05 2.05 0 1 0 4.1 0a2.05 2.05 0 1 0 -4.1 0M1754.87 1046.49a2.05 2.05 0 1 0 4.1 0a2.05 2.05 0 1 0 -4.1 0M1755.26 1048.46a2.05 2.05 0 1 0 4.1 0a2.05 2.05 0 1 0 -4.1 0M1755.09 1050.43a2.05 2.05 0 1 0 4.1 0a2.05 2.05 0 1 0 -4.1 0M1754.82 1052.4a2.05 2.05 0 1 0 4.1 0a2.05 2.05 0 1 0 -4.1 0" fill="#5c0096"/>
<path d="M1701.39 1079.5a2.05 2.05 0 1 0 4.1 0a2.05 2.05 0 1 0 -4.1 0M1701.85 1081.72a2.05 2.05 0 1 0 4.1 0a2.05 2.05 0 1 0 -4.1 0M1701.81 1083.95a2.05 2.05 0 1 0 4.1 0a2.05 2.05 0 1 0 -4.1 0M1702.21 1086.18a2.05 2.05 0 1 0 4.1 0a2.05 2.05 0 1 0 -4.1 0M1702.22 1088.4a2.05 2.05 0 1 0 4.1 0a2.05 2.05 0 1 0 -4.1 0" fill="#0818ff"/>
<path d="M1701.86 1096.4a2.05 2.05 0 1 0 4.1 0a2.05 2.05 0 1 0 -4.1 0" fill="#0818ff"/>
<path d="M1716 1070.3a2.05 2.05 0 1 0 4.1 0a2.05 2.05 0 1 0 -4.1 0M1716.54 1072.3a2.05 2.05 0 1 0 4.1 0a2.05 2.05 0 1 0 -4.1 0M1715.65 1074.3a2.05 2.05 0 1 0 4.1 0a2.05 2.05 0 1 0 -4.1 0M1715.76 1076.3a2.05 2.05 0 1 0 4.1 0a2.05 2.05 0 1 0 -4.1 0M1716.22 1078.3a2.05 2.05 0 1 0 4.1 0a2.05 2.05 0 1 0 -4.1 0M1716.27 1080.3a2.05 2.05 0 1 0 4.1 0a2.05 2.05 0 1 0 -4.1 0M1715.79 1082.3a2.05 2.05 0 1 0 4.1 0a2.05 2.05 0 1 0 -4.1 0M1716.28 1084.3a2.05 2.05 0 1 0 4.1 0a2.05 2.05 0 1 0 -4.1 0M1716.54 1086.3a2.05 2.05 0 1 0 4.1 0a2.05 2.05 0 1 0 -4.1 0" fill="#0066ff"/>
<path d="M1750.83 1095.5a2.05 2.05 0 1 0 4.1 0a2.05 2.05 0 1 0 -4.1 0M1750.88 1097.56a2.05 2.05 0 1 0 4.1 0a2.05 2.05 0 1 0 -4.1 0M1750.68 1099.61a2.05 2.05 0 1 0 4.1 0a2.05 2.05 0 1 0 -4.1 0M1750.74 1101.67a2.05 2.05 0 1 0 4.1 0a2.05 2.05 0 1 0 -4.1 0M1751.42 1103.72a2.05 2.05 0 1 0 4.1 0a2.05 2.05 0 1 0 -4.1 0M1750.83 1105.78a2.05 2.05 0 1 0 4.1 0a2.05 2.05 0 1 0 -4.1 0M1751.41 1107.83a2.05 2.05 0 1 0 4.1 0a2.05 2.05 0 1 0 -4.1 0M1751.36 1109.89a2.05 2.05 0 1 0 4.1 0a2.05 2.05 0 1 0 -4.1 0M1751.05 1111.94a2.05 2.05 0 1 0 4.1 0a2.05 2.05 0 1 0 -4.1 0M1750.71 1114a2.05 2.05 0 1 0 4.1 0a2.05 2.05 0 1 0 -4.1 0" fill="#00b8ff"/>
<path d="M1634.83 1103.2a2.05 2.05 0 1 0 4.1 0a2.05 2.05 0 1 0 -4.1 0M1634.35 1105.18a2.05 2.05 0 1 0 4.1 0a2.05 2.05 0 1 0 -4.1 0M1634.27 1107.16a2.05 2.05 0 1 0 4.1 0a2.05 2.05 0 1 0 -4.1 0M1634.17 1109.13a2.05 2.05 0 1 0 4.1 0a2.05 2.05 0 1 0 -4.1 0M1634.83 1111.11a2.05 2.05 0 1 0 4.1 0a2.05 2.05 0 1 0 -4.1 0M1634.34 1113.09a2.05 2.05 0 1 0 4.1 0a2.05 2.05 0 1 0 -4.1 0M1634.14 1115.07a2.05 2.05 0 1 0 4.1 0a2.05 2.05 0 1 0 -4.1 0M1634.33 1117.04a2.05 2.05 0 1 0 4.1 0a2.05 2.05 0 1 0 -4.1 0M1633.97 1119.02a2.05 2.05 0 1 0 4.1 0a2.05 2.05 0 1 0 -4.1 0M1634.47 1121a2.05 2.05 0 1 0 4.1 0a2.05 2.05 0 1 0 -4.1 0" fill="#20f010"/>
<path d="M1644.29 1111.2a2.05 2.05 0 1 0 4.1 0a2.05 2.05 0 1 0 -4.1 0M1644.14 1113.3a2.05 2.05 0 1 0 4.1 0a2.05 2.05 0 1 0 -4.1 0M1644.63 1115.4a2.05 2.05 0 1 0 4.1 0a2.05 2.05 0 1 0 -4.1 0M1644.68 1117.5a2.05 2.05 0 1 0 4.1 0a2.05 2.05 0 1 0 -4.1 0M1643.86 1119.6a2.05 2.05 0 1 0 4.1 0a2.05 2.05 0 1 0 -4.1 0M1644.38 1121.7a2.05 2.05 0 1 0 4.1 0a2.05 2.05 0 1 0 -4.1 0M1644.12 1123.8a2.05 2.05 0 1 0 4.1 0a2.05 2.05 0 1 0 -4.1 0M1644.79 1125.9a2.05 2.05 0 1 0 4.1 0a2.05 2.05 0 1 0 -4.1 0M1644.63 1128a2.05 2.05 0 1 0 4.1 0a2.05 2.05 0 1 0 -4.1 0" fill="#20f010"/>
<path d="M1647.1 1117a2.05 2.05 0 1 0 4.1 0a2.05 2.05 0 1 0 -4.1 0M1647.12 1119.06a2.05 2.05 0 1 0 4.1 0a2.05 2.05 0 1 0 -4.1 0M1647 1121.11a2.05 2.05 0 1 0 4.1 0a2.05 2.05 0 1 0 -4.1 0M1647.84 1123.17a2.05 2.05 0 1 0 4.1 0a2.05 2.05 0 1 0 -4.1 0M1647.14 1125.22a2.05 2.05 0 1 0 4.1 0a2.05 2.05 0 1 0 -4.1 0M1647.46 1127.28a2.05 2.05 0 1 0 4.1 0a2.05 2.05 0 1 0 -4.1 0M1647.32 1129.33a2.05 2.05 0 1 0 4.1 0a2.05 2.05 0 1 0 -4.1 0M1647.49 1131.39a2.05 2.05 0 1 0 4.1 0a2.05 2.05 0 1 0 -4.1 0M1647.45 1133.44a2.05 2.05 0 1 0 4.1 0a2.05 2.05 0 1 0 -4.1 0M1647.59 1135.5a2.05 2.05 0 1 0 4.1 0a2.05 2.05 0 1 0 -4.1 0" fill="#20f010"/>
<path d="M1646.87 1141a2.05 2.05 0 1 0 4.1 0a2.05 2.05 0 1 0 -4.1 0" fill="#20f010"/>
<path d="M1657.31 1139.5a2.05 2.05 0 1 0 4.1 0a2.05 2.05 0 1 0 -4.1 0M1656.85 1141.47a2.05 2.05 0 1 0 4.1 0a2.05 2.05 0 1 0 -4.1 0M1657.08 1143.45a2.05 2.05 0 1 0 4.1 0a2.05 2.05 0 1 0 -4.1 0M1656.89 1145.42a2.05 2.05 0 1 0 4.1 0a2.05 2.05 0 1 0 -4.1 0M1656.85 1147.4a2.05 2.05 0 1 0 4.1 0a2.05 2.05 0 1 0 -4.1 0M1657.08 1149.38a2.05 2.05 0 1 0 4.1 0a2.05 2.05 0 1 0 -4.1 0M1657.01 1151.35a2.05 2.05 0 1 0 4.1 0a2.05 2.05 0 1 0 -4.1 0M1656.91 1153.33a2.05 2.05 0 1 0 4.1 0a2.05 2.05 0 1 0 -4.1 0M1657.3 1155.3a2.05 2.05 0 1 0 4.1 0a2.05 2.05 0 1 0 -4.1 0M1657.14 1157.28a2.05 2.05 0 1 0 4.1 0a2.05 2.05 0 1 0 -4.1 0M1656.59 1159.25a2.05 2.05 0 1 0 4.1 0a2.05 2.05 0 1 0 -4.1 0M1656.8 1161.23a2.05 2.05 0 1 0 4.1 0a2.05 2.05 0 1 0 -4.1 0M1657.01 1163.2a2.05 2.05 0 1 0 4.1 0a2.05 2.05 0 1 0 -4.1 0" fill="#20f010"/>
<path d="M1657.47 1168.8a2.05 2.05 0 1 0 4.1 0a2.05 2.05 0 1 0 -4.1 0" fill="#20f010"/>
<path d="M1629.74 1120.1a2.05 2.05 0 1 0 4.1 0a2.05 2.05 0 1 0 -4.1 0M1629.4 1122.02a2.05 2.05 0 1 0 4.1 0a2.05 2.05 0 1 0 -4.1 0M1628.86 1123.95a2.05 2.05 0 1 0 4.1 0a2.05 2.05 0 1 0 -4.1 0M1629.63 1125.88a2.05 2.05 0 1 0 4.1 0a2.05 2.05 0 1 0 -4.1 0M1629.28 1127.8a2.05 2.05 0 1 0 4.1 0a2.05 2.05 0 1 0 -4.1 0M1629.43 1129.72a2.05 2.05 0 1 0 4.1 0a2.05 2.05 0 1 0 -4.1 0M1629.56 1131.65a2.05 2.05 0 1 0 4.1 0a2.05 2.05 0 1 0 -4.1 0M1629.48 1133.58a2.05 2.05 0 1 0 4.1 0a2.05 2.05 0 1 0 -4.1 0M1629.33 1135.5a2.05 2.05 0 1 0 4.1 0a2.05 2.05 0 1 0 -4.1 0" fill="#ffe000"/>
<path d="M1665.16 1183.5a2.05 2.05 0 1 0 4.1 0a2.05 2.05 0 1 0 -4.1 0M1664.64 1185.38a2.05 2.05 0 1 0 4.1 0a2.05 2.05 0 1 0 -4.1 0M1664.64 1187.25a2.05 2.05 0 1 0 4.1 0a2.05 2.05 0 1 0 -4.1 0M1665.1 1189.12a2.05 2.05 0 1 0 4.1 0a2.05 2.05 0 1 0 -4.1 0M1664.45 1191a2.05 2.05 0 1 0 4.1 0a2.05 2.05 0 1 0 -4.1 0M1664.55 1192.88a2.05 2.05 0 1 0 4.1 0a2.05 2.05 0 1 0 -4.1 0M1665.08 1194.75a2.05 2.05 0 1 0 4.1 0a2.05 2.05 0 1 0 -4.1 0M1664.32 1196.62a2.05 2.05 0 1 0 4.1 0a2.05 2.05 0 1 0 -4.1 0M1665.09 1198.5a2.05 2.05 0 1 0 4.1 0a2.05 2.05 0 1 0 -4.1 0" fill="#ff9000"/>
<path d="M1664.94 1178a2.05 2.05 0 1 0 4.1 0a2.05 2.05 0 1 0 -4.1 0" fill="#ff9000"/>
<path d="M1670.28 1166.3a2.05 2.05 0 1 0 4.1 0a2.05 2.05 0 1 0 -4.1 0M1670.14 1168.46a2.05 2.05 0 1 0 4.1 0a2.05 2.05 0 1 0 -4.1 0M1670.63 1170.62a2.05 2.05 0 1 0 4.1 0a2.05 2.05 0 1 0 -4.1 0M1670.76 1172.78a2.05 2.05 0 1 0 4.1 0a2.05 2.05 0 1 0 -4.1 0M1669.99 1174.94a2.05 2.05 0 1 0 4.1 0a2.05 2.05 0 1 0 -4.1 0M1670.33 1177.1a2.05 2.05 0 1 0 4.1 0a2.05 2.05 0 1 0 -4.1 0" fill="#ff9000"/>
<path d="M1670.4 1186.3a2.05 2.05 0 1 0 4.1 0a2.05 2.05 0 1 0 -4.1 0M1670.35 1188.26a2.05 2.05 0 1 0 4.1 0a2.05 2.05 0 1 0 -4.1 0M1670.18 1190.23a2.05 2.05 0 1 0 4.1 0a2.05 2.05 0 1 0 -4.1 0M1670 1192.19a2.05 2.05 0 1 0 4.1 0a2.05 2.05 0 1 0 -4.1 0M1670.44 1194.15a2.05 2.05 0 1 0 4.1 0a2.05 2.05 0 1 0 -4.1 0M1670.66 1196.12a2.05 2.05 0 1 0 4.1 0a2.05 2.05 0 1 0 -4.1 0M1669.92 1198.08a2.05 2.05 0 1 0 4.1 0a2.05 2.05 0 1 0 -4.1 0M1670.08 1200.05a2.05 2.05 0 1 0 4.1 0a2.05 2.05 0 1 0 -4.1 0M1670.67 1202.01a2.05 2.05 0 1 0 4.1 0a2.05 2.05 0 1 0 -4.1 0M1670.64 1203.97a2.05 2.05 0 1 0 4.1 0a2.05 2.05 0 1 0 -4.1 0M1670.51 1205.94a2.05 2.05 0 1 0 4.1 0a2.05 2.05 0 1 0 -4.1 0M1669.88 1207.9a2.05 2.05 0 1 0 4.1 0a2.05 2.05 0 1 0 -4.1 0" fill="#ff9000"/>
<path d="M1671.07 1217.7a2.05 2.05 0 1 0 4.1 0a2.05 2.05 0 1 0 -4.1 0" fill="#ff9000"/>
<path d="M1704.03 1214a2.05 2.05 0 1 0 4.1 0a2.05 2.05 0 1 0 -4.1 0M1704.05 1216a2.05 2.05 0 1 0 4.1 0a2.05 2.05 0 1 0 -4.1 0M1703.75 1218a2.05 2.05 0 1 0 4.1 0a2.05 2.05 0 1 0 -4.1 0M1703.1 1220a2.05 2.05 0 1 0 4.1 0a2.05 2.05 0 1 0 -4.1 0M1703.89 1222a2.05 2.05 0 1 0 4.1 0a2.05 2.05 0 1 0 -4.1 0M1703.27 1224a2.05 2.05 0 1 0 4.1 0a2.05 2.05 0 1 0 -4.1 0M1703.7 1226a2.05 2.05 0 1 0 4.1 0a2.05 2.05 0 1 0 -4.1 0M1704 1228a2.05 2.05 0 1 0 4.1 0a2.05 2.05 0 1 0 -4.1 0M1703.76 1230a2.05 2.05 0 1 0 4.1 0a2.05 2.05 0 1 0 -4.1 0M1703.18 1232a2.05 2.05 0 1 0 4.1 0a2.05 2.05 0 1 0 -4.1 0M1703.34 1234a2.05 2.05 0 1 0 4.1 0a2.05 2.05 0 1 0 -4.1 0" fill="#ff4800"/>
<path d="M1703.97 1244.8a2.05 2.05 0 1 0 4.1 0a2.05 2.05 0 1 0 -4.1 0" fill="#ff4800"/>
<path d="M1736.5 1233.1a2.05 2.05 0 1 0 4.1 0a2.05 2.05 0 1 0 -4.1 0M1736.96 1235.16a2.05 2.05 0 1 0 4.1 0a2.05 2.05 0 1 0 -4.1 0M1736.76 1237.21a2.05 2.05 0 1 0 4.1 0a2.05 2.05 0 1 0 -4.1 0M1736.51 1239.27a2.05 2.05 0 1 0 4.1 0a2.05 2.05 0 1 0 -4.1 0M1736.97 1241.32a2.05 2.05 0 1 0 4.1 0a2.05 2.05 0 1 0 -4.1 0M1736.39 1243.38a2.05 2.05 0 1 0 4.1 0a2.05 2.05 0 1 0 -4.1 0M1736.46 1245.43a2.05 2.05 0 1 0 4.1 0a2.05 2.05 0 1 0 -4.1 0M1736.73 1247.49a2.05 2.05 0 1 0 4.1 0a2.05 2.05 0 1 0 -4.1 0M1736.42 1249.54a2.05 2.05 0 1 0 4.1 0a2.05 2.05 0 1 0 -4.1 0M1736.41 1251.6a2.05 2.05 0 1 0 4.1 0a2.05 2.05 0 1 0 -4.1 0" fill="#ff0000"/>
<path d="M1512.43 1178.6a2.05 2.05 0 1 0 4.1 0a2.05 2.05 0 1 0 -4.1 0M1512.59 1180.72a2.05 2.05 0 1 0 4.1 0a2.05 2.05 0 1 0 -4.1 0M1512.73 1182.85a2.05 2.05 0 1 0 4.1 0a2.05 2.05 0 1 0 -4.1 0M1511.98 1184.97a2.05 2.05 0 1 0 4.1 0a2.05 2.05 0 1 0 -4.1 0M1512.28 1187.1a2.05 2.05 0 1 0 4.1 0a2.05 2.05 0 1 0 -4.1 0M1512.16 1189.22a2.05 2.05 0 1 0 4.1 0a2.05 2.05 0 1 0 -4.1 0M1512.45 1191.35a2.05 2.05 0 1 0 4.1 0a2.05 2.05 0 1 0 -4.1 0M1512.34 1193.47a2.05 2.05 0 1 0 4.1 0a2.05 2.05 0 1 0 -4.1 0M1512.79 1195.6a2.05 2.05 0 1 0 4.1 0a2.05 2.05 0 1 0 -4.1 0" fill="#4a0050"/>
<path d="M1519.32 1204.8a2.05 2.05 0 1 0 4.1 0a2.05 2.05 0 1 0 -4.1 0M1519.01 1206.8a2.05 2.05 0 1 0 4.1 0a2.05 2.05 0 1 0 -4.1 0M1519.65 1208.8a2.05 2.05 0 1 0 4.1 0a2.05 2.05 0 1 0 -4.1 0M1519.1 1210.8a2.05 2.05 0 1 0 4.1 0a2.05 2.05 0 1 0 -4.1 0M1519.58 1212.8a2.05 2.05 0 1 0 4.1 0a2.05 2.05 0 1 0 -4.1 0M1519.46 1214.8a2.05 2.05 0 1 0 4.1 0a2.05 2.05 0 1 0 -4.1 0M1519.86 1216.8a2.05 2.05 0 1 0 4.1 0a2.05 2.05 0 1 0 -4.1 0M1519.5 1218.8a2.05 2.05 0 1 0 4.1 0a2.05 2.05 0 1 0 -4.1 0M1519.57 1220.8a2.05 2.05 0 1 0 4.1 0a2.05 2.05 0 1 0 -4.1 0" fill="#4a0050"/>
<path d="M1529.11 1215.9a2.05 2.05 0 1 0 4.1 0a2.05 2.05 0 1 0 -4.1 0M1529.4 1218.05a2.05 2.05 0 1 0 4.1 0a2.05 2.05 0 1 0 -4.1 0M1529.1 1220.2a2.05 2.05 0 1 0 4.1 0a2.05 2.05 0 1 0 -4.1 0M1529.6 1222.35a2.05 2.05 0 1 0 4.1 0a2.05 2.05 0 1 0 -4.1 0M1529.37 1224.5a2.05 2.05 0 1 0 4.1 0a2.05 2.05 0 1 0 -4.1 0M1528.98 1226.65a2.05 2.05 0 1 0 4.1 0a2.05 2.05 0 1 0 -4.1 0M1529.08 1228.8a2.05 2.05 0 1 0 4.1 0a2.05 2.05 0 1 0 -4.1 0" fill="#4a0050"/>
<path d="M1530.12 1236.2a2.05 2.05 0 1 0 4.1 0a2.05 2.05 0 1 0 -4.1 0M1530.49 1238.25a2.05 2.05 0 1 0 4.1 0a2.05 2.05 0 1 0 -4.1 0M1529.93 1240.29a2.05 2.05 0 1 0 4.1 0a2.05 2.05 0 1 0 -4.1 0M1530.46 1242.34a2.05 2.05 0 1 0 4.1 0a2.05 2.05 0 1 0 -4.1 0M1530.41 1244.38a2.05 2.05 0 1 0 4.1 0a2.05 2.05 0 1 0 -4.1 0M1529.84 1246.43a2.05 2.05 0 1 0 4.1 0a2.05 2.05 0 1 0 -4.1 0M1530.42 1248.47a2.05 2.05 0 1 0 4.1 0a2.05 2.05 0 1 0 -4.1 0M1529.84 1250.52a2.05 2.05 0 1 0 4.1 0a2.05 2.05 0 1 0 -4.1 0M1529.87 1252.56a2.05 2.05 0 1 0 4.1 0a2.05 2.05 0 1 0 -4.1 0M1530.34 1254.61a2.05 2.05 0 1 0 4.1 0a2.05 2.05 0 1 0 -4.1 0M1529.99 1256.65a2.05 2.05 0 1 0 4.1 0a2.05 2.05 0 1 0 -4.1 0M1530.63 1258.7a2.05 2.05 0 1 0 4.1 0a2.05 2.05 0 1 0 -4.1 0" fill="#c0ff10"/>
<path d="M1491.73 1243.3a2.05 2.05 0 1 0 4.1 0a2.05 2.05 0 1 0 -4.1 0M1491.57 1245.22a2.05 2.05 0 1 0 4.1 0a2.05 2.05 0 1 0 -4.1 0M1492.05 1247.15a2.05 2.05 0 1 0 4.1 0a2.05 2.05 0 1 0 -4.1 0M1491.28 1249.08a2.05 2.05 0 1 0 4.1 0a2.05 2.05 0 1 0 -4.1 0M1491.98 1251a2.05 2.05 0 1 0 4.1 0a2.05 2.05 0 1 0 -4.1 0M1491.3 1252.92a2.05 2.05 0 1 0 4.1 0a2.05 2.05 0 1 0 -4.1 0M1491.4 1254.85a2.05 2.05 0 1 0 4.1 0a2.05 2.05 0 1 0 -4.1 0M1492.2 1256.78a2.05 2.05 0 1 0 4.1 0a2.05 2.05 0 1 0 -4.1 0M1491.93 1258.7a2.05 2.05 0 1 0 4.1 0a2.05 2.05 0 1 0 -4.1 0M1491.47 1260.62a2.05 2.05 0 1 0 4.1 0a2.05 2.05 0 1 0 -4.1 0M1491.37 1262.55a2.05 2.05 0 1 0 4.1 0a2.05 2.05 0 1 0 -4.1 0M1492.22 1264.48a2.05 2.05 0 1 0 4.1 0a2.05 2.05 0 1 0 -4.1 0M1491.92 1266.4a2.05 2.05 0 1 0 4.1 0a2.05 2.05 0 1 0 -4.1 0" fill="#00f0a0"/>
<path d="M1497.57 1258.7a2.05 2.05 0 1 0 4.1 0a2.05 2.05 0 1 0 -4.1 0M1496.89 1260.7a2.05 2.05 0 1 0 4.1 0a2.05 2.05 0 1 0 -4.1 0M1497.37 1262.7a2.05 2.05 0 1 0 4.1 0a2.05 2.05 0 1 0 -4.1 0M1497.1 1264.7a2.05 2.05 0 1 0 4.1 0a2.05 2.05 0 1 0 -4.1 0M1496.99 1266.7a2.05 2.05 0 1 0 4.1 0a2.05 2.05 0 1 0 -4.1 0M1497.08 1268.7a2.05 2.05 0 1 0 4.1 0a2.05 2.05 0 1 0 -4.1 0M1497.36 1270.7a2.05 2.05 0 1 0 4.1 0a2.05 2.05 0 1 0 -4.1 0M1497.1 1272.7a2.05 2.05 0 1 0 4.1 0a2.05 2.05 0 1 0 -4.1 0M1497.14 1274.7a2.05 2.05 0 1 0 4.1 0a2.05 2.05 0 1 0 -4.1 0M1496.89 1276.7a2.05 2.05 0 1 0 4.1 0a2.05 2.05 0 1 0 -4.1 0M1497.58 1278.7a2.05 2.05 0 1 0 4.1 0a2.05 2.05 0 1 0 -4.1 0" fill="#80f010"/>
<path d="M1714.5 1304.9a2.05 2.05 0 1 0 4.1 0a2.05 2.05 0 1 0 -4.1 0M1714.65 1306.84a2.05 2.05 0 1 0 4.1 0a2.05 2.05 0 1 0 -4.1 0M1714.28 1308.79a2.05 2.05 0 1 0 4.1 0a2.05 2.05 0 1 0 -4.1 0M1714.7 1310.73a2.05 2.05 0 1 0 4.1 0a2.05 2.05 0 1 0 -4.1 0M1714.37 1312.68a2.05 2.05 0 1 0 4.1 0a2.05 2.05 0 1 0 -4.1 0M1714.44 1314.62a2.05 2.05 0 1 0 4.1 0a2.05 2.05 0 1 0 -4.1 0M1714.42 1316.57a2.05 2.05 0 1 0 4.1 0a2.05 2.05 0 1 0 -4.1 0M1714.59 1318.51a2.05 2.05 0 1 0 4.1 0a2.05 2.05 0 1 0 -4.1 0M1714.25 1320.46a2.05 2.05 0 1 0 4.1 0a2.05 2.05 0 1 0 -4.1 0M1713.95 1322.4a2.05 2.05 0 1 0 4.1 0a2.05 2.05 0 1 0 -4.1 0" fill="#10e050"/>
<path d="M1624.58 1341.8a2.05 2.05 0 1 0 4.1 0a2.05 2.05 0 1 0 -4.1 0M1624.75 1343.85a2.05 2.05 0 1 0 4.1 0a2.05 2.05 0 1 0 -4.1 0M1624.59 1345.9a2.05 2.05 0 1 0 4.1 0a2.05 2.05 0 1 0 -4.1 0M1625.44 1347.95a2.05 2.05 0 1 0 4.1 0a2.05 2.05 0 1 0 -4.1 0M1625.03 1350a2.05 2.05 0 1 0 4.1 0a2.05 2.05 0 1 0 -4.1 0M1625.31 1352.05a2.05 2.05 0 1 0 4.1 0a2.05 2.05 0 1 0 -4.1 0M1624.55 1354.1a2.05 2.05 0 1 0 4.1 0a2.05 2.05 0 1 0 -4.1 0" fill="#3c10d8"/>
<g font-family="DejaVu Sans, Liberation Sans, sans-serif" font-weight="200" fill="#000">
<text x="527.84" y="73.2" font-size="42.2" stroke="#000" stroke-width="0.4478" textLength="108.25" lengthAdjust="spacingAndGlyphs">IOMC</text>
<text x="660.78" y="73.2" font-size="42.2" stroke="#000" stroke-width="0.4478" textLength="294.5" lengthAdjust="spacingAndGlyphs">8653000059</text>
<text x="1026.71" y="73.2" font-size="42.2" stroke="#000" stroke-width="0.4478" textLength="27.07" lengthAdjust="spacingAndGlyphs">V</text>
<text x="1100.02" y="73.2" font-size="42.2" stroke="#000" stroke-width="0.4478" textLength="146.11" lengthAdjust="spacingAndGlyphs">V1165</text>
<text x="1268.02" y="73.2" font-size="42.2" stroke="#000" stroke-width="0.4478" textLength="84.82" lengthAdjust="spacingAndGlyphs">Cen</text>
<text x="486.18" y="148.2" font-size="42.2" stroke="#000" stroke-width="0.4478" textLength="31.64" lengthAdjust="spacingAndGlyphs">O</text>
<text x="542.63" y="148.2" font-size="42.2" stroke="#000" stroke-width="0.4478" textLength="116.99" lengthAdjust="spacingAndGlyphs">Type:</text>
<text x="681.84" y="148.2" font-size="42.2" stroke="#000" stroke-width="0.4478" textLength="41.45" lengthAdjust="spacingAndGlyphs">sr</text>
<text x="796.34" y="148.2" font-size="42.2" stroke="#000" stroke-width="0.4478" textLength="71.27" lengthAdjust="spacingAndGlyphs">Var</text>
<text x="894.93" y="148.2" font-size="42.2" stroke="#000" stroke-width="0.4478" textLength="116.46" lengthAdjust="spacingAndGlyphs">Type:</text>
<text x="1032.8" y="148.2" font-size="42.2" stroke="#000" stroke-width="0.4478" textLength="92" lengthAdjust="spacingAndGlyphs">SRB</text>
<text x="1171.01" y="148.2" font-size="42.2" stroke="#000" stroke-width="0.4478" textLength="60.41" lengthAdjust="spacingAndGlyphs">SP</text>
<text x="1256.73" y="148.2" font-size="42.2" stroke="#000" stroke-width="0.4478" textLength="117.41" lengthAdjust="spacingAndGlyphs">Type:</text>
<text x="1056.49" y="77.93" font-size="34.77" stroke="#000" stroke-width="1.3" textLength="17.03" lengthAdjust="spacingAndGlyphs">*</text>
<text x="728.89" y="152.95" font-size="35.2" stroke="#000" stroke-width="1.3" textLength="16.91" lengthAdjust="spacingAndGlyphs">*</text>
<text x="1024.44" y="204.4" font-size="36.3" stroke="#000" stroke-width="0.7487000000000004" textLength="23.33" lengthAdjust="spacingAndGlyphs">V</text>
<text x="1047.47" y="214.6" font-size="23.5" stroke="#000" stroke-width="1.5" textLength="52.42" lengthAdjust="spacingAndGlyphs">med</text>
<text x="1121.33" y="204.6" font-size="36.3" stroke="#000" stroke-width="0.7487000000000004" textLength="29.89" lengthAdjust="spacingAndGlyphs">=</text>
<text x="1172.45" y="204.6" font-size="36.3" stroke="#000" stroke-width="0.7487000000000004" textLength="88.51" lengthAdjust="spacingAndGlyphs">9.89</text>
<text x="1281.3" y="204.6" font-size="36.3" stroke="#000" stroke-width="0.7487000000000004" textLength="85.52" lengthAdjust="spacingAndGlyphs">mag</text>
<text x="1387.6" y="204.6" font-size="36.3" stroke="#000" stroke-width="0.7487000000000004" textLength="84.43" lengthAdjust="spacingAndGlyphs">&lt;err</text>
<text x="1497.12" y="204.6" font-size="36.3" stroke="#000" stroke-width="0.7487000000000004" textLength="54.09" lengthAdjust="spacingAndGlyphs">V&gt;</text>
<text x="1572" y="204.6" font-size="36.3" stroke="#000" stroke-width="0.7487000000000004" textLength="29.23" lengthAdjust="spacingAndGlyphs">=</text>
<text x="1623.06" y="204.6" font-size="36.3" stroke="#000" stroke-width="0.7487000000000004" textLength="88.83" lengthAdjust="spacingAndGlyphs">0.02</text>
<text x="1731.45" y="204.6" font-size="36.3" stroke="#000" stroke-width="0.7487000000000004" textLength="86.39" lengthAdjust="spacingAndGlyphs">mag</text>
<text x="1476.15" y="197" font-size="36.3" stroke="#000" stroke-width="0.6" textLength="20.89" lengthAdjust="spacingAndGlyphs">_</text>
<text x="1205.71" y="870.4" font-size="36.3" stroke="#000" stroke-width="0.7487000000000004" textLength="26.81" lengthAdjust="spacingAndGlyphs">P</text>
<text x="1233.35" y="879.5" font-size="25" stroke="#000" stroke-width="1.4" textLength="44.43" lengthAdjust="spacingAndGlyphs">VSX</text>
<text x="1301.04" y="870.4" font-size="36.3" stroke="#000" stroke-width="0.7487000000000004" textLength="28.06" lengthAdjust="spacingAndGlyphs">=</text>
<text x="1354.87" y="870.4" font-size="36.3" stroke="#000" stroke-width="0.7487000000000004" textLength="212.77" lengthAdjust="spacingAndGlyphs">106.80000</text>
<text x="1586.79" y="870.4" font-size="36.3" stroke="#000" stroke-width="0.7487000000000004" textLength="90.02" lengthAdjust="spacingAndGlyphs">days</text>
<text x="1314.36" y="810" font-size="31.4" stroke="#000" stroke-width="0.9986000000000002" textLength="138.43" lengthAdjust="spacingAndGlyphs">Barytime</text>
<text x="1468.92" y="810" font-size="31.4" stroke="#000" stroke-width="0.9986000000000002" textLength="99.84" lengthAdjust="spacingAndGlyphs">(days)</text>
<text x="1395.11" y="1475.5" font-size="31.4" stroke="#000" stroke-width="0.9986000000000002" textLength="93.51" lengthAdjust="spacingAndGlyphs">phase</text>
<text x="478.58" y="1488" font-size="31.4" stroke="#000" stroke-width="0.9986000000000002" textLength="18.15" lengthAdjust="spacingAndGlyphs">V</text>
<text x="512.31" y="1488" font-size="31.4" stroke="#000" stroke-width="0.9986000000000002" textLength="97.46" lengthAdjust="spacingAndGlyphs">(mag)</text>
<text transform="translate(965.5 0) rotate(-90)" x="-539.92" y="0" font-size="31.4" stroke="#000" stroke-width="0.9986000000000002" textLength="18.26" lengthAdjust="spacingAndGlyphs" textLength="18.26" lengthAdjust="spacingAndGlyphs">V</text>
<text transform="translate(965.5 0) rotate(-90)" x="-505.35" y="0" font-size="31.4" stroke="#000" stroke-width="0.9986000000000002" textLength="96.38" lengthAdjust="spacingAndGlyphs" textLength="96.38" lengthAdjust="spacingAndGlyphs">(mag)</text>
<text transform="translate(965.5 0) rotate(-90)" x="-1205.82" y="0" font-size="31.4" stroke="#000" stroke-width="0.9986000000000002" textLength="18.26" lengthAdjust="spacingAndGlyphs" textLength="18.26" lengthAdjust="spacingAndGlyphs">V</text>
<text transform="translate(965.5 0) rotate(-90)" x="-1171.25" y="0" font-size="31.4" stroke="#000" stroke-width="0.9986000000000002" textLength="96.38" lengthAdjust="spacingAndGlyphs" textLength="96.38" lengthAdjust="spacingAndGlyphs">(mag)</text>
<text transform="translate(68.7 0) rotate(-90)" x="-1147.37" y="0" font-size="31.4" stroke="#000" stroke-width="0.9986000000000002" textLength="23.04" lengthAdjust="spacingAndGlyphs" textLength="23.04" lengthAdjust="spacingAndGlyphs">N</text>
<text x="1033.46" y="770.3" font-size="32" stroke="#000" stroke-width="0.9680000000000002">1000</text>
<text x="1180.82" y="770.3" font-size="32" stroke="#000" stroke-width="0.9680000000000002">1500</text>
<text x="1328.93" y="770.3" font-size="32" stroke="#000" stroke-width="0.9680000000000002">2000</text>
<text x="1476.29" y="770.3" font-size="32" stroke="#000" stroke-width="0.9680000000000002">2500</text>
<text x="1623.65" y="770.3" font-size="32" stroke="#000" stroke-width="0.9680000000000002">3000</text>
<text x="1771.01" y="770.3" font-size="32" stroke="#000" stroke-width="0.9680000000000002">3500</text>
<text x="1035.83" y="1436.6" font-size="32" stroke="#000" stroke-width="0.9680000000000002">−0.5</text>
<text x="1233.43" y="1436.6" font-size="32" stroke="#000" stroke-width="0.9680000000000002">0.0</text>
<text x="1417.88" y="1436.6" font-size="32" stroke="#000" stroke-width="0.9680000000000002">0.5</text>
<text x="1601.33" y="1436.6" font-size="32" stroke="#000" stroke-width="0.9680000000000002">1.0</text>
<text x="1785.78" y="1436.6" font-size="32" stroke="#000" stroke-width="0.9680000000000002">1.5</text>
<text x="1013.97" y="247.6" font-size="32" stroke="#000" stroke-width="0.9680000000000002">9.0</text>
<text x="1013.97" y="913.5" font-size="32" stroke="#000" stroke-width="0.9680000000000002">9.0</text>
<text x="1014.47" y="406.74" font-size="32" stroke="#000" stroke-width="0.9680000000000002">9.5</text>
<text x="1014.47" y="1072.63" font-size="32" stroke="#000" stroke-width="0.9680000000000002">9.5</text>
<text x="993.61" y="565.87" font-size="32" stroke="#000" stroke-width="0.9680000000000002">10.0</text>
<text x="993.61" y="1231.77" font-size="32" stroke="#000" stroke-width="0.9680000000000002">10.0</text>
<text x="994.11" y="725" font-size="32" stroke="#000" stroke-width="0.9680000000000002">10.5</text>
<text x="994.11" y="1390.9" font-size="32" stroke="#000" stroke-width="0.9680000000000002">10.5</text>
<text x="151.48" y="1449.6" font-size="32" stroke="#000" stroke-width="0.9680000000000002">9.0</text>
<text x="378.48" y="1449.6" font-size="32" stroke="#000" stroke-width="0.9680000000000002">9.5</text>
<text x="594.55" y="1449.6" font-size="32" stroke="#000" stroke-width="0.9680000000000002">10.0</text>
<text x="821.55" y="1449.6" font-size="32" stroke="#000" stroke-width="0.9680000000000002">10.5</text>
<text x="117.04" y="1313.74" font-size="32" stroke="#000" stroke-width="0.9680000000000002">20</text>
<text x="117.04" y="1224.88" font-size="32" stroke="#000" stroke-width="0.9680000000000002">40</text>
<text x="117.04" y="1136.02" font-size="32" stroke="#000" stroke-width="0.9680000000000002">60</text>
<text x="117.04" y="1047.16" font-size="32" stroke="#000" stroke-width="0.9680000000000002">80</text>
<text x="96.68" y="958.3" font-size="32" stroke="#000" stroke-width="0.9680000000000002">100</text>
<text x="137.4" y="1389.4" font-size="32" stroke="#000" stroke-width="0.9680000000000002">0</text>
</g></svg></body></html>
